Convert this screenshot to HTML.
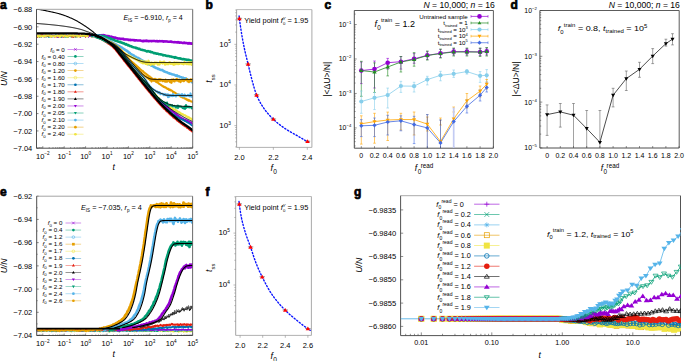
<!DOCTYPE html>
<html><head><meta charset="utf-8"><style>
html,body{margin:0;padding:0;background:#fff;}
svg{display:block;font-family:"Liberation Sans", sans-serif;}
</style></head><body>
<svg width="685" height="361" viewBox="0 0 685 361">
<rect width="685" height="361" fill="#fff"/>
<text x="0" y="9.2" font-size="12" font-weight="bold" fill="#000" stroke="#000" stroke-width="0.7" stroke-linejoin="round">a</text>
<clipPath id="clipA"><rect x="36.5" y="9.3" width="156.2" height="138.89999999999998"/></clipPath>
<text x="32.3" y="12.2" font-size="7.5" text-anchor="end">−6.88</text>
<line x1="36.5" y1="9.5" x2="38.5" y2="9.5" stroke="#333" stroke-width="0.6"/>
<text x="32.3" y="29.55" font-size="7.5" text-anchor="end">−6.90</text>
<line x1="36.5" y1="26.85" x2="38.5" y2="26.85" stroke="#333" stroke-width="0.6"/>
<text x="32.3" y="46.9" font-size="7.5" text-anchor="end">−6.92</text>
<line x1="36.5" y1="44.2" x2="38.5" y2="44.2" stroke="#333" stroke-width="0.6"/>
<text x="32.3" y="64.25" font-size="7.5" text-anchor="end">−6.94</text>
<line x1="36.5" y1="61.55" x2="38.5" y2="61.55" stroke="#333" stroke-width="0.6"/>
<text x="32.3" y="81.6" font-size="7.5" text-anchor="end">−6.96</text>
<line x1="36.5" y1="78.9" x2="38.5" y2="78.9" stroke="#333" stroke-width="0.6"/>
<text x="32.3" y="98.95" font-size="7.5" text-anchor="end">−6.98</text>
<line x1="36.5" y1="96.25" x2="38.5" y2="96.25" stroke="#333" stroke-width="0.6"/>
<text x="32.3" y="116.3" font-size="7.5" text-anchor="end">−7.00</text>
<line x1="36.5" y1="113.6" x2="38.5" y2="113.6" stroke="#333" stroke-width="0.6"/>
<text x="32.3" y="133.65" font-size="7.5" text-anchor="end">−7.02</text>
<line x1="36.5" y1="130.95" x2="38.5" y2="130.95" stroke="#333" stroke-width="0.6"/>
<text x="32.3" y="151" font-size="7.5" text-anchor="end">−7.04</text>
<line x1="36.5" y1="148.3" x2="38.5" y2="148.3" stroke="#333" stroke-width="0.6"/>
<text x="35.98" y="158.6" font-size="7.5">10<tspan font-size="4.65" dy="-3.15">−2</tspan></text>
<text x="57.38" y="158.6" font-size="7.5">10<tspan font-size="4.65" dy="-3.15">−1</tspan></text>
<text x="80.14" y="158.6" font-size="7.5">10<tspan font-size="4.65" dy="-3.15">0</tspan></text>
<text x="101.54" y="158.6" font-size="7.5">10<tspan font-size="4.65" dy="-3.15">1</tspan></text>
<text x="122.94" y="158.6" font-size="7.5">10<tspan font-size="4.65" dy="-3.15">2</tspan></text>
<text x="144.34" y="158.6" font-size="7.5">10<tspan font-size="4.65" dy="-3.15">3</tspan></text>
<text x="165.74" y="158.6" font-size="7.5">10<tspan font-size="4.65" dy="-3.15">4</tspan></text>
<text x="187.14" y="158.6" font-size="7.5">10<tspan font-size="4.65" dy="-3.15">5</tspan></text>
<line x1="38.05" y1="148.2" x2="38.05" y2="147.2" stroke="#444" stroke-width="0.6"/>
<line x1="39.49" y1="148.2" x2="39.49" y2="147.2" stroke="#444" stroke-width="0.6"/>
<line x1="40.73" y1="148.2" x2="40.73" y2="147.2" stroke="#444" stroke-width="0.6"/>
<line x1="41.82" y1="148.2" x2="41.82" y2="147.2" stroke="#444" stroke-width="0.6"/>
<line x1="42.8" y1="148.2" x2="42.8" y2="146.2" stroke="#444" stroke-width="0.6"/>
<line x1="49.24" y1="148.2" x2="49.24" y2="147.2" stroke="#444" stroke-width="0.6"/>
<line x1="53.01" y1="148.2" x2="53.01" y2="147.2" stroke="#444" stroke-width="0.6"/>
<line x1="55.68" y1="148.2" x2="55.68" y2="147.2" stroke="#444" stroke-width="0.6"/>
<line x1="57.76" y1="148.2" x2="57.76" y2="147.2" stroke="#444" stroke-width="0.6"/>
<line x1="59.45" y1="148.2" x2="59.45" y2="147.2" stroke="#444" stroke-width="0.6"/>
<line x1="60.89" y1="148.2" x2="60.89" y2="147.2" stroke="#444" stroke-width="0.6"/>
<line x1="62.13" y1="148.2" x2="62.13" y2="147.2" stroke="#444" stroke-width="0.6"/>
<line x1="63.22" y1="148.2" x2="63.22" y2="147.2" stroke="#444" stroke-width="0.6"/>
<line x1="64.2" y1="148.2" x2="64.2" y2="146.2" stroke="#444" stroke-width="0.6"/>
<line x1="70.64" y1="148.2" x2="70.64" y2="147.2" stroke="#444" stroke-width="0.6"/>
<line x1="74.41" y1="148.2" x2="74.41" y2="147.2" stroke="#444" stroke-width="0.6"/>
<line x1="77.08" y1="148.2" x2="77.08" y2="147.2" stroke="#444" stroke-width="0.6"/>
<line x1="79.16" y1="148.2" x2="79.16" y2="147.2" stroke="#444" stroke-width="0.6"/>
<line x1="80.85" y1="148.2" x2="80.85" y2="147.2" stroke="#444" stroke-width="0.6"/>
<line x1="82.29" y1="148.2" x2="82.29" y2="147.2" stroke="#444" stroke-width="0.6"/>
<line x1="83.53" y1="148.2" x2="83.53" y2="147.2" stroke="#444" stroke-width="0.6"/>
<line x1="84.62" y1="148.2" x2="84.62" y2="147.2" stroke="#444" stroke-width="0.6"/>
<line x1="85.6" y1="148.2" x2="85.6" y2="146.2" stroke="#444" stroke-width="0.6"/>
<line x1="92.04" y1="148.2" x2="92.04" y2="147.2" stroke="#444" stroke-width="0.6"/>
<line x1="95.81" y1="148.2" x2="95.81" y2="147.2" stroke="#444" stroke-width="0.6"/>
<line x1="98.48" y1="148.2" x2="98.48" y2="147.2" stroke="#444" stroke-width="0.6"/>
<line x1="100.56" y1="148.2" x2="100.56" y2="147.2" stroke="#444" stroke-width="0.6"/>
<line x1="102.25" y1="148.2" x2="102.25" y2="147.2" stroke="#444" stroke-width="0.6"/>
<line x1="103.69" y1="148.2" x2="103.69" y2="147.2" stroke="#444" stroke-width="0.6"/>
<line x1="104.93" y1="148.2" x2="104.93" y2="147.2" stroke="#444" stroke-width="0.6"/>
<line x1="106.02" y1="148.2" x2="106.02" y2="147.2" stroke="#444" stroke-width="0.6"/>
<line x1="107" y1="148.2" x2="107" y2="146.2" stroke="#444" stroke-width="0.6"/>
<line x1="113.44" y1="148.2" x2="113.44" y2="147.2" stroke="#444" stroke-width="0.6"/>
<line x1="117.21" y1="148.2" x2="117.21" y2="147.2" stroke="#444" stroke-width="0.6"/>
<line x1="119.88" y1="148.2" x2="119.88" y2="147.2" stroke="#444" stroke-width="0.6"/>
<line x1="121.96" y1="148.2" x2="121.96" y2="147.2" stroke="#444" stroke-width="0.6"/>
<line x1="123.65" y1="148.2" x2="123.65" y2="147.2" stroke="#444" stroke-width="0.6"/>
<line x1="125.09" y1="148.2" x2="125.09" y2="147.2" stroke="#444" stroke-width="0.6"/>
<line x1="126.33" y1="148.2" x2="126.33" y2="147.2" stroke="#444" stroke-width="0.6"/>
<line x1="127.42" y1="148.2" x2="127.42" y2="147.2" stroke="#444" stroke-width="0.6"/>
<line x1="128.4" y1="148.2" x2="128.4" y2="146.2" stroke="#444" stroke-width="0.6"/>
<line x1="134.84" y1="148.2" x2="134.84" y2="147.2" stroke="#444" stroke-width="0.6"/>
<line x1="138.61" y1="148.2" x2="138.61" y2="147.2" stroke="#444" stroke-width="0.6"/>
<line x1="141.28" y1="148.2" x2="141.28" y2="147.2" stroke="#444" stroke-width="0.6"/>
<line x1="143.36" y1="148.2" x2="143.36" y2="147.2" stroke="#444" stroke-width="0.6"/>
<line x1="145.05" y1="148.2" x2="145.05" y2="147.2" stroke="#444" stroke-width="0.6"/>
<line x1="146.49" y1="148.2" x2="146.49" y2="147.2" stroke="#444" stroke-width="0.6"/>
<line x1="147.73" y1="148.2" x2="147.73" y2="147.2" stroke="#444" stroke-width="0.6"/>
<line x1="148.82" y1="148.2" x2="148.82" y2="147.2" stroke="#444" stroke-width="0.6"/>
<line x1="149.8" y1="148.2" x2="149.8" y2="146.2" stroke="#444" stroke-width="0.6"/>
<line x1="156.24" y1="148.2" x2="156.24" y2="147.2" stroke="#444" stroke-width="0.6"/>
<line x1="160.01" y1="148.2" x2="160.01" y2="147.2" stroke="#444" stroke-width="0.6"/>
<line x1="162.68" y1="148.2" x2="162.68" y2="147.2" stroke="#444" stroke-width="0.6"/>
<line x1="164.76" y1="148.2" x2="164.76" y2="147.2" stroke="#444" stroke-width="0.6"/>
<line x1="166.45" y1="148.2" x2="166.45" y2="147.2" stroke="#444" stroke-width="0.6"/>
<line x1="167.89" y1="148.2" x2="167.89" y2="147.2" stroke="#444" stroke-width="0.6"/>
<line x1="169.13" y1="148.2" x2="169.13" y2="147.2" stroke="#444" stroke-width="0.6"/>
<line x1="170.22" y1="148.2" x2="170.22" y2="147.2" stroke="#444" stroke-width="0.6"/>
<line x1="171.2" y1="148.2" x2="171.2" y2="146.2" stroke="#444" stroke-width="0.6"/>
<line x1="177.64" y1="148.2" x2="177.64" y2="147.2" stroke="#444" stroke-width="0.6"/>
<line x1="181.41" y1="148.2" x2="181.41" y2="147.2" stroke="#444" stroke-width="0.6"/>
<line x1="184.08" y1="148.2" x2="184.08" y2="147.2" stroke="#444" stroke-width="0.6"/>
<line x1="186.16" y1="148.2" x2="186.16" y2="147.2" stroke="#444" stroke-width="0.6"/>
<line x1="187.85" y1="148.2" x2="187.85" y2="147.2" stroke="#444" stroke-width="0.6"/>
<line x1="189.29" y1="148.2" x2="189.29" y2="147.2" stroke="#444" stroke-width="0.6"/>
<line x1="190.53" y1="148.2" x2="190.53" y2="147.2" stroke="#444" stroke-width="0.6"/>
<line x1="191.62" y1="148.2" x2="191.62" y2="147.2" stroke="#444" stroke-width="0.6"/>
<line x1="192.6" y1="148.2" x2="192.6" y2="146.2" stroke="#444" stroke-width="0.6"/>
<text x="112.6" y="169.9" font-size="8.8" font-style="italic">t</text>
<text transform="translate(7.3,85.9) rotate(-90)" font-size="8.2" font-style="italic" textLength="14.6" lengthAdjust="spacingAndGlyphs">U/N</text>
<text x="123.4" y="20.1" font-size="7.3" textLength="59.3" lengthAdjust="spacingAndGlyphs"><tspan font-style="italic">E</tspan><tspan font-size="4.6" dy="2.2">IS</tspan><tspan dy="-2.2"> = −6.910, </tspan><tspan font-style="italic">r</tspan><tspan font-size="4.6" dy="2.2">p</tspan><tspan dy="-2.2"> = 4</tspan></text>
<text x="64.8" y="51.5" font-size="6.2" text-anchor="end"><tspan font-style="italic">f</tspan><tspan font-size="4.3" dy="1.4">0</tspan><tspan dy="-1.4"> = 0</tspan></text>
<line x1="67.5" y1="49.4" x2="83.5" y2="49.4" stroke="#9400d3" stroke-width="0.7" opacity="0.65"/>
<path d="M74.05,48.05L76.75,50.75M74.05,50.75L76.75,48.05" stroke="#9400d3" stroke-width="0.6"/>
<text x="64.8" y="58.57" font-size="6.2" text-anchor="end"><tspan font-style="italic">f</tspan><tspan font-size="4.3" dy="1.4">0</tspan><tspan dy="-1.4"> = 0.40</tspan></text>
<line x1="67.5" y1="56.47" x2="83.5" y2="56.47" stroke="#009e73" stroke-width="0.7" opacity="0.65"/>
<circle cx="75.4" cy="56.47" r="1.35" fill="#009e73"/>
<text x="64.8" y="65.64" font-size="6.2" text-anchor="end"><tspan font-style="italic">f</tspan><tspan font-size="4.3" dy="1.4">0</tspan><tspan dy="-1.4"> = 0.80</tspan></text>
<line x1="67.5" y1="63.54" x2="83.5" y2="63.54" stroke="#56b4e9" stroke-width="0.7" opacity="0.65"/>
<circle cx="75.4" cy="63.54" r="1.35" fill="none" stroke="#56b4e9" stroke-width="0.6"/>
<text x="64.8" y="72.71" font-size="6.2" text-anchor="end"><tspan font-style="italic">f</tspan><tspan font-size="4.3" dy="1.4">0</tspan><tspan dy="-1.4"> = 1.20</tspan></text>
<line x1="67.5" y1="70.61" x2="83.5" y2="70.61" stroke="#e69f00" stroke-width="0.7" opacity="0.65"/>
<circle cx="75.4" cy="70.61" r="1.35" fill="#e69f00"/>
<text x="64.8" y="79.78" font-size="6.2" text-anchor="end"><tspan font-style="italic">f</tspan><tspan font-size="4.3" dy="1.4">0</tspan><tspan dy="-1.4"> = 1.60</tspan></text>
<line x1="67.5" y1="77.68" x2="83.5" y2="77.68" stroke="#f0e442" stroke-width="0.7" opacity="0.65"/>
<circle cx="75.4" cy="77.68" r="1.35" fill="none" stroke="#f0e442" stroke-width="0.6"/>
<text x="64.8" y="86.85" font-size="6.2" text-anchor="end"><tspan font-style="italic">f</tspan><tspan font-size="4.3" dy="1.4">0</tspan><tspan dy="-1.4"> = 1.70</tspan></text>
<line x1="67.5" y1="84.75" x2="83.5" y2="84.75" stroke="#0072b2" stroke-width="0.7" opacity="0.65"/>
<circle cx="75.4" cy="84.75" r="1.35" fill="#0072b2"/>
<text x="64.8" y="93.92" font-size="6.2" text-anchor="end"><tspan font-style="italic">f</tspan><tspan font-size="4.3" dy="1.4">0</tspan><tspan dy="-1.4"> = 1.80</tspan></text>
<line x1="67.5" y1="91.82" x2="83.5" y2="91.82" stroke="#e51e10" stroke-width="0.7" opacity="0.65"/>
<path d="M75.4,90.27L76.89,92.83L73.92,92.83Z" fill="#e51e10"/>
<text x="64.8" y="100.99" font-size="6.2" text-anchor="end"><tspan font-style="italic">f</tspan><tspan font-size="4.3" dy="1.4">0</tspan><tspan dy="-1.4"> = 1.90</tspan></text>
<line x1="67.5" y1="98.89" x2="83.5" y2="98.89" stroke="#000000" stroke-width="0.7" opacity="0.65"/>
<path d="M75.4,97.34L76.89,99.9L73.92,99.9Z" fill="#000000"/>
<text x="64.8" y="108.06" font-size="6.2" text-anchor="end"><tspan font-style="italic">f</tspan><tspan font-size="4.3" dy="1.4">0</tspan><tspan dy="-1.4"> = 2.00</tspan></text>
<line x1="67.5" y1="105.96" x2="83.5" y2="105.96" stroke="#9400d3" stroke-width="0.7" opacity="0.65"/>
<path d="M75.4,107.51L76.89,104.95L73.92,104.95Z" fill="#9400d3"/>
<text x="64.8" y="115.13" font-size="6.2" text-anchor="end"><tspan font-style="italic">f</tspan><tspan font-size="4.3" dy="1.4">0</tspan><tspan dy="-1.4"> = 2.05</tspan></text>
<line x1="67.5" y1="113.03" x2="83.5" y2="113.03" stroke="#009e73" stroke-width="0.7" opacity="0.65"/>
<path d="M75.4,114.58L76.89,112.02L73.92,112.02Z" fill="#009e73"/>
<text x="64.8" y="122.2" font-size="6.2" text-anchor="end"><tspan font-style="italic">f</tspan><tspan font-size="4.3" dy="1.4">0</tspan><tspan dy="-1.4"> = 2.10</tspan></text>
<line x1="67.5" y1="120.1" x2="83.5" y2="120.1" stroke="#56b4e9" stroke-width="0.7" opacity="0.65"/>
<circle cx="75.4" cy="120.1" r="1.35" fill="#56b4e9"/>
<text x="64.8" y="129.27" font-size="6.2" text-anchor="end"><tspan font-style="italic">f</tspan><tspan font-size="4.3" dy="1.4">0</tspan><tspan dy="-1.4"> = 2.20</tspan></text>
<line x1="67.5" y1="127.17" x2="83.5" y2="127.17" stroke="#e69f00" stroke-width="0.7" opacity="0.65"/>
<circle cx="75.4" cy="127.17" r="1.35" fill="#e69f00"/>
<text x="64.8" y="136.34" font-size="6.2" text-anchor="end"><tspan font-style="italic">f</tspan><tspan font-size="4.3" dy="1.4">0</tspan><tspan dy="-1.4"> = 2.40</tspan></text>
<line x1="67.5" y1="134.24" x2="83.5" y2="134.24" stroke="#f0e442" stroke-width="0.7" opacity="0.65"/>
<circle cx="75.4" cy="134.24" r="1.35" fill="#f0e442"/>
<g clip-path="url(#clipA)">
<polyline points="36.5,35.25 37,36.43 37.5,36.86 38,36.71 38.5,35.57 39,37.05 39.5,36.7 40,36.61 40.5,36.54 41,36.7 41.5,37.47 42,35.27 42.5,35.74 43,37.03 43.5,34.75 44,36.07 44.5,35.4 45,36.01 45.5,36.48 46,34.76 46.5,35.53 47,35.24 47.5,36.12 48,35.73 48.5,37.31 49,35.62 49.5,37.26 50,35.57 50.5,35.99 51,35.76 51.5,35.71 52,34.87 52.5,36.01 53,36.12 53.5,36.1 54,36.5 54.5,35.52 55,35.99 55.5,35.78 56,35.02 56.5,36.56 57,35.77 57.5,36.11 58,37.76 58.5,36.14 59,35.95 59.5,36.59 60,36.66 60.5,37.06 61,35.32 61.5,37.11 62,35.74 62.5,35.06 63,35.34 63.5,36.97 64,36.79 64.5,37.24 65,35.61 65.5,36.03 66,35.34 66.5,34.68 67,36.05 67.5,37.15 68,36.7 68.5,35.2 69,36.6 69.5,35.27 70,35.95 70.5,36.38 71,35.53 71.5,35.27 72,36.53 72.5,36.01 73,35.81 73.5,36.75 74,36.14 74.5,36.57 75,35.51 75.5,36.7 76,35.35 76.5,35.67 77,34.45 77.5,36.65 78,35.79 78.5,36.05 79,34.44 79.5,35.88 80,35.55 80.5,36.84 81,34.87 81.5,36.41 82,37.02 82.5,35.39 83,36.38 83.5,35.47 84,36.27 84.5,36.4 85,37.04 85.5,36.08 86,35.34 86.5,36.2 87,35.72 87.5,36.51 88,35.26 88.5,36.77 89,35.97 89.5,36.13 90,36.8 90.5,35.75 91,35.85 91.5,36.66 92,36.24 92.5,36.32 93,35.93 93.5,35.92 94,36.7 94.5,37.42 95,34.81 95.5,36.91" fill="none" stroke="#0072b2" stroke-width="0.8" stroke-linejoin="round" stroke-linecap="round"/>
<polyline points="36.5,35.7 37,34.74 37.5,36.65 38,36.67 38.5,35.78 39,36.18 39.5,37.1 40,36.54 40.5,36.24 41,36.22 41.5,35.09 42,36.53 42.5,34.66 43,35.75 43.5,35.77 44,34.89 44.5,36.18 45,37.53 45.5,36.04 46,35.36 46.5,36.13 47,36.75 47.5,36.15 48,35.9 48.5,34.75 49,36.12 49.5,36.07 50,36.71 50.5,36.86 51,36.32 51.5,34.67 52,34.92 52.5,35.28 53,36.41 53.5,35.67 54,37.28 54.5,36.48 55,36.53 55.5,36.75 56,36.36 56.5,34.94 57,37.73 57.5,36.9 58,36.88 58.5,35.14 59,34.32 59.5,34.61 60,35.02 60.5,36.56 61,36.68 61.5,37.2 62,37.8 62.5,36.65 63,36.56 63.5,36.02 64,36 64.5,35.32 65,36.48 65.5,36.23 66,35.59 66.5,35.19 67,36.08 67.5,36.68 68,35.77 68.5,35.96 69,35.4 69.5,35.72 70,35.77 70.5,35.9 71,35.75 71.5,36.56 72,37.27 72.5,35.58 73,37.3 73.5,35.88 74,35.82 74.5,34.37 75,34.07 75.5,36.35 76,34.92 76.5,36.31 77,35.75 77.5,35.94 78,36.82 78.5,35.86 79,33.57 79.5,34.81 80,36.93 80.5,37.77 81,36.23 81.5,35.77 82,35.21 82.5,36.59 83,34.74 83.5,35.05 84,35.98 84.5,35.87 85,35.54 85.5,36.5 86,34.78 86.5,34.86 87,35.51 87.5,35.97 88,35.77 88.5,37.62 89,35.76 89.5,36.75 90,35.86 90.5,36.53 91,35.92 91.5,35.88 92,37.3 92.5,35.72 93,37.16 93.5,35.24 94,35.38 94.5,36.53 95,33.85 95.5,34.5" fill="none" stroke="#9400d3" stroke-width="0.8" stroke-linejoin="round" stroke-linecap="round"/>
<polyline points="36.5,36.51 37,37.56 37.5,36.55 38,34.95 38.5,35.27 39,36.35 39.5,35.69 40,36.68 40.5,34.41 41,37.55 41.5,37.48 42,35.08 42.5,36.02 43,35.84 43.5,36.02 44,37.02 44.5,35.85 45,35.47 45.5,36.6 46,36.98 46.5,35.54 47,36.03 47.5,34.67 48,36.51 48.5,37.52 49,36.3 49.5,35.88 50,34.47 50.5,35.89 51,34.65 51.5,36.9 52,37.72 52.5,37.43 53,36.46 53.5,36.65 54,35.67 54.5,36.26 55,36.16 55.5,35.87 56,33.74 56.5,35.96 57,36.09 57.5,35.18 58,36.15 58.5,36.53 59,34.33 59.5,36.8 60,35.78 60.5,35.34 61,36.39 61.5,35.66 62,35.87 62.5,35.38 63,35.55 63.5,35.03 64,35.41 64.5,34.93 65,34.66 65.5,36.49 66,35.69 66.5,36.03 67,37.1 67.5,36.37 68,35.97 68.5,35.21 69,36.77 69.5,36.6 70,37.07 70.5,36.18 71,35.96 71.5,34.56 72,36.53 72.5,34.8 73,35.5 73.5,36.17 74,35.76 74.5,35.59 75,36.01 75.5,34.31 76,35.79 76.5,36.82 77,36.84 77.5,34.88 78,36.87 78.5,36.55 79,35.48 79.5,35.19 80,36.1 80.5,37.23 81,36.44 81.5,35.23 82,35.94 82.5,36.58 83,35.63 83.5,35.3 84,36.01 84.5,34.07 85,36.09 85.5,34.78 86,35.87 86.5,36.32 87,36.03 87.5,35.62 88,35.94 88.5,36.88 89,35.16 89.5,35.45 90,36.31 90.5,36.58 91,35.84 91.5,35.35 92,36.24 92.5,35.35 93,37.25 93.5,36.73 94,37.22 94.5,35.11 95,35.58 95.5,35.84" fill="none" stroke="#56b4e9" stroke-width="0.8" stroke-linejoin="round" stroke-linecap="round"/>
<polyline points="36.5,36.55 37,34.74 37.5,36.2 38,34.86 38.5,36.64 39,34.77 39.5,35.51 40,35.68 40.5,34.64 41,36.92 41.5,35.14 42,35.3 42.5,35.81 43,36.72 43.5,35.45 44,37.45 44.5,35.84 45,35.56 45.5,36.06 46,35.6 46.5,34.92 47,35.35 47.5,35.97 48,37.12 48.5,36.24 49,36.5 49.5,34.55 50,36.08 50.5,36.28 51,37.6 51.5,37.43 52,36.24 52.5,36.45 53,35.9 53.5,35.31 54,35.78 54.5,35.44 55,35.94 55.5,36.23 56,35.62 56.5,36.68 57,35.1 57.5,36.06 58,36.3 58.5,34.85 59,36.75 59.5,36.84 60,37.57 60.5,36.2 61,36.61 61.5,36.54 62,34.72 62.5,36.08 63,34.69 63.5,35.93 64,36.25 64.5,35.93 65,34.23 65.5,36.95 66,36.18 66.5,36.81 67,35.64 67.5,35.94 68,37.85 68.5,36.15 69,35.96 69.5,35.95 70,36.9 70.5,34.87 71,35.7 71.5,35.18 72,37.65 72.5,36.53 73,35.78 73.5,35.9 74,35.61 74.5,35.53 75,35.83 75.5,37.39 76,35.94 76.5,36.04 77,36.52 77.5,37.41 78,36.64 78.5,35.43 79,36.19 79.5,36.06 80,34.94 80.5,35.28 81,36.03 81.5,35.39 82,36.97 82.5,35.99 83,35.44 83.5,35.81 84,35.28 84.5,35.57 85,36.75 85.5,36.2 86,34.85 86.5,35.3 87,36.72 87.5,35.37 88,35.91 88.5,36.87 89,35.77 89.5,35.64 90,35.48 90.5,36.53 91,35.19 91.5,34.82 92,35.86 92.5,37.11 93,36.26 93.5,37.26 94,37.12 94.5,35.43 95,36.37 95.5,36.26" fill="none" stroke="#e69f00" stroke-width="0.8" stroke-linejoin="round" stroke-linecap="round"/>
<polyline points="36.5,36.24 37,36.33 37.5,35.54 38,36.11 38.5,36.2 39,36.31 39.5,37.93 40,36.08 40.5,36.03 41,35.84 41.5,36.87 42,35.68 42.5,35.82 43,36.46 43.5,36.3 44,34.97 44.5,37.07 45,35.96 45.5,36.53 46,36.16 46.5,37.3 47,35.86 47.5,35.74 48,36.58 48.5,37.34 49,36.29 49.5,36.93 50,37.36 50.5,35.03 51,37.03 51.5,36.75 52,35.44 52.5,35.7 53,35.36 53.5,36.34 54,35.3 54.5,36.32 55,36.98 55.5,34.72 56,36.46 56.5,36.17 57,35.92 57.5,36.65 58,36.21 58.5,35.1 59,35.74 59.5,36.08 60,35.43 60.5,34.88 61,37.66 61.5,36.83 62,36.69 62.5,35.8 63,34.21 63.5,35.62 64,36.33 64.5,35.69 65,35.69 65.5,36.48 66,37.88 66.5,36.55 67,36.41 67.5,35.73 68,37.36 68.5,36.39 69,36.01 69.5,35.72 70,35.44 70.5,36 71,37.36 71.5,35.88 72,36.29 72.5,35.39 73,36.3 73.5,35.09 74,37.36 74.5,35.97 75,36.81 75.5,36.56 76,37.53 76.5,36.85 77,36.81 77.5,35.03 78,35.3 78.5,35.17 79,35.13 79.5,35.15 80,36.44 80.5,35.72 81,35.81 81.5,35.18 82,35.26 82.5,35.05 83,36.97 83.5,36.33 84,36.84 84.5,36.49 85,35.62 85.5,36.2 86,34.56 86.5,36.61 87,35.99 87.5,36.04 88,35.86 88.5,36.19 89,35.53 89.5,35.74 90,35.25 90.5,35.65 91,36.18 91.5,36.73 92,35.86 92.5,35.16 93,34.87 93.5,36.1 94,35.73 94.5,36.68 95,37.38 95.5,35.47" fill="none" stroke="#009e73" stroke-width="0.8" stroke-linejoin="round" stroke-linecap="round"/>
<polyline points="36.5,36.13 37,37.19 37.5,37.78 38,36.26 38.5,36.09 39,37 39.5,36.16 40,36.63 40.5,37.11 41,36.24 41.5,36.57 42,33.96 42.5,36.49 43,35.61 43.5,35.09 44,35.77 44.5,35.1 45,35.21 45.5,34.65 46,35.77 46.5,35.27 47,35.7 47.5,36.87 48,36.25 48.5,35.15 49,36.35 49.5,36.66 50,35.84 50.5,35.76 51,35.62 51.5,34.94 52,36.51 52.5,36.14 53,35.81 53.5,35.94 54,35.97 54.5,37.29 55,36.01 55.5,34.99 56,36.38 56.5,36.91 57,36.68 57.5,35.79 58,34.75 58.5,37.44 59,35.04 59.5,35.81 60,35.55 60.5,35.17 61,35.37 61.5,34.91 62,35.15 62.5,35.55 63,35.94 63.5,37.96 64,35.44 64.5,37.08 65,36.28 65.5,35.89 66,35.04 66.5,35.97 67,35.13 67.5,36.02 68,35.98 68.5,34.74 69,36.48 69.5,35.5 70,35.69 70.5,35.96 71,35.55 71.5,36.74 72,37.29 72.5,36.3 73,36.94 73.5,37.72 74,36.82 74.5,36.11 75,37.12 75.5,36.23 76,35.88 76.5,34.83 77,35.94 77.5,35.12 78,35.91 78.5,34.12 79,34.85 79.5,36.92 80,37.22 80.5,36.27 81,36.3 81.5,34.41 82,36.58 82.5,35.74 83,34.59 83.5,35.42 84,35.3 84.5,36.53 85,36.06 85.5,37.64 86,36.87 86.5,35.74 87,36.07 87.5,34.73 88,36.36 88.5,35.53 89,36.01 89.5,36.25 90,36.14 90.5,35.88 91,36.83 91.5,36.88 92,34.37 92.5,35.79 93,36.04 93.5,35.64 94,36.11 94.5,36.54 95,35.91 95.5,35.62" fill="none" stroke="#e51e10" stroke-width="0.8" stroke-linejoin="round" stroke-linecap="round"/>
<polyline points="36.5,35.47 37,36.23 37.5,35.89 38,35.62 38.5,36.79 39,35.62 39.5,35.91 40,36.78 40.5,35.8 41,36.22 41.5,35.88 42,36.64 42.5,36.23 43,35.63 43.5,35.68 44,36.48 44.5,35.87 45,36.45 45.5,35.12 46,36.19 46.5,35.24 47,35.53 47.5,35.56 48,35.52 48.5,35.13 49,35.74 49.5,35.95 50,36.14 50.5,36.52 51,35.5 51.5,36.28 52,35.82 52.5,36.3 53,36.33 53.5,36.04 54,36.25 54.5,36.09 55,36 55.5,36.99 56,35.54 56.5,35.65 57,35.55 57.5,36.04 58,35.66 58.5,35.76 59,36.33 59.5,35.42 60,35.35 60.5,36.72 61,34.96 61.5,35.51 62,34.67 62.5,35.34 63,36.01 63.5,36.7 64,35.51 64.5,35.47 65,35.98 65.5,36.15 66,35.9 66.5,35.82 67,36.78 67.5,36.15 68,36.35 68.5,35.39 69,35.75 69.5,35.02 70,35.95 70.5,35.58 71,35.56 71.5,35.74 72,34.82 72.5,34.88 73,35.85 73.5,35.37 74,36.14 74.5,35.58 75,35.14 75.5,35.45 76,35.55 76.5,35.99 77,35.92 77.5,36.05 78,35.59 78.5,35.94 79,36.72 79.5,36.58 80,35.63 80.5,35.87 81,35.59 81.5,36.03 82,35.72 82.5,35.38 83,35.8 83.5,35.1 84,35.56 84.5,35.95 85,36.01 85.5,35.8 86,35.4 86.5,36.19 87,36.47 87.5,36.31 88,36.11 88.5,35.81 89,35.88 89.5,36.08 90,35.76 90.5,35.8 91,35.82 91.5,36.89 92,35.8 92.5,36.03 93,35.52 93.5,35.48 94,36.44 94.5,35.72 95,35.61 95.5,35.79 96,36.21 96.5,36.1 97,35.35 97.5,35.72" fill="none" stroke="#f0e442" stroke-width="1.7" stroke-linejoin="round" stroke-linecap="round"/>
<polyline points="90,35.63 90.5,35.51 91,35.53 91.5,35.16 92,35.92 92.5,35.81 93,35.54 93.5,35.74 94,35.65 94.5,35.5 95,35.78 95.5,35.54 96,35.52 96.5,35.42 97,35.62 97.5,35.49 98,35.57 98.5,35.33 99,35.43 99.5,35.21 100,35.5 100.5,35.36 101,35.37 101.5,35.37 102,35.12 102.5,35.46 103,35.72 103.5,35.1 104,35.13 104.5,35.23 105,35.73 105.5,35.67 106,35.93 106.5,35.95 107,35.95 107.5,36.06 108,36.08 108.5,36.36 109,36.1 109.5,36.33 110,36.54 110.5,36.93 111,36.59 111.5,36.67 112,36.9 112.5,37.33 113,37.25 113.5,37.67 114,37.23 114.5,37.88 115,37.97 115.5,37.62 116,38 116.5,38.29 117,38.17 117.5,38.43 118,38.76 118.5,38.46 119,38.45 119.5,38.44 120,38.77 120.5,38.69 121,38.77 121.5,38.85 122,39.06 122.5,38.82 123,38.8 123.5,38.7 124,39.42 124.5,39.27 125,39.59 125.5,39.38 126,39.31 126.5,39.58 127,39.54 127.5,39.39 128,39.51 128.5,40.04 129,39.84 129.5,39.9 130,39.82 130.5,39.8 131,40.13 131.5,40 132,39.92 132.5,40.08 133,39.98 133.5,40.22 134,40.43 134.5,40.11 135,40.56 135.5,40.22 136,40.4 136.5,40.25 137,40.4 137.5,40.48 138,40.43 138.5,40.41 139,40.45 139.5,40.46 140,40.35 140.5,40.62 141,40.77 141.5,40.89 142,40.87 142.5,41.22 143,40.86 143.5,40.75 144,41.19 144.5,40.69 145,41.07 145.5,40.75 146,41 146.5,40.6 147,41.13 147.5,40.96 148,40.83 148.5,41.31 149,41.16 149.5,41.04 150,40.91 150.5,41.04 151,41.03 151.5,41.2 152,41.22 152.5,40.96 153,40.99 153.5,41 154,40.86 154.5,41 155,41.09 155.5,41.24 156,41.36 156.5,40.99 157,41.24 157.5,41.07 158,41.53 158.5,41.16 159,41.27 159.5,41.02 160,41.05 160.5,41.25 161,41.16 161.5,41.31 162,40.99 162.5,41.41 163,41.16 163.5,41.66 164,41.32 164.5,41.6 165,41.19 165.5,41.55 166,41.34 166.5,41.45 167,41.58 167.5,41.56 168,41.7 168.5,41.82 169,41.85 169.5,41.75 170,41.56 170.5,41.7 171,41.85 171.5,41.55 172,42.11 172.5,41.97 173,42 173.5,42.26 174,42.25 174.5,42.2 175,42.02 175.5,42.29 176,42.33 176.5,42.15 177,42.53 177.5,42.47 178,42.07 178.5,42.48 179,42.27 179.5,42.74 180,42.72 180.5,42.41 181,42.49 181.5,42.7 182,42.68 182.5,43.04 183,42.94 183.5,42.79 184,42.99 184.5,42.56 185,43.02 185.5,43.16 186,43.01 186.5,42.95 187,43.22 187.5,43.52 188,43.24 188.5,43.04 189,43.55 189.5,42.99 190,43.46 190.5,43.31 191,43.62 191.5,43.34 192,43.78 192.5,43.64" fill="none" stroke="#9400d3" stroke-width="2.5" stroke-linejoin="round" stroke-linecap="round"/>
<polyline points="92,35.95 92.5,35.13 93,35.67 93.5,35.49 94,35.51 94.5,35.56 95,35.24 95.5,35.56 96,35.45 96.5,36.22 97,35.67 97.5,35.59 98,35.62 98.5,35.57 99,35.52 99.5,35.67 100,35.85 100.5,35.75 101,36 101.5,35.83 102,35.9 102.5,36.23 103,36.13 103.5,36.05 104,36.24 104.5,36.53 105,36.95 105.5,36.74 106,36.94 106.5,37.37 107,37.24 107.5,37.56 108,37.98 108.5,38.13 109,38.25 109.5,38.54 110,38.09 110.5,38.96 111,38.77 111.5,38.82 112,39.34 112.5,39.59 113,39.56 113.5,39.62 114,39.99 114.5,40.15 115,40.59 115.5,40.64 116,40.72 116.5,41.06 117,41 117.5,41.05 118,41.51 118.5,41.69 119,41.72 119.5,41.81 120,42.17 120.5,41.87 121,42.63 121.5,42.78 122,42.58 122.5,43.07 123,43.08 123.5,43.57 124,43.26 124.5,43.65 125,44.13 125.5,44.4 126,43.99 126.5,44.48 127,44.82 127.5,44.84 128,45.43 128.5,45.13 129,45.6 129.5,45.54 130,46.17 130.5,46.1 131,46.22 131.5,46.16 132,46.95 132.5,46.96 133,47.14 133.5,47.37 134,47.4 134.5,47.39 135,47.52 135.5,47.69 136,48.24 136.5,47.89 137,48.21 137.5,48.42 138,48.67 138.5,48.89 139,48.71 139.5,48.78 140,49.24 140.5,49.6 141,49.67 141.5,49.71 142,49.76 142.5,50.01 143,50.05 143.5,50.37 144,50.22 144.5,50.51 145,50.59 145.5,50.83 146,50.89 146.5,51.43 147,51.36 147.5,51.48 148,50.96 148.5,51.38 149,51.45 149.5,51.77 150,51.39 150.5,52.13 151,52.24 151.5,51.94 152,52.12 152.5,52.28 153,52.56 153.5,52.79 154,53.17 154.5,52.9 155,53.2 155.5,53.22 156,53.63 156.5,53.57 157,53.81 157.5,53.5 158,53.78 158.5,53.79 159,54.33 159.5,54.3 160,54.25 160.5,54.34 161,54.62 161.5,54.53 162,54.61 162.5,54.98 163,55.45 163.5,55.08 164,55.14 164.5,55.14 165,55.22 165.5,55.67 166,55.84 166.5,55.79 167,55.96 167.5,56.02 168,56.13 168.5,55.92 169,56.21 169.5,56.41 170,56.34 170.5,56.49 171,56.52 171.5,56.7 172,57 172.5,56.86 173,57 173.5,57.26 174,57.33 174.5,57.61 175,57.02 175.5,57.65 176,57.51 176.5,57.72 177,57.95 177.5,58.09 178,58.19 178.5,58.13 179,58.5 179.5,58.26 180,58.39 180.5,58.66 181,58.52 181.5,59.1 182,59 182.5,59.31 183,59.01 183.5,59.04 184,59.23 184.5,59.42 185,59.28 185.5,59.54 186,59.56 186.5,59.94 187,59.62 187.5,60.02 188,59.8 188.5,59.83 189,59.96 189.5,59.96 190,60.29 190.5,60.53 191,60.45 191.5,60.62 192,60.88 192.5,60.72" fill="none" stroke="#009e73" stroke-width="2.5" stroke-linejoin="round" stroke-linecap="round"/>
<polyline points="94,35.66 94.5,35.75 95,36.09 95.5,35.91 96,35.5 96.5,35.82 97,35.76 97.5,35.97 98,35.76 98.5,36.21 99,36.35 99.5,36.74 100,36.69 100.5,36.9 101,36.73 101.5,37.6 102,37.05 102.5,37.8 103,37.74 103.5,37.85 104,38.08 104.5,38.28 105,38.69 105.5,38.84 106,39.37 106.5,39.04 107,39.64 107.5,39.76 108,40.35 108.5,40.12 109,40.73 109.5,41.13 110,41.11 110.5,41.85 111,41.99 111.5,42.41 112,42.67 112.5,42.59 113,42.88 113.5,43.24 114,43.67 114.5,43.94 115,43.91 115.5,44.18 116,44.4 116.5,44.7 117,45.02 117.5,45.31 118,45.97 118.5,45.78 119,46.09 119.5,46.5 120,46.52 120.5,46.9 121,47.24 121.5,47.66 122,47.57 122.5,48.34 123,48.32 123.5,48.71 124,49.13 124.5,49.41 125,49.79 125.5,49.95 126,50.26 126.5,50.67 127,50.79 127.5,51.55 128,51.57 128.5,51.86 129,52.83 129.5,52.81 130,53 130.5,53.91 131,53.89 131.5,54.49 132,54.5 132.5,54.94 133,55 133.5,55.26 134,55.73 134.5,56.19 135,56.63 135.5,57.21 136,56.86 136.5,57.5 137,57.48 137.5,57.83 138,57.86 138.5,58.12 139,58.51 139.5,58.69 140,59.17 140.5,59.31 141,59.92 141.5,59.99 142,60.26 142.5,60.71 143,60.87 143.5,61.05 144,61.33 144.5,61.61 145,62.12 145.5,62.36 146,62.58 146.5,62.96 147,63.01 147.5,63.5 148,63.44 148.5,64.22 149,64.28 149.5,64.57 150,64.91 150.5,65.06 151,65.27 151.5,65.78 152,65.83 152.5,65.89 153,66.38 153.5,66.23 154,67.07 154.5,66.97 155,67.25 155.5,67.87 156,68.08 156.5,67.94 157,68.26 157.5,68.57 158,68.9 158.5,68.8 159,69.07 159.5,69.49 160,69.53 160.5,69.84 161,70.03 161.5,69.93 162,70.19 162.5,70.08 163,70.72 163.5,71.22 164,70.99 164.5,71.62 165,71.78 165.5,71.8 166,72.02 166.5,72.24 167,72.28 167.5,72.59 168,72.83 168.5,73.15 169,73.38 169.5,73.29 170,73.75 170.5,73.63 171,73.9 171.5,74.16 172,74.24 172.5,74.37 173,74.59 173.5,74.59 174,74.72 174.5,74.95 175,75.32 175.5,75.28 176,75.8 176.5,75.66 177,75.24 177.5,75.86 178,76.4 178.5,76.27 179,76.35 179.5,76.44 180,77 180.5,77.11 181,77.22 181.5,77.34 182,77.69 182.5,77.74 183,77.54 183.5,78.07 184,78.14 184.5,78.27 185,78.62 185.5,78.69 186,78.36 186.5,79.39 187,79.52 187.5,79.54 188,79.74 188.5,80.09 189,80.07 189.5,80.61 190,80.78 190.5,81.04 191,81.22 191.5,81.55 192,82.17 192.5,82.52" fill="none" stroke="#56b4e9" stroke-width="2.5" stroke-linejoin="round" stroke-linecap="round"/>
<polyline points="96,36.32 96.5,36.34 97,36.71 97.5,37.01 98,37.32 98.5,37.26 99,37.29 99.5,37.42 100,37.95 100.5,38.34 101,38.24 101.5,38.11 102,38.39 102.5,39.17 103,39.08 103.5,38.89 104,39.48 104.5,39.49 105,39.86 105.5,40.16 106,40.39 106.5,40.96 107,41.12 107.5,41.31 108,41.85 108.5,42.27 109,42.06 109.5,42.7 110,42.88 110.5,43.41 111,43.51 111.5,44.15 112,44.49 112.5,44.79 113,45 113.5,45.52 114,45.75 114.5,46.08 115,46.83 115.5,46.94 116,47.85 116.5,48.17 117,47.99 117.5,48.92 118,49.04 118.5,49.72 119,50.15 119.5,50.13 120,50.95 120.5,51.38 121,52.08 121.5,52.06 122,52.93 122.5,52.98 123,53.61 123.5,53.96 124,54.92 124.5,55.19 125,56.07 125.5,56.14 126,56.65 126.5,57.11 127,57.25 127.5,57.83 128,58.6 128.5,58.67 129,59.25 129.5,59.66 130,60.25 130.5,60.49 131,60.98 131.5,61.52 132,61.94 132.5,62.18 133,63.02 133.5,62.99 134,63.46 134.5,63.88 135,64.83 135.5,64.98 136,65.29 136.5,65.69 137,66.48 137.5,66.6 138,66.99 138.5,67.85 139,67.9 139.5,68.53 140,69.04 140.5,69.37 141,69.89 141.5,70.62 142,70.64 142.5,70.89 143,71.18 143.5,71.94 144,72.31 144.5,72.84 145,73.08 145.5,73.46 146,73.8 146.5,74.22 147,74.76 147.5,75.02 148,75.5 148.5,76.28 149,76.35 149.5,76.27 150,77.38 150.5,77.46 151,77.56 151.5,78.35 152,78.55 152.5,78.8 153,79.18 153.5,79.49 154,80.1 154.5,80.71 155,80.78 155.5,81.31 156,82 156.5,81.69 157,82.37 157.5,82.59 158,82.77 158.5,83.11 159,83.66 159.5,84.08 160,84.19 160.5,84.64 161,85.09 161.5,85.31 162,85.74 162.5,85.95 163,86.25 163.5,86.84 164,86.86 164.5,87.04 165,87.46 165.5,87.38 166,87.78 166.5,88.3 167,88.52 167.5,88.98 168,88.9 168.5,88.83 169,89.84 169.5,89.91 170,89.69 170.5,90.49 171,90.46 171.5,90.32 172,90.91 172.5,91.17 173,91.93 173.5,91.71 174,92.13 174.5,92.44 175,92.74 175.5,92.94 176,93.51 176.5,94.02 177,94.24 177.5,94.21 178,94.48 178.5,95.07 179,95.19 179.5,95.51 180,95.57 180.5,96.65 181,96.7 181.5,96.54 182,97.22 182.5,97.57 183,97.01 183.5,97.67 184,97.95 184.5,98.43 185,98.51 185.5,98.73 186,99 186.5,99.66 187,99.96 187.5,99.6 188,99.74 188.5,100.76 189,100.17 189.5,100.48 190,100.83 190.5,101.13 191,101.46 191.5,101.52 192,101.44 192.5,101.94" fill="none" stroke="#e69f00" stroke-width="2.1" stroke-linejoin="round" stroke-linecap="round"/>
<polyline points="96,36.51 96.5,36.81 97,36.1 97.5,36.75 98,37.16 98.5,37.41 99,37.47 99.5,37.84 100,37.81 100.5,38.08 101,38.24 101.5,38.22 102,38.5 102.5,38.99 103,39.05 103.5,39.68 104,39.95 104.5,40.31 105,40.22 105.5,40.78 106,40.6 106.5,40.9 107,41.37 107.5,41.7 108,41.63 108.5,41.92 109,42.66 109.5,42.76 110,43.52 110.5,43.72 111,44.08 111.5,44.44 112,44.98 112.5,45.18 113,45.84 113.5,45.95 114,46.46 114.5,46.83 115,47.59 115.5,48.01 116,48.38 116.5,49.53 117,49.65 117.5,50.3 118,51 118.5,51.88 119,52.1 119.5,52.86 120,53.32 120.5,53.58 121,54.6 121.5,55.22 122,55.54 122.5,56.16 123,56.44 123.5,57.01 124,57.81 124.5,58.59 125,58.94 125.5,59.66 126,60.37 126.5,60.76 127,61.41 127.5,62.15 128,62.16 128.5,63.1 129,63.12 129.5,64.13 130,64.62 130.5,65.01 131,65.44 131.5,66.19 132,66.67 132.5,67.32 133,67.68 133.5,68.54 134,68.79 134.5,69.52 135,70.1 135.5,71.03 136,71.08 136.5,71.9 137,72.83 137.5,73.08 138,73.58 138.5,74.51 139,75.01 139.5,75.85 140,76.12 140.5,76.95 141,77.67 141.5,78.37 142,78.57 142.5,79.7 143,79.87 143.5,80.38 144,81.13 144.5,81.98 145,82.52 145.5,83.3 146,83.94 146.5,84.53 147,85.04 147.5,86.07 148,85.88 148.5,86.58 149,87.42 149.5,87.86 150,88.19 150.5,89.12 151,89.69 151.5,89.91 152,91.13 152.5,91.77 153,92.3 153.5,92.49 154,93.17 154.5,93.45 155,94.26 155.5,94.62 156,95.38 156.5,95.78 157,96.62 157.5,97.16 158,97.82 158.5,97.83 159,98.37 159.5,99.38 160,99.74 160.5,100.47 161,100.97 161.5,101.44 162,102.05 162.5,102.41 163,102.8 163.5,102.91 164,103.8 164.5,103.83 165,104.37 165.5,104.54 166,105.05 166.5,105.14 167,105.46 167.5,105.75 168,105.88 168.5,106.21 169,106.6 169.5,106.91 170,107.02 170.5,107.98 171,107.59 171.5,108.01 172,108.83 172.5,108.49 173,109.05 173.5,109.3 174,109.4 174.5,109.43 175,109.69 175.5,110.28 176,110.65 176.5,110.42 177,111.17 177.5,111.3 178,111.89 178.5,112.04 179,112.12 179.5,112.48 180,112.86 180.5,113.39 181,114 181.5,113.73 182,113.95 182.5,114.32 183,114.44 183.5,114.82 184,115.02 184.5,115.19 185,115.28 185.5,115.72 186,116.12 186.5,116.21 187,116.76 187.5,116.91 188,116.96 188.5,117.6 189,117.31 189.5,118.04 190,118.45 190.5,118.31 191,118.63 191.5,119.12 192,119.5 192.5,119.59" fill="none" stroke="#f0e442" stroke-width="2.2" stroke-linejoin="round" stroke-linecap="round"/>
<polyline points="96,36.5 96.5,36.71 97,36.75 97.5,36.8 98,37.07 98.5,37.15 99,37.56 99.5,38.02 100,37.87 100.5,38.06 101,38.52 101.5,38.73 102,38.92 102.5,38.97 103,39.4 103.5,39.81 104,39.67 104.5,40.12 105,40.11 105.5,40.52 106,40.7 106.5,41.31 107,41.4 107.5,42.01 108,42.3 108.5,42.55 109,42.43 109.5,43.17 110,43.63 110.5,44.04 111,44.1 111.5,44.71 112,45.02 112.5,45.48 113,46.29 113.5,46.37 114,46.99 114.5,47.67 115,47.91 115.5,48.57 116,49.21 116.5,49.82 117,50.2 117.5,51.11 118,52.02 118.5,52.09 119,53.22 119.5,53.71 120,54.17 120.5,55.31 121,55.67 121.5,55.89 122,56.75 122.5,57.46 123,57.92 123.5,58.71 124,59.17 124.5,59.92 125,60.68 125.5,60.86 126,61.64 126.5,62.11 127,62.83 127.5,63.16 128,63.87 128.5,64.53 129,65.33 129.5,65.97 130,66.05 130.5,66.74 131,67.61 131.5,67.66 132,68.55 132.5,69.21 133,70.07 133.5,70.54 134,70.93 134.5,71.52 135,72.15 135.5,73.1 136,73.32 136.5,73.95 137,74.69 137.5,75.2 138,75.8 138.5,76.23 139,77.06 139.5,77.59 140,78.53 140.5,79.06 141,79.55 141.5,80.33 142,80.77 142.5,81.69 143,82.12 143.5,82.87 144,83.13 144.5,84.07 145,84.26 145.5,84.78 146,85.7 146.5,86.15 147,86.92 147.5,87.9 148,87.83 148.5,88.42 149,89.14 149.5,89.75 150,90.16 150.5,90.72 151,91.46 151.5,91.98 152,92.23 152.5,92.98 153,93.56 153.5,93.9 154,94.71 154.5,95.03 155,95.94 155.5,96.31 156,96.82 156.5,97.2 157,97.81 157.5,97.94 158,98.62 158.5,99.42 159,99.42 159.5,100.51 160,100.48 160.5,101.46 161,101.62 161.5,102.42 162,102.76 162.5,102.89 163,103.91 163.5,104.41 164,104.56 164.5,104.97 165,105.44 165.5,105.72 166,106.58 166.5,106.68 167,107.21 167.5,107.49 168,107.94 168.5,108.23 169,109.14 169.5,109.27 170,109.89 170.5,110.09 171,110.34 171.5,110.8 172,111.13 172.5,111.63 173,111.93 173.5,112.32 174,112.48 174.5,112.97 175,113.83 175.5,113.74 176,114.05 176.5,114.72 177,115.32 177.5,115.13 178,115.77 178.5,116.06 179,116.2 179.5,117.06 180,117.25 180.5,117.59 181,117.73 181.5,118.26 182,118.33 182.5,118.67 183,118.72 183.5,118.93 184,119.67 184.5,119.53 185,119.91 185.5,120.06 186,120.21 186.5,120.42 187,120.88 187.5,120.94 188,121.22 188.5,121.51 189,121.99 189.5,122.15 190,122.35 190.5,122.42 191,122.52 191.5,123.25 192,123.52 192.5,123.56" fill="none" stroke="#9400d3" stroke-width="2.2" stroke-linejoin="round" stroke-linecap="round"/>
<polyline points="96,36.15 96.5,36.29 97,36.36 97.5,36.66 98,36.38 98.5,36.93 99,36.93 99.5,37.47 100,37.66 100.5,37.95 101,38.04 101.5,38.11 102,38.54 102.5,38.93 103,38.77 103.5,39.31 104,39.48 104.5,40.08 105,39.95 105.5,40.39 106,40.86 106.5,41.19 107,41.18 107.5,41.94 108,42.23 108.5,42.59 109,43 109.5,43.47 110,43.47 110.5,44.55 111,44.48 111.5,44.62 112,45.47 112.5,46.21 113,46.24 113.5,47.08 114,47.51 114.5,47.49 115,47.7 115.5,48.52 116,49.62 116.5,49.87 117,50.41 117.5,51.14 118,52.11 118.5,52.8 119,53.67 119.5,54.36 120,54.61 120.5,55.39 121,55.81 121.5,56.67 122,57.03 122.5,57.64 123,58.91 123.5,59.1 124,59.83 124.5,60.81 125,61.06 125.5,61.48 126,62.12 126.5,62.55 127,63.52 127.5,63.83 128,64.84 128.5,65 129,65.58 129.5,66.15 130,66.94 130.5,67.44 131,68.25 131.5,68.45 132,69.2 132.5,70.11 133,70.27 133.5,71.01 134,71.81 134.5,72.21 135,72.57 135.5,72.89 136,74.39 136.5,74.6 137,75.38 137.5,75.64 138,76.71 138.5,77.06 139,77.58 139.5,78.01 140,78.87 140.5,79.32 141,79.99 141.5,80.34 142,81.19 142.5,81.95 143,82.3 143.5,83.2 144,83.95 144.5,84.39 145,84.96 145.5,85.59 146,86.53 146.5,86.67 147,87.53 147.5,88.13 148,88.85 148.5,89.41 149,89.8 149.5,91.02 150,91.24 150.5,91.51 151,92.18 151.5,92.95 152,93.62 152.5,93.8 153,94.78 153.5,94.93 154,95.61 154.5,96.5 155,97.22 155.5,97.42 156,97.92 156.5,98.78 157,98.86 157.5,99.66 158,100.19 158.5,100.87 159,101.25 159.5,101.66 160,102.35 160.5,102.5 161,103.39 161.5,103.59 162,104.03 162.5,104.63 163,105.19 163.5,105.8 164,106.09 164.5,106.76 165,107.28 165.5,107.54 166,107.83 166.5,108.68 167,109.01 167.5,108.99 168,109.67 168.5,110.34 169,110.48 169.5,111.06 170,111.28 170.5,112.13 171,112.52 171.5,112.91 172,113.57 172.5,113.6 173,114 173.5,114.84 174,114.54 174.5,115.3 175,115.24 175.5,115.88 176,116.58 176.5,116.53 177,116.63 177.5,117.56 178,117.27 178.5,117.62 179,118 179.5,117.95 180,118.71 180.5,119.08 181,119.18 181.5,119.35 182,119.52 182.5,119.98 183,119.44 183.5,120.3 184,120.64 184.5,120.45 185,121.2 185.5,121.36 186,121.65 186.5,121.95 187,122.33 187.5,122.59 188,122.58 188.5,123.06 189,123.34 189.5,123.68 190,123.85 190.5,124.47 191,124.83 191.5,125.18 192,125.56 192.5,125.78" fill="none" stroke="#0072b2" stroke-width="1.6" stroke-linejoin="round" stroke-linecap="round"/>
<polyline points="96,37.28 96.5,37.59 97,37.46 97.5,37.97 98,38.21 98.5,38.15 99,38.47 99.5,38.64 100,38.74 100.5,38.88 101,38.94 101.5,39.7 102,39.75 102.5,40.41 103,40.44 103.5,40.66 104,40.82 104.5,41.45 105,41.49 105.5,42.13 106,42.17 106.5,42.59 107,42.67 107.5,43.59 108,43.57 108.5,43.88 109,44.42 109.5,44.54 110,45.16 110.5,45.26 111,45.92 111.5,46.09 112,46.39 112.5,47.02 113,47.34 113.5,48.1 114,48.5 114.5,49.08 115,49.57 115.5,50.08 116,50.74 116.5,51.52 117,51.97 117.5,52.54 118,53.16 118.5,53.93 119,54.51 119.5,55.55 120,55.72 120.5,56.36 121,57.1 121.5,57.87 122,58.36 122.5,58.89 123,59.54 123.5,60.24 124,61.07 124.5,61.41 125,62.17 125.5,62.73 126,63.5 126.5,64.13 127,64.48 127.5,65.68 128,65.98 128.5,66.49 129,67.06 129.5,67.77 130,68.44 130.5,69.14 131,69.67 131.5,70.37 132,70.67 132.5,71.42 133,72 133.5,72.8 134,73.47 134.5,73.8 135,74.62 135.5,75.38 136,76.04 136.5,76.36 137,77.24 137.5,77.83 138,78.34 138.5,79.32 139,79.49 139.5,80.24 140,80.97 140.5,81.56 141,82.12 141.5,82.97 142,83.61 142.5,84.15 143,84.78 143.5,85.24 144,85.69 144.5,86.81 145,86.96 145.5,88.05 146,88.31 146.5,88.98 147,89.53 147.5,90.31 148,90.7 148.5,91.66 149,92.07 149.5,92.62 150,93.11 150.5,93.84 151,94.4 151.5,95.29 152,95.74 152.5,95.97 153,97.03 153.5,97.04 154,98.21 154.5,98.29 155,99.15 155.5,99.85 156,100.3 156.5,100.7 157,101.62 157.5,101.73 158,102.34 158.5,103.32 159,103.54 159.5,104.25 160,104.88 160.5,105.28 161,105.87 161.5,106.38 162,106.92 162.5,107.58 163,108.05 163.5,108.46 164,109.05 164.5,109.33 165,109.79 165.5,110.24 166,110.99 166.5,111.59 167,111.83 167.5,111.99 168,112.68 168.5,113.29 169,113.72 169.5,114.14 170,114.73 170.5,115.16 171,115.27 171.5,115.97 172,116.23 172.5,116.81 173,117.39 173.5,117.91 174,118.16 174.5,118.4 175,118.85 175.5,119.4 176,119.59 176.5,120.14 177,120.66 177.5,121.12 178,121.34 178.5,121.85 179,122.4 179.5,122.64 180,122.73 180.5,123.4 181,123.79 181.5,124.06 182,124.49 182.5,124.62 183,125.38 183.5,125.6 184,125.8 184.5,126.26 185,126.58 185.5,126.77 186,126.84 186.5,127.16 187,128.25 187.5,128.13 188,128.62 188.5,129.12 189,129.34 189.5,129.95 190,130 190.5,130.6 191,130.58 191.5,131.39 192,131.76 192.5,132.1" fill="none" stroke="#e51e10" stroke-width="1.4" stroke-linejoin="round" stroke-linecap="round"/>
<polyline points="96,36.2 96.5,36.32 97,36.45 97.5,36.59 98,36.74 98.5,36.9 99,37.06 99.5,37.23 100,37.4 100.5,37.59 101,37.77 101.5,37.97 102,38.16 102.5,38.37 103,38.57 103.5,38.79 104,39 104.5,39.22 105,39.46 105.5,39.7 106,39.96 106.5,40.22 107,40.5 107.5,40.78 108,41.07 108.5,41.37 109,41.68 109.5,41.99 110,42.3 110.5,42.63 111,42.97 111.5,43.33 112,43.7 112.5,44.08 113,44.46 113.5,44.85 114,45.24 114.5,45.62 115,46 115.5,46.38 116,46.75 116.5,47.13 117,47.51 117.5,47.89 118,48.28 118.5,48.66 119,49.04 119.5,49.42 120,49.8 120.5,50.19 121,50.58 121.5,50.98 122,51.38 122.5,51.77 123,52.16 123.5,52.55 124,52.91 124.5,53.27 125,53.6 125.5,53.92 126,54.22 126.5,54.52 127,54.81 127.5,55.1 128,55.37 128.5,55.65 129,55.91 129.5,56.17 130,56.43 130.5,56.69 131,56.94 131.5,57.2 132,57.45 132.5,57.7 133,57.95 133.5,58.19 134,58.43 134.5,58.68 135,58.89 135.5,59.11 136,59.38 136.5,59.48 137,60.05 137.5,60.27 138,60.48 138.5,60.46 139,61.04 139.5,61.48 140,61.5 140.5,61.31 141,60.61 141.5,62.65 142,61.91 142.5,61.69 143,63.24 143.5,62.91 144,61.53 144.5,62.76 145,62.71 145.5,63.88 146,61.5 146.5,62.85 147,63.12 147.5,64.48 148,62.38 148.5,60.82 149,62.15 149.5,63.57 150,64.04 150.5,64.84 151,63.71 151.5,62.7 152,64.14 152.5,63.38 153,63.23 153.5,63.41 154,64.48 154.5,62.63 155,62.53 155.5,63.34 156,63.34 156.5,62.71 157,62.65 157.5,63.72 158,64.54 158.5,64.01 159,63.98 159.5,64.46 160,61.71 160.5,62.12 161,62.8 161.5,62.38 162,62.56 162.5,63.46 163,62.31 163.5,63.02 164,61.66 164.5,62.57 165,64.54 165.5,62.94 166,63.68 166.5,64 167,62.98 167.5,63.89 168,63.58 168.5,63.99 169,62.86 169.5,62.18 170,62.53 170.5,62.93 171,63.86 171.5,63.23 172,63.06 172.5,63.25 173,64.33 173.5,62.91 174,64.68 174.5,62.36 175,62.9 175.5,64.13 176,63.84 176.5,62.67 177,63.31 177.5,62.8 178,64.12 178.5,63.86 179,62.79 179.5,63.74 180,63.09 180.5,63.34 181,63.45 181.5,62.92 182,63.76 182.5,63.79 183,63.76 183.5,64.34 184,63.17 184.5,62.14 185,62.98 185.5,63.57 186,63.42 186.5,63.89 187,64.09 187.5,63.3 188,63.31 188.5,62.56 189,64.28 189.5,63.18 190,62.48 190.5,62.45 191,63.05 191.5,64.72 192,64.06 192.5,61.96" fill="none" stroke="#f0e442" stroke-width="2.4" stroke-linejoin="round" stroke-linecap="round"/>
<polyline points="96,36.4 96.5,36.58 97,36.75 97.5,36.93 98,37.12 98.5,37.3 99,37.49 99.5,37.68 100,37.88 100.5,38.07 101,38.27 101.5,38.47 102,38.67 102.5,38.88 103,39.08 103.5,39.29 104,39.5 104.5,39.71 105,39.93 105.5,40.14 106,40.36 106.5,40.58 107,40.8 107.5,41.02 108,41.24 108.5,41.46 109,41.68 109.5,41.9 110,42.12 110.5,42.35 111,42.59 111.5,42.83 112,43.09 112.5,43.35 113,43.62 113.5,43.9 114,44.2 114.5,44.51 115,44.85 115.5,45.2 116,45.57 116.5,45.95 117,46.35 117.5,46.77 118,47.19 118.5,47.63 119,48.08 119.5,48.54 120,49 120.5,49.48 121,49.99 121.5,50.52 122,51.08 122.5,51.64 123,52.23 123.5,52.82 124,53.42 124.5,54.02 125,54.63 125.5,55.23 126,55.83 126.5,56.42 127,57 127.5,57.57 128,58.14 128.5,58.72 129,59.29 129.5,59.86 130,60.44 130.5,61.01 131,61.58 131.5,62.15 132,62.72 132.5,63.29 133,63.86 133.5,64.43 134,65 134.5,65.57 135,66.14 135.5,66.71 136,67.29 136.5,67.85 137,68.41 137.5,68.96 138,69.5 138.5,70.03 139,70.56 139.5,71.1 140,71.62 140.5,72.14 141,72.64 141.5,73.14 142,73.61 142.5,74.07 143,74.5 143.5,74.91 144,75.32 144.5,75.71 145,76.1 145.5,76.41 146,76.79 146.5,77.05 147,77.44 147.5,77.97 148,77.82 148.5,78.62 149,79.04 149.5,79.22 150,80.04 150.5,79.29 151,79.99 151.5,81.53 152,79.81 152.5,79.81 153,80.07 153.5,80.71 154,79.73 154.5,80.16 155,78.86 155.5,79.54 156,79.58 156.5,79.46 157,80.1 157.5,81.12 158,80.16 158.5,79.31 159,80.72 159.5,80.65 160,79.24 160.5,80.63 161,79.53 161.5,79.93 162,79.84 162.5,81.24 163,79.76 163.5,80.21 164,80.66 164.5,81.43 165,81.56 165.5,79.58 166,81.57 166.5,80.77 167,81.57 167.5,81.45 168,80.02 168.5,80.53 169,80.23 169.5,80.84 170,81.99 170.5,80.55 171,79.9 171.5,82.78 172,79.61 172.5,80.5 173,80.49 173.5,79.36 174,81.21 174.5,81.46 175,80.43 175.5,80.55 176,80.35 176.5,78.91 177,80.72 177.5,79.38 178,79.64 178.5,80.86 179,81.33 179.5,79.72 180,81.53 180.5,82.09 181,80.65 181.5,80.43 182,80.68 182.5,80.14 183,79.73 183.5,81.08 184,81.15 184.5,80.05 185,80.14 185.5,79.94 186,79.87 186.5,79.63 187,79.15 187.5,81.31 188,80.19 188.5,80.56 189,82.11 189.5,80.07 190,81.02 190.5,79.29 191,79.94 191.5,81.12 192,80.27 192.5,79.22" fill="none" stroke="#e69f00" stroke-width="2.2" stroke-linejoin="round" stroke-linecap="round"/>
<polyline points="96,36.5 96.5,36.66 97,36.82 97.5,36.99 98,37.16 98.5,37.34 99,37.53 99.5,37.71 100,37.91 100.5,38.1 101,38.31 101.5,38.51 102,38.72 102.5,38.94 103,39.15 103.5,39.37 104,39.6 104.5,39.82 105,40.05 105.5,40.29 106,40.52 106.5,40.76 107,41 107.5,41.24 108,41.49 108.5,41.75 109,42.01 109.5,42.27 110,42.55 110.5,42.83 111,43.11 111.5,43.41 112,43.71 112.5,44.02 113,44.34 113.5,44.66 114,45 114.5,45.35 115,45.71 115.5,46.08 116,46.46 116.5,46.86 117,47.27 117.5,47.7 118,48.13 118.5,48.58 119,49.04 119.5,49.51 120,50 120.5,50.51 121,51.04 121.5,51.61 122,52.19 122.5,52.8 123,53.42 123.5,54.05 124,54.69 124.5,55.33 125,55.98 125.5,56.62 126,57.26 126.5,57.89 127,58.5 127.5,59.11 128,59.72 128.5,60.34 129,60.96 129.5,61.58 130,62.19 130.5,62.81 131,63.43 131.5,64.04 132,64.64 132.5,65.24 133,65.84 133.5,66.42 134,67 134.5,67.57 135,68.12 135.5,68.67 136,69.21 136.5,69.74 137,70.27 137.5,70.8 138,71.33 138.5,71.87 139,72.41 139.5,72.95 140,73.5 140.5,74.05 141,74.6 141.5,75.14 142,75.68 142.5,76.23 143,76.79 143.5,77.37 144,77.96 144.5,78.57 145,79.2 145.5,79.89 146,80.63 146.5,81.4 147,82.17 147.5,82.91 148,83.6 148.5,84.25 149,84.89 149.5,85.51 150,86.12 150.5,86.69 151,87.24 151.5,87.74 152,88.2 152.5,88.63 153,89.03 153.5,89.51 154,89.83 154.5,90.2 155,90.39 155.5,90.8 156,91.57 156.5,91.76 157,91.41 157.5,91.69 158,92.78 158.5,92.06 159,93.09 159.5,92.16 160,93.34 160.5,94.17 161,93.88 161.5,93.63 162,93.73 162.5,93.74 163,93.98 163.5,95.09 164,95.28 164.5,94.93 165,93.88 165.5,94.6 166,95.34 166.5,95.23 167,94.21 167.5,95.76 168,97.24 168.5,94.4 169,95.39 169.5,96.59 170,95.08 170.5,95.11 171,95.56 171.5,95.87 172,95.15 172.5,96.21 173,94.05 173.5,95.98 174,95.77 174.5,95.38 175,95.79 175.5,95.54 176,96.5 176.5,95.15 177,95.47 177.5,94.46 178,94.66 178.5,95.32 179,94.33 179.5,94.86 180,94.51 180.5,95.13 181,95.59 181.5,96.21 182,94.04 182.5,95.35 183,96.15 183.5,96.54 184,96.55 184.5,94.42 185,95.12 185.5,95.92 186,96.2 186.5,95.71 187,95.7 187.5,95.68 188,94.92 188.5,95.62 189,96.11 189.5,95.25 190,96.38 190.5,93.37 191,95.26 191.5,96.78 192,96.16 192.5,96.58" fill="none" stroke="#56b4e9" stroke-width="2.0" stroke-linejoin="round" stroke-linecap="round"/>
<polyline points="96,37.3 96.5,37.46 97,37.63 97.5,37.8 98,37.98 98.5,38.16 99,38.35 99.5,38.55 100,38.75 100.5,38.95 101,39.16 101.5,39.38 102,39.6 102.5,39.82 103,40.05 103.5,40.28 104,40.52 104.5,40.76 105,41 105.5,41.25 106,41.49 106.5,41.75 107,42 107.5,42.26 108,42.52 108.5,42.79 109,43.07 109.5,43.36 110,43.65 110.5,43.95 111,44.26 111.5,44.58 112,44.9 112.5,45.24 113,45.58 113.5,45.94 114,46.3 114.5,46.68 115,47.07 115.5,47.48 116,47.91 116.5,48.35 117,48.81 117.5,49.27 118,49.76 118.5,50.25 119,50.76 119.5,51.27 120,51.8 120.5,52.35 121,52.92 121.5,53.52 122,54.13 122.5,54.77 123,55.42 123.5,56.08 124,56.75 124.5,57.42 125,58.1 125.5,58.78 126,59.46 126.5,60.13 127,60.8 127.5,61.47 128,62.14 128.5,62.83 129,63.52 129.5,64.22 130,64.91 130.5,65.61 131,66.3 131.5,66.99 132,67.68 132.5,68.35 133,69.02 133.5,69.67 134,70.3 134.5,70.92 135,71.54 135.5,72.15 136,72.75 136.5,73.35 137,73.93 137.5,74.51 138,75.09 138.5,75.65 139,76.21 139.5,76.76 140,77.3 140.5,77.83 141,78.34 141.5,78.85 142,79.35 142.5,79.84 143,80.32 143.5,80.81 144,81.3 144.5,81.8 145,82.3 145.5,82.8 146,83.31 146.5,83.81 147,84.32 147.5,84.85 148,85.4 148.5,85.98 149,86.57 149.5,87.19 150,87.82 150.5,88.46 151,89.1 151.5,89.75 152,90.4 152.5,91.06 153,91.75 153.5,92.46 154,93.17 154.5,93.87 155,94.54 155.5,95.19 156,95.78 156.5,96.32 157,96.85 157.5,97.36 158,97.86 158.5,98.34 159,98.81 159.5,99.26 160,99.7 160.5,100.12 161,100.48 161.5,100.94 162,101.2 162.5,101.59 163,101.83 163.5,102.25 164,102.6 164.5,103.01 165,102.63 165.5,104.12 166,103.11 166.5,103.81 167,102.45 167.5,104.56 168,105.26 168.5,105.65 169,105.32 169.5,105.47 170,104.71 170.5,105.08 171,105.39 171.5,105.81 172,104.97 172.5,105.66 173,106.49 173.5,106.3 174,106.16 174.5,105.69 175,106.64 175.5,106.61 176,107.71 176.5,106.59 177,107.41 177.5,105.62 178,108.14 178.5,105.66 179,106.73 179.5,106.54 180,106.39 180.5,106.63 181,106.48 181.5,107.02 182,107.18 182.5,107.9 183,108 183.5,108.44 184,107.43 184.5,106.43 185,108.94 185.5,107.54 186,105.08 186.5,107.73 187,107.01 187.5,106.57 188,106.66 188.5,107.2 189,106.51 189.5,107.35 190,107.04 190.5,107.03 191,107.54 191.5,107.45 192,108.47 192.5,107.58" fill="none" stroke="#009e73" stroke-width="2.0" stroke-linejoin="round" stroke-linecap="round"/>
<polyline points="36.5,9 37,9.08 37.5,9.17 38,9.25 38.5,9.34 39,9.43 39.5,9.52 40,9.61 40.5,9.7 41,9.79 41.5,9.88 42,9.98 42.5,10.07 43,10.17 43.5,10.27 44,10.36 44.5,10.46 45,10.56 45.5,10.66 46,10.76 46.5,10.86 47,10.97 47.5,11.07 48,11.18 48.5,11.28 49,11.39 49.5,11.49 50,11.6 50.5,11.71 51,11.81 51.5,11.92 52,12.03 52.5,12.14 53,12.25 53.5,12.36 54,12.47 54.5,12.59 55,12.7 55.5,12.82 56,12.94 56.5,13.06 57,13.18 57.5,13.31 58,13.44 58.5,13.58 59,13.71 59.5,13.86 60,14 60.5,14.15 61,14.3 61.5,14.46 62,14.62 62.5,14.79 63,14.95 63.5,15.13 64,15.3 64.5,15.48 65,15.66 65.5,15.85 66,16.04 66.5,16.24 67,16.43 67.5,16.63 68,16.84 68.5,17.04 69,17.25 69.5,17.46 70,17.68 70.5,17.9 71,18.12 71.5,18.34 72,18.57 72.5,18.8 73,19.03 73.5,19.26 74,19.5 74.5,19.74 75,19.99 75.5,20.25 76,20.51 76.5,20.78 77,21.05 77.5,21.33 78,21.62 78.5,21.91 79,22.21 79.5,22.51 80,22.81 80.5,23.12 81,23.43 81.5,23.75 82,24.06 82.5,24.38 83,24.7 83.5,25.03 84,25.35 84.5,25.67 85,26 85.5,26.33 86,26.66 86.5,27 87,27.34 87.5,27.69 88,28.05 88.5,28.4 89,28.76 89.5,29.13 90,29.5 90.5,29.87 91,30.24 91.5,30.62 92,31 92.5,31.39 93,31.79 93.5,32.21 94,32.63 94.5,33.06 95,33.48 95.5,33.9 96,34.31 96.5,34.7 97,35.08 97.5,35.44 98,35.78 98.5,36.11 99,36.43 99.5,36.75 100,37.06 100.5,37.36 101,37.67 101.5,37.98 102,38.3 102.5,38.62 103,38.94 103.5,39.25 104,39.57 104.5,39.89 105,40.21 105.5,40.53 106,40.85 106.5,41.18 107,41.51 107.5,41.85 108,42.2 108.5,42.55 109,42.91 109.5,43.28 110,43.65 110.5,44.03 111,44.41 111.5,44.8 112,45.19 112.5,45.58 113,45.98 113.5,46.39 114,46.8" fill="none" stroke="#000000" stroke-width="1.1" stroke-linejoin="round" stroke-linecap="round"/>
<polyline points="36.5,23.5 37,23.53 37.5,23.57 38,23.6 38.5,23.63 39,23.67 39.5,23.71 40,23.74 40.5,23.78 41,23.82 41.5,23.86 42,23.9 42.5,23.94 43,23.98 43.5,24.02 44,24.06 44.5,24.1 45,24.14 45.5,24.19 46,24.23 46.5,24.27 47,24.32 47.5,24.37 48,24.41 48.5,24.46 49,24.5 49.5,24.55 50,24.6 50.5,24.65 51,24.7 51.5,24.75 52,24.8 52.5,24.85 53,24.9 53.5,24.95 54,25 54.5,25.06 55,25.11 55.5,25.16 56,25.22 56.5,25.28 57,25.33 57.5,25.39 58,25.45 58.5,25.51 59,25.57 59.5,25.63 60,25.69 60.5,25.75 61,25.81 61.5,25.88 62,25.94 62.5,26.01 63,26.07 63.5,26.14 64,26.21 64.5,26.28 65,26.35 65.5,26.42 66,26.5 66.5,26.57 67,26.65 67.5,26.72 68,26.8 68.5,26.88 69,26.96 69.5,27.04 70,27.12 70.5,27.21 71,27.3 71.5,27.38 72,27.47 72.5,27.57 73,27.66 73.5,27.75 74,27.85 74.5,27.95 75,28.05 75.5,28.16 76,28.26 76.5,28.37 77,28.48 77.5,28.6 78,28.71 78.5,28.83 79,28.95 79.5,29.07 80,29.2 80.5,29.33 81,29.47 81.5,29.62 82,29.78 82.5,29.95 83,30.12 83.5,30.29 84,30.47 84.5,30.65 85,30.83 85.5,31.02 86,31.2 86.5,31.38 87,31.56 87.5,31.74 88,31.92 88.5,32.1 89,32.28 89.5,32.46 90,32.64 90.5,32.83 91,33.02 91.5,33.21 92,33.41 92.5,33.61 93,33.82 93.5,34.03 94,34.25 94.5,34.47 95,34.7 95.5,34.93 96,35.17 96.5,35.42 97,35.66 97.5,35.91 98,36.17 98.5,36.42 99,36.68 99.5,36.94 100,37.2 100.5,37.46 101,37.73 101.5,37.99 102,38.26 102.5,38.54 103,38.82 103.5,39.1 104,39.39 104.5,39.68 105,39.98 105.5,40.29 106,40.6 106.5,40.92 107,41.25 107.5,41.58 108,41.93 108.5,42.27 109,42.63 109.5,42.99 110,43.35 110.5,43.72 111,44.1 111.5,44.49 112,44.88 112.5,45.27 113,45.68 113.5,46.09 114,46.5" fill="none" stroke="#000000" stroke-width="1.0" stroke-linejoin="round" stroke-linecap="round"/>
<polyline points="96,36.2 96.5,36.32 97,36.45 97.5,36.59 98,36.74 98.5,36.9 99,37.06 99.5,37.23 100,37.4 100.5,37.59 101,37.77 101.5,37.97 102,38.16 102.5,38.37 103,38.57 103.5,38.79 104,39 104.5,39.22 105,39.46 105.5,39.7 106,39.96 106.5,40.22 107,40.5 107.5,40.78 108,41.07 108.5,41.37 109,41.68 109.5,41.99 110,42.3 110.5,42.63 111,42.97 111.5,43.33 112,43.7 112.5,44.08 113,44.46 113.5,44.85 114,45.24 114.5,45.62 115,46 115.5,46.38 116,46.75 116.5,47.13 117,47.51 117.5,47.89 118,48.28 118.5,48.66 119,49.04 119.5,49.42 120,49.8 120.5,50.19 121,50.58 121.5,50.98 122,51.38 122.5,51.77 123,52.16 123.5,52.55 124,52.91 124.5,53.27 125,53.6 125.5,53.92 126,54.23 126.5,54.53 127,54.82 127.5,55.11 128,55.39 128.5,55.66 129,55.93 129.5,56.19 130,56.45 130.5,56.7 131,56.95 131.5,57.2 132,57.45 132.5,57.69 133,57.94 133.5,58.18 134,58.41 134.5,58.65 135,58.88 135.5,59.11 136,59.33 136.5,59.54 137,59.76 137.5,59.96 138,60.16 138.5,60.35 139,60.54 139.5,60.72 140,60.91 140.5,61.09 141,61.26 141.5,61.43 142,61.57 142.5,61.7 143,61.8 143.5,61.89 144,61.97 144.5,62.05 145,62.12 145.5,62.19 146,62.25 146.5,62.3 147,62.35 147.5,62.38 148,62.4 148.5,62.41 149,62.43 149.5,62.44 150,62.45 150.5,62.46 151,62.47 151.5,62.48 152,62.49 152.5,62.49 153,62.5 153.5,62.5 154,62.5 154.5,62.5 155,62.5 155.5,62.5 156,62.5 156.5,62.5 157,62.5 157.5,62.5 158,62.5 158.5,62.5 159,62.5 159.5,62.5 160,62.5 160.5,62.5 161,62.5 161.5,62.5 162,62.5 162.5,62.5 163,62.5 163.5,62.5 164,62.5 164.5,62.5 165,62.5 165.5,62.5 166,62.5 166.5,62.5 167,62.5 167.5,62.5 168,62.5 168.5,62.5 169,62.5 169.5,62.5 170,62.5 170.5,62.5 171,62.5 171.5,62.5 172,62.5 172.5,62.5 173,62.5 173.5,62.5 174,62.5 174.5,62.5 175,62.5 175.5,62.5 176,62.5 176.5,62.5 177,62.5 177.5,62.5 178,62.5 178.5,62.5 179,62.5 179.5,62.5 180,62.5 180.5,62.5 181,62.5 181.5,62.5 182,62.5 182.5,62.5 183,62.5 183.5,62.5 184,62.5 184.5,62.5 185,62.5 185.5,62.5 186,62.5 186.5,62.5 187,62.5 187.5,62.5 188,62.5 188.5,62.5 189,62.5 189.5,62.5 190,62.5 190.5,62.5 191,62.5 191.5,62.5 192,62.5 192.5,62.5" fill="none" stroke="#000000" stroke-width="1.0" stroke-linejoin="round" stroke-linecap="round"/>
<polyline points="96,36.4 96.5,36.58 97,36.75 97.5,36.93 98,37.12 98.5,37.3 99,37.49 99.5,37.68 100,37.88 100.5,38.07 101,38.27 101.5,38.47 102,38.67 102.5,38.88 103,39.08 103.5,39.29 104,39.5 104.5,39.71 105,39.93 105.5,40.14 106,40.36 106.5,40.58 107,40.8 107.5,41.02 108,41.24 108.5,41.46 109,41.68 109.5,41.9 110,42.12 110.5,42.35 111,42.59 111.5,42.83 112,43.09 112.5,43.35 113,43.62 113.5,43.9 114,44.2 114.5,44.51 115,44.85 115.5,45.2 116,45.57 116.5,45.95 117,46.35 117.5,46.77 118,47.19 118.5,47.63 119,48.08 119.5,48.54 120,49 120.5,49.48 121,49.99 121.5,50.52 122,51.08 122.5,51.64 123,52.23 123.5,52.82 124,53.42 124.5,54.02 125,54.63 125.5,55.23 126,55.83 126.5,56.42 127,57 127.5,57.57 128,58.14 128.5,58.72 129,59.29 129.5,59.86 130,60.44 130.5,61.01 131,61.58 131.5,62.15 132,62.72 132.5,63.29 133,63.86 133.5,64.43 134,65 134.5,65.57 135,66.14 135.5,66.71 136,67.29 136.5,67.85 137,68.41 137.5,68.96 138,69.5 138.5,70.03 139,70.57 139.5,71.1 140,71.62 140.5,72.14 141,72.65 141.5,73.14 142,73.61 142.5,74.07 143,74.5 143.5,74.92 144,75.33 144.5,75.73 145,76.11 145.5,76.47 146,76.81 146.5,77.12 147,77.4 147.5,77.66 148,77.91 148.5,78.15 149,78.38 149.5,78.58 150,78.75 150.5,78.9 151,79 151.5,79.08 152,79.16 152.5,79.23 153,79.29 153.5,79.35 154,79.4 154.5,79.44 155,79.47 155.5,79.49 156,79.5 156.5,79.5 157,79.5 157.5,79.5 158,79.5 158.5,79.5 159,79.5 159.5,79.5 160,79.5 160.5,79.5 161,79.5 161.5,79.5 162,79.5 162.5,79.5 163,79.5 163.5,79.5 164,79.5 164.5,79.5 165,79.5 165.5,79.5 166,79.5 166.5,79.5 167,79.5 167.5,79.5 168,79.5 168.5,79.5 169,79.5 169.5,79.5 170,79.5 170.5,79.5 171,79.5 171.5,79.5 172,79.5 172.5,79.5 173,79.5 173.5,79.5 174,79.5 174.5,79.5 175,79.5 175.5,79.5 176,79.5 176.5,79.5 177,79.5 177.5,79.5 178,79.5 178.5,79.5 179,79.5 179.5,79.5 180,79.5 180.5,79.5 181,79.5 181.5,79.5 182,79.5 182.5,79.5 183,79.5 183.5,79.5 184,79.5 184.5,79.5 185,79.5 185.5,79.5 186,79.5 186.5,79.5 187,79.5 187.5,79.5 188,79.5 188.5,79.5 189,79.5 189.5,79.5 190,79.5 190.5,79.5 191,79.5 191.5,79.5 192,79.5 192.5,79.5" fill="none" stroke="#000000" stroke-width="1.0" stroke-linejoin="round" stroke-linecap="round"/>
<polyline points="96,36.5 96.5,36.66 97,36.82 97.5,36.99 98,37.16 98.5,37.34 99,37.53 99.5,37.71 100,37.91 100.5,38.1 101,38.31 101.5,38.51 102,38.72 102.5,38.94 103,39.15 103.5,39.37 104,39.6 104.5,39.82 105,40.05 105.5,40.29 106,40.52 106.5,40.76 107,41 107.5,41.24 108,41.49 108.5,41.75 109,42.01 109.5,42.27 110,42.55 110.5,42.83 111,43.11 111.5,43.41 112,43.71 112.5,44.02 113,44.34 113.5,44.66 114,45 114.5,45.35 115,45.71 115.5,46.08 116,46.46 116.5,46.86 117,47.27 117.5,47.7 118,48.13 118.5,48.58 119,49.04 119.5,49.51 120,50 120.5,50.51 121,51.04 121.5,51.61 122,52.19 122.5,52.8 123,53.42 123.5,54.05 124,54.69 124.5,55.33 125,55.98 125.5,56.62 126,57.26 126.5,57.89 127,58.5 127.5,59.11 128,59.72 128.5,60.34 129,60.96 129.5,61.58 130,62.19 130.5,62.81 131,63.43 131.5,64.04 132,64.64 132.5,65.24 133,65.84 133.5,66.42 134,67 134.5,67.57 135,68.12 135.5,68.67 136,69.21 136.5,69.74 137,70.27 137.5,70.8 138,71.33 138.5,71.87 139,72.41 139.5,72.95 140,73.5 140.5,74.05 141,74.6 141.5,75.14 142,75.68 142.5,76.23 143,76.79 143.5,77.37 144,77.96 144.5,78.57 145,79.2 145.5,79.89 146,80.63 146.5,81.4 147,82.17 147.5,82.91 148,83.6 148.5,84.25 149,84.89 149.5,85.51 150,86.12 150.5,86.69 151,87.24 151.5,87.74 152,88.2 152.5,88.62 153,89.03 153.5,89.42 154,89.79 154.5,90.14 155,90.48 155.5,90.8 156,91.1 156.5,91.38 157,91.65 157.5,91.9 158,92.13 158.5,92.34 159,92.54 159.5,92.74 160,92.92 160.5,93.1 161,93.27 161.5,93.45 162,93.62 162.5,93.8 163,93.99 163.5,94.2 164,94.42 164.5,94.63 165,94.82 165.5,94.99 166,95.11 166.5,95.19 167,95.23 167.5,95.26 168,95.29 168.5,95.32 169,95.35 169.5,95.37 170,95.39 170.5,95.41 171,95.43 171.5,95.45 172,95.46 172.5,95.47 173,95.48 173.5,95.49 174,95.5 174.5,95.5 175,95.5 175.5,95.5 176,95.5 176.5,95.5 177,95.5 177.5,95.5 178,95.5 178.5,95.5 179,95.5 179.5,95.5 180,95.5 180.5,95.5 181,95.5 181.5,95.5 182,95.5 182.5,95.5 183,95.5 183.5,95.5 184,95.5 184.5,95.5 185,95.5 185.5,95.5 186,95.5 186.5,95.5 187,95.5 187.5,95.5 188,95.5 188.5,95.5 189,95.5 189.5,95.5 190,95.5 190.5,95.5 191,95.5 191.5,95.5 192,95.5 192.5,95.5" fill="none" stroke="#000000" stroke-width="1.0" stroke-linejoin="round" stroke-linecap="round"/>
<polyline points="96,36.5 96.5,36.66 97,36.83 97.5,37 98,37.18 98.5,37.36 99,37.55 99.5,37.75 100,37.95 100.5,38.15 101,38.36 101.5,38.58 102,38.8 102.5,39.02 103,39.25 103.5,39.48 104,39.72 104.5,39.96 105,40.2 105.5,40.45 106,40.69 106.5,40.95 107,41.2 107.5,41.46 108,41.72 108.5,41.99 109,42.27 109.5,42.56 110,42.85 110.5,43.15 111,43.46 111.5,43.78 112,44.1 112.5,44.44 113,44.78 113.5,45.14 114,45.5 114.5,45.88 115,46.27 115.5,46.68 116,47.11 116.5,47.55 117,48.01 117.5,48.47 118,48.96 118.5,49.45 119,49.96 119.5,50.47 120,51 120.5,51.55 121,52.12 121.5,52.72 122,53.33 122.5,53.97 123,54.62 123.5,55.28 124,55.95 124.5,56.62 125,57.3 125.5,57.98 126,58.66 126.5,59.33 127,60 127.5,60.67 128,61.34 128.5,62.03 129,62.72 129.5,63.42 130,64.11 130.5,64.81 131,65.5 131.5,66.19 132,66.88 132.5,67.55 133,68.22 133.5,68.87 134,69.5 134.5,70.12 135,70.74 135.5,71.35 136,71.95 136.5,72.55 137,73.13 137.5,73.71 138,74.29 138.5,74.85 139,75.41 139.5,75.96 140,76.5 140.5,77.03 141,77.54 141.5,78.05 142,78.55 142.5,79.04 143,79.52 143.5,80.01 144,80.5 144.5,81 145,81.5 145.5,82 146,82.51 146.5,83.01 147,83.52 147.5,84.05 148,84.6 148.5,85.18 149,85.77 149.5,86.39 150,87.02 150.5,87.66 151,88.3 151.5,88.95 152,89.6 152.5,90.26 153,90.95 153.5,91.66 154,92.37 154.5,93.07 155,93.74 155.5,94.39 156,94.98 156.5,95.52 157,96.05 157.5,96.56 158,97.06 158.5,97.54 159,98.01 159.5,98.46 160,98.9 160.5,99.31 161,99.71 161.5,100.09 162,100.46 162.5,100.8 163,101.13 163.5,101.45 164,101.76 164.5,102.07 165,102.36 165.5,102.64 166,102.91 166.5,103.17 167,103.41 167.5,103.63 168,103.84 168.5,104.03 169,104.2 169.5,104.37 170,104.53 170.5,104.69 171,104.84 171.5,104.99 172,105.12 172.5,105.25 173,105.36 173.5,105.46 174,105.56 174.5,105.64 175,105.7 175.5,105.76 176,105.81 176.5,105.86 177,105.91 177.5,105.96 178,106.01 178.5,106.05 179,106.09 179.5,106.13 180,106.17 180.5,106.2 181,106.23 181.5,106.26 182,106.29 182.5,106.31 183,106.34 183.5,106.36 184,106.37 184.5,106.39 185,106.4 185.5,106.41 186,106.42 186.5,106.43 187,106.44 187.5,106.45 188,106.46 188.5,106.47 189,106.47 189.5,106.48 190,106.48 190.5,106.49 191,106.49 191.5,106.5 192,106.5 192.5,106.5" fill="none" stroke="#000000" stroke-width="1.0" stroke-linejoin="round" stroke-linecap="round"/>
<polyline points="96,36.2 96.5,36.31 97,36.43 97.5,36.57 98,36.71 98.5,36.87 99,37.05 99.5,37.23 100,37.43 100.5,37.63 101,37.85 101.5,38.08 102,38.31 102.5,38.56 103,38.82 103.5,39.08 104,39.36 104.5,39.64 105,39.93 105.5,40.23 106,40.54 106.5,40.85 107,41.18 107.5,41.5 108,41.84 108.5,42.18 109,42.52 109.5,42.87 110,43.22 110.5,43.58 111,43.95 111.5,44.32 112,44.69 112.5,45.06 113,45.44 113.5,45.82 114,46.2 114.5,46.6 115,47.03 115.5,47.48 116,47.96 116.5,48.47 117,49 117.5,49.54 118,50.11 118.5,50.69 119,51.29 119.5,51.9 120,52.52 120.5,53.15 121,53.78 121.5,54.42 122,55.07 122.5,55.72 123,56.36 123.5,57.01 124,57.65 124.5,58.28 125,58.91 125.5,59.52 126,60.13 126.5,60.72 127,61.3 127.5,61.87 128,62.43 128.5,62.99 129,63.55 129.5,64.1 130,64.65 130.5,65.2 131,65.75 131.5,66.3 132,66.85 132.5,67.39 133,67.94 133.5,68.49 134,69.03 134.5,69.58 135,70.13 135.5,70.69 136,71.24 136.5,71.8 137,72.36 137.5,72.92 138,73.49 138.5,74.06 139,74.63 139.5,75.21 140,75.8 140.5,76.39 141,76.99 141.5,77.6 142,78.21 142.5,78.83 143,79.46 143.5,80.09 144,80.72 144.5,81.35 145,81.98 145.5,82.62 146,83.25 146.5,83.88 147,84.51 147.5,85.14 148,85.76 148.5,86.38 149,86.99 149.5,87.6 150,88.2 150.5,88.8 151,89.4 151.5,90.01 152,90.62 152.5,91.23 153,91.85 153.5,92.46 154,93.08 154.5,93.69 155,94.3 155.5,94.9 156,95.5 156.5,96.1 157,96.69 157.5,97.27 158,97.85 158.5,98.41 159,98.97 159.5,99.51 160,100.05 160.5,100.57 161,101.07 161.5,101.56 162,102.04 162.5,102.5 163,102.95 163.5,103.39 164,103.82 164.5,104.24 165,104.65 165.5,105.06 166,105.46 166.5,105.86 167,106.25 167.5,106.63 168,107 168.5,107.38 169,107.74 169.5,108.1 170,108.46 170.5,108.81 171,109.15 171.5,109.5 172,109.83 172.5,110.17 173,110.5 173.5,110.83 174,111.16 174.5,111.48 175,111.8 175.5,112.12 176,112.44 176.5,112.75 177,113.07 177.5,113.38 178,113.69 178.5,113.99 179,114.3 179.5,114.6 180,114.9 180.5,115.2 181,115.5 181.5,115.79 182,116.08 182.5,116.37 183,116.66 183.5,116.94 184,117.22 184.5,117.5 185,117.77 185.5,118.05 186,118.32 186.5,118.58 187,118.84 187.5,119.1 188,119.36 188.5,119.61 189,119.86 189.5,120.11 190,120.35 190.5,120.59 191,120.83 191.5,121.06 192,121.29 192.5,121.51" fill="none" stroke="#000000" stroke-width="0.9" stroke-linejoin="round" stroke-linecap="round"/>
<polyline points="36.5,33.3 37,33.3 37.5,33.3 38,33.3 38.5,33.3 39,33.3 39.5,33.3 40,33.3 40.5,33.3 41,33.3 41.5,33.3 42,33.3 42.5,33.3 43,33.3 43.5,33.3 44,33.3 44.5,33.3 45,33.31 45.5,33.31 46,33.31 46.5,33.31 47,33.31 47.5,33.31 48,33.31 48.5,33.31 49,33.31 49.5,33.31 50,33.31 50.5,33.32 51,33.32 51.5,33.32 52,33.32 52.5,33.32 53,33.32 53.5,33.32 54,33.33 54.5,33.33 55,33.33 55.5,33.33 56,33.33 56.5,33.33 57,33.34 57.5,33.34 58,33.34 58.5,33.34 59,33.35 59.5,33.35 60,33.35 60.5,33.35 61,33.35 61.5,33.36 62,33.36 62.5,33.36 63,33.36 63.5,33.37 64,33.37 64.5,33.37 65,33.38 65.5,33.38 66,33.38 66.5,33.39 67,33.39 67.5,33.39 68,33.4 68.5,33.4 69,33.4 69.5,33.41 70,33.41 70.5,33.41 71,33.42 71.5,33.42 72,33.43 72.5,33.43 73,33.43 73.5,33.44 74,33.44 74.5,33.45 75,33.45 75.5,33.46 76,33.46 76.5,33.46 77,33.47 77.5,33.47 78,33.48 78.5,33.48 79,33.49 79.5,33.49 80,33.5 80.5,33.51 81,33.52 81.5,33.54 82,33.56 82.5,33.58 83,33.61 83.5,33.64 84,33.67 84.5,33.7 85,33.74 85.5,33.78 86,33.82 86.5,33.86 87,33.91 87.5,33.95 88,34 88.5,34.05 89,34.11 89.5,34.17 90,34.24 90.5,34.32 91,34.41 91.5,34.49 92,34.59 92.5,34.69 93,34.79 93.5,34.89 94,35 94.5,35.11 95,35.24 95.5,35.37 96,35.51 96.5,35.65 97,35.81 97.5,35.97 98,36.14 98.5,36.32 99,36.51 99.5,36.7 100,36.9 100.5,37.11 101,37.34 101.5,37.59 102,37.85 102.5,38.13 103,38.42 103.5,38.72 104,39.02 104.5,39.34 105,39.66 105.5,39.99 106,40.33 106.5,40.66 107,41 107.5,41.34 108,41.69 108.5,42.04 109,42.4 109.5,42.77 110,43.15 110.5,43.54 111,43.94 111.5,44.35 112,44.77 112.5,45.21 113,45.66 113.5,46.12 114,46.6 114.5,47.11 115,47.65 115.5,48.23 116,48.83 116.5,49.46 117,50.1 117.5,50.75 118,51.41 118.5,52.07 119,52.72 119.5,53.37 120,54 120.5,54.62 121,55.25 121.5,55.88 122,56.5 122.5,57.13 123,57.76 123.5,58.4 124,59.03 124.5,59.66 125,60.29 125.5,60.92 126,61.55 126.5,62.17 127,62.8 127.5,63.42 128,64.05 128.5,64.67 129,65.29 129.5,65.91 130,66.53 130.5,67.15 131,67.77 131.5,68.39 132,69.01 132.5,69.63 133,70.26 133.5,70.88 134,71.5 134.5,72.12 135,72.75 135.5,73.37 136,74 136.5,74.63 137,75.25 137.5,75.88 138,76.5 138.5,77.13 139,77.75 139.5,78.38 140,79 140.5,79.62 141,80.24 141.5,80.87 142,81.49 142.5,82.11 143,82.73 143.5,83.35 144,83.97 144.5,84.58 145,85.2 145.5,85.81 146,86.43 146.5,87.04 147,87.66 147.5,88.27 148,88.88 148.5,89.49 149,90.09 149.5,90.7 150,91.3 150.5,91.9 151,92.5 151.5,93.1 152,93.7 152.5,94.3 153,94.9 153.5,95.49 154,96.08 154.5,96.67 155,97.25 155.5,97.83 156,98.4 156.5,98.97 157,99.53 157.5,100.1 158,100.66 158.5,101.21 159,101.77 159.5,102.31 160,102.86 160.5,103.4 161,103.93 161.5,104.46 162,104.98 162.5,105.5 163,106.01 163.5,106.52 164,107.02 164.5,107.51 165,108 165.5,108.49 166,108.97 166.5,109.45 167,109.92 167.5,110.39 168,110.85 168.5,111.32 169,111.77 169.5,112.23 170,112.68 170.5,113.13 171,113.57 171.5,114.01 172,114.44 172.5,114.88 173,115.31 173.5,115.73 174,116.16 174.5,116.58 175,117 175.5,117.42 176,117.84 176.5,118.25 177,118.67 177.5,119.08 178,119.49 178.5,119.89 179,120.29 179.5,120.69 180,121.08 180.5,121.47 181,121.85 181.5,122.22 182,122.59 182.5,122.94 183,123.29 183.5,123.64 184,123.98 184.5,124.32 185,124.66 185.5,125 186,125.34 186.5,125.69 187,126.04 187.5,126.4 188,126.76 188.5,127.13 189,127.5 189.5,127.87 190,128.24 190.5,128.62 191,129 191.5,129.38 192,129.76 192.5,130.15" fill="none" stroke="#000000" stroke-width="2.2" stroke-linejoin="round" stroke-linecap="round"/>
<polyline points="90,34.74 90.5,34.82 91,34.91 91.5,34.99 92,35.09 92.5,35.19 93,35.29 93.5,35.39 94,35.5 94.5,35.61 95,35.74 95.5,35.87 96,36.01 96.5,36.15 97,36.31 97.5,36.47 98,36.64 98.5,36.82 99,37.01 99.5,37.2 100,37.4 100.5,37.61 101,37.84 101.5,38.09 102,38.35 102.5,38.63 103,38.92 103.5,39.22 104,39.52 104.5,39.84 105,40.16 105.5,40.49 106,40.83 106.5,41.16 107,41.5 107.5,41.84 108,42.19 108.5,42.54 109,42.9 109.5,43.27 110,43.65 110.5,44.04 111,44.44 111.5,44.85 112,45.27 112.5,45.71 113,46.16 113.5,46.62 114,47.1 114.5,47.61 115,48.15 115.5,48.73 116,49.33 116.5,49.96 117,50.6 117.5,51.25 118,51.91 118.5,52.57 119,53.22 119.5,53.87 120,54.5 120.5,55.12 121,55.75 121.5,56.38 122,57 122.5,57.63 123,58.26 123.5,58.9 124,59.53 124.5,60.16 125,60.79 125.5,61.42 126,62.05 126.5,62.67 127,63.3 127.5,63.92 128,64.55 128.5,65.17 129,65.79 129.5,66.41 130,67.03 130.5,67.65 131,68.27 131.5,68.89 132,69.51 132.5,70.13 133,70.76 133.5,71.38 134,72 134.5,72.62 135,73.25 135.5,73.87 136,74.5 136.5,75.13 137,75.75 137.5,76.38 138,77 138.5,77.63 139,78.25 139.5,78.88 140,79.5 140.5,80.12 141,80.74 141.5,81.37 142,81.99 142.5,82.61 143,83.23 143.5,83.85 144,84.47 144.5,85.08 145,85.7 145.5,86.31 146,86.93 146.5,87.54 147,88.16 147.5,88.77 148,89.38 148.5,89.99 149,90.59 149.5,91.2 150,91.8 150.5,92.4 151,93 151.5,93.6 152,94.2 152.5,94.8 153,95.4 153.5,95.99 154,96.58 154.5,97.17 155,97.75 155.5,98.33 156,98.9 156.5,99.47 157,100.03 157.5,100.6 158,101.16 158.5,101.71 159,102.27 159.5,102.81 160,103.36 160.5,103.9 161,104.43 161.5,104.96 162,105.48 162.5,106 163,106.51 163.5,107.02 164,107.52 164.5,108.01 165,108.5 165.5,108.99 166,109.47 166.5,109.95 167,110.42 167.5,110.89 168,111.35 168.5,111.82 169,112.27 169.5,112.73 170,113.18 170.5,113.63 171,114.07 171.5,114.51 172,114.94 172.5,115.38 173,115.81 173.5,116.23 174,116.66 174.5,117.08 175,117.5 175.5,117.92 176,118.34 176.5,118.75 177,119.17 177.5,119.58 178,119.99 178.5,120.39 179,120.79 179.5,121.19 180,121.58 180.5,121.97 181,122.35 181.5,122.72 182,123.09 182.5,123.44 183,123.79 183.5,124.14 184,124.48 184.5,124.82 185,125.16 185.5,125.5 186,125.84 186.5,126.19 187,126.54 187.5,126.9 188,127.26 188.5,127.63 189,128 189.5,128.37 190,128.74 190.5,129.12 191,129.5 191.5,129.88 192,130.26 192.5,130.65" fill="none" stroke="#000000" stroke-width="1.4" stroke-linejoin="round" stroke-linecap="round"/>
</g>
<line x1="36.5" y1="9.3" x2="192.7" y2="9.3" stroke="#9a9a9a" stroke-width="0.9"/>
<line x1="192.7" y1="9.3" x2="192.7" y2="148.2" stroke="#5a5a5a" stroke-width="0.9"/>
<line x1="36.5" y1="148.2" x2="192.7" y2="148.2" stroke="#3a3a3a" stroke-width="0.9"/>
<line x1="36.5" y1="9.3" x2="36.5" y2="148.2" stroke="#3a3a3a" stroke-width="0.9"/>
<text x="0" y="196" font-size="12" font-weight="bold" fill="#000" stroke="#000" stroke-width="0.7" stroke-linejoin="round">e</text>
<clipPath id="clipE"><rect x="36.7" y="196.2" width="155.89999999999998" height="139.3"/></clipPath>
<text x="32.3" y="198.9" font-size="7.5" text-anchor="end">−6.92</text>
<line x1="36.7" y1="196.2" x2="38.7" y2="196.2" stroke="#333" stroke-width="0.6"/>
<line x1="36.7" y1="207.81" x2="37.7" y2="207.81" stroke="#333" stroke-width="0.5"/>
<text x="32.3" y="222.12" font-size="7.5" text-anchor="end">−6.94</text>
<line x1="36.7" y1="219.42" x2="38.7" y2="219.42" stroke="#333" stroke-width="0.6"/>
<line x1="36.7" y1="231.03" x2="37.7" y2="231.03" stroke="#333" stroke-width="0.5"/>
<text x="32.3" y="245.34" font-size="7.5" text-anchor="end">−6.96</text>
<line x1="36.7" y1="242.64" x2="38.7" y2="242.64" stroke="#333" stroke-width="0.6"/>
<line x1="36.7" y1="254.25" x2="37.7" y2="254.25" stroke="#333" stroke-width="0.5"/>
<text x="32.3" y="268.56" font-size="7.5" text-anchor="end">−6.98</text>
<line x1="36.7" y1="265.86" x2="38.7" y2="265.86" stroke="#333" stroke-width="0.6"/>
<line x1="36.7" y1="277.47" x2="37.7" y2="277.47" stroke="#333" stroke-width="0.5"/>
<text x="32.3" y="291.78" font-size="7.5" text-anchor="end">−7.00</text>
<line x1="36.7" y1="289.08" x2="38.7" y2="289.08" stroke="#333" stroke-width="0.6"/>
<line x1="36.7" y1="300.69" x2="37.7" y2="300.69" stroke="#333" stroke-width="0.5"/>
<text x="32.3" y="315" font-size="7.5" text-anchor="end">−7.02</text>
<line x1="36.7" y1="312.3" x2="38.7" y2="312.3" stroke="#333" stroke-width="0.6"/>
<line x1="36.7" y1="323.91" x2="37.7" y2="323.91" stroke="#333" stroke-width="0.5"/>
<text x="32.3" y="338.22" font-size="7.5" text-anchor="end">−7.04</text>
<line x1="36.7" y1="335.52" x2="38.7" y2="335.52" stroke="#333" stroke-width="0.6"/>
<text x="35.98" y="345.9" font-size="7.5">10<tspan font-size="4.65" dy="-3.15">−2</tspan></text>
<text x="57.38" y="345.9" font-size="7.5">10<tspan font-size="4.65" dy="-3.15">−1</tspan></text>
<text x="80.14" y="345.9" font-size="7.5">10<tspan font-size="4.65" dy="-3.15">0</tspan></text>
<text x="101.54" y="345.9" font-size="7.5">10<tspan font-size="4.65" dy="-3.15">1</tspan></text>
<text x="122.94" y="345.9" font-size="7.5">10<tspan font-size="4.65" dy="-3.15">2</tspan></text>
<text x="144.34" y="345.9" font-size="7.5">10<tspan font-size="4.65" dy="-3.15">3</tspan></text>
<text x="165.74" y="345.9" font-size="7.5">10<tspan font-size="4.65" dy="-3.15">4</tspan></text>
<text x="187.14" y="345.9" font-size="7.5">10<tspan font-size="4.65" dy="-3.15">5</tspan></text>
<line x1="38.05" y1="335.5" x2="38.05" y2="334.5" stroke="#444" stroke-width="0.6"/>
<line x1="39.49" y1="335.5" x2="39.49" y2="334.5" stroke="#444" stroke-width="0.6"/>
<line x1="40.73" y1="335.5" x2="40.73" y2="334.5" stroke="#444" stroke-width="0.6"/>
<line x1="41.82" y1="335.5" x2="41.82" y2="334.5" stroke="#444" stroke-width="0.6"/>
<line x1="42.8" y1="335.5" x2="42.8" y2="333.5" stroke="#444" stroke-width="0.6"/>
<line x1="49.24" y1="335.5" x2="49.24" y2="334.5" stroke="#444" stroke-width="0.6"/>
<line x1="53.01" y1="335.5" x2="53.01" y2="334.5" stroke="#444" stroke-width="0.6"/>
<line x1="55.68" y1="335.5" x2="55.68" y2="334.5" stroke="#444" stroke-width="0.6"/>
<line x1="57.76" y1="335.5" x2="57.76" y2="334.5" stroke="#444" stroke-width="0.6"/>
<line x1="59.45" y1="335.5" x2="59.45" y2="334.5" stroke="#444" stroke-width="0.6"/>
<line x1="60.89" y1="335.5" x2="60.89" y2="334.5" stroke="#444" stroke-width="0.6"/>
<line x1="62.13" y1="335.5" x2="62.13" y2="334.5" stroke="#444" stroke-width="0.6"/>
<line x1="63.22" y1="335.5" x2="63.22" y2="334.5" stroke="#444" stroke-width="0.6"/>
<line x1="64.2" y1="335.5" x2="64.2" y2="333.5" stroke="#444" stroke-width="0.6"/>
<line x1="70.64" y1="335.5" x2="70.64" y2="334.5" stroke="#444" stroke-width="0.6"/>
<line x1="74.41" y1="335.5" x2="74.41" y2="334.5" stroke="#444" stroke-width="0.6"/>
<line x1="77.08" y1="335.5" x2="77.08" y2="334.5" stroke="#444" stroke-width="0.6"/>
<line x1="79.16" y1="335.5" x2="79.16" y2="334.5" stroke="#444" stroke-width="0.6"/>
<line x1="80.85" y1="335.5" x2="80.85" y2="334.5" stroke="#444" stroke-width="0.6"/>
<line x1="82.29" y1="335.5" x2="82.29" y2="334.5" stroke="#444" stroke-width="0.6"/>
<line x1="83.53" y1="335.5" x2="83.53" y2="334.5" stroke="#444" stroke-width="0.6"/>
<line x1="84.62" y1="335.5" x2="84.62" y2="334.5" stroke="#444" stroke-width="0.6"/>
<line x1="85.6" y1="335.5" x2="85.6" y2="333.5" stroke="#444" stroke-width="0.6"/>
<line x1="92.04" y1="335.5" x2="92.04" y2="334.5" stroke="#444" stroke-width="0.6"/>
<line x1="95.81" y1="335.5" x2="95.81" y2="334.5" stroke="#444" stroke-width="0.6"/>
<line x1="98.48" y1="335.5" x2="98.48" y2="334.5" stroke="#444" stroke-width="0.6"/>
<line x1="100.56" y1="335.5" x2="100.56" y2="334.5" stroke="#444" stroke-width="0.6"/>
<line x1="102.25" y1="335.5" x2="102.25" y2="334.5" stroke="#444" stroke-width="0.6"/>
<line x1="103.69" y1="335.5" x2="103.69" y2="334.5" stroke="#444" stroke-width="0.6"/>
<line x1="104.93" y1="335.5" x2="104.93" y2="334.5" stroke="#444" stroke-width="0.6"/>
<line x1="106.02" y1="335.5" x2="106.02" y2="334.5" stroke="#444" stroke-width="0.6"/>
<line x1="107" y1="335.5" x2="107" y2="333.5" stroke="#444" stroke-width="0.6"/>
<line x1="113.44" y1="335.5" x2="113.44" y2="334.5" stroke="#444" stroke-width="0.6"/>
<line x1="117.21" y1="335.5" x2="117.21" y2="334.5" stroke="#444" stroke-width="0.6"/>
<line x1="119.88" y1="335.5" x2="119.88" y2="334.5" stroke="#444" stroke-width="0.6"/>
<line x1="121.96" y1="335.5" x2="121.96" y2="334.5" stroke="#444" stroke-width="0.6"/>
<line x1="123.65" y1="335.5" x2="123.65" y2="334.5" stroke="#444" stroke-width="0.6"/>
<line x1="125.09" y1="335.5" x2="125.09" y2="334.5" stroke="#444" stroke-width="0.6"/>
<line x1="126.33" y1="335.5" x2="126.33" y2="334.5" stroke="#444" stroke-width="0.6"/>
<line x1="127.42" y1="335.5" x2="127.42" y2="334.5" stroke="#444" stroke-width="0.6"/>
<line x1="128.4" y1="335.5" x2="128.4" y2="333.5" stroke="#444" stroke-width="0.6"/>
<line x1="134.84" y1="335.5" x2="134.84" y2="334.5" stroke="#444" stroke-width="0.6"/>
<line x1="138.61" y1="335.5" x2="138.61" y2="334.5" stroke="#444" stroke-width="0.6"/>
<line x1="141.28" y1="335.5" x2="141.28" y2="334.5" stroke="#444" stroke-width="0.6"/>
<line x1="143.36" y1="335.5" x2="143.36" y2="334.5" stroke="#444" stroke-width="0.6"/>
<line x1="145.05" y1="335.5" x2="145.05" y2="334.5" stroke="#444" stroke-width="0.6"/>
<line x1="146.49" y1="335.5" x2="146.49" y2="334.5" stroke="#444" stroke-width="0.6"/>
<line x1="147.73" y1="335.5" x2="147.73" y2="334.5" stroke="#444" stroke-width="0.6"/>
<line x1="148.82" y1="335.5" x2="148.82" y2="334.5" stroke="#444" stroke-width="0.6"/>
<line x1="149.8" y1="335.5" x2="149.8" y2="333.5" stroke="#444" stroke-width="0.6"/>
<line x1="156.24" y1="335.5" x2="156.24" y2="334.5" stroke="#444" stroke-width="0.6"/>
<line x1="160.01" y1="335.5" x2="160.01" y2="334.5" stroke="#444" stroke-width="0.6"/>
<line x1="162.68" y1="335.5" x2="162.68" y2="334.5" stroke="#444" stroke-width="0.6"/>
<line x1="164.76" y1="335.5" x2="164.76" y2="334.5" stroke="#444" stroke-width="0.6"/>
<line x1="166.45" y1="335.5" x2="166.45" y2="334.5" stroke="#444" stroke-width="0.6"/>
<line x1="167.89" y1="335.5" x2="167.89" y2="334.5" stroke="#444" stroke-width="0.6"/>
<line x1="169.13" y1="335.5" x2="169.13" y2="334.5" stroke="#444" stroke-width="0.6"/>
<line x1="170.22" y1="335.5" x2="170.22" y2="334.5" stroke="#444" stroke-width="0.6"/>
<line x1="171.2" y1="335.5" x2="171.2" y2="333.5" stroke="#444" stroke-width="0.6"/>
<line x1="177.64" y1="335.5" x2="177.64" y2="334.5" stroke="#444" stroke-width="0.6"/>
<line x1="181.41" y1="335.5" x2="181.41" y2="334.5" stroke="#444" stroke-width="0.6"/>
<line x1="184.08" y1="335.5" x2="184.08" y2="334.5" stroke="#444" stroke-width="0.6"/>
<line x1="186.16" y1="335.5" x2="186.16" y2="334.5" stroke="#444" stroke-width="0.6"/>
<line x1="187.85" y1="335.5" x2="187.85" y2="334.5" stroke="#444" stroke-width="0.6"/>
<line x1="189.29" y1="335.5" x2="189.29" y2="334.5" stroke="#444" stroke-width="0.6"/>
<line x1="190.53" y1="335.5" x2="190.53" y2="334.5" stroke="#444" stroke-width="0.6"/>
<line x1="191.62" y1="335.5" x2="191.62" y2="334.5" stroke="#444" stroke-width="0.6"/>
<line x1="192.6" y1="335.5" x2="192.6" y2="333.5" stroke="#444" stroke-width="0.6"/>
<text x="112.6" y="357.3" font-size="8.8" font-style="italic">t</text>
<text transform="translate(7.3,273.2) rotate(-90)" font-size="8.2" font-style="italic" textLength="14.6" lengthAdjust="spacingAndGlyphs">U/N</text>
<text x="81" y="209.6" font-size="7.6" textLength="60.8" lengthAdjust="spacingAndGlyphs"><tspan font-style="italic">E</tspan><tspan font-size="4.8" dy="2.4">IS</tspan><tspan dy="-2.4"> = −7.035, </tspan><tspan font-style="italic">r</tspan><tspan font-size="4.8" dy="2.4">p</tspan><tspan dy="-2.4"> = 4</tspan></text>
<text x="62.4" y="225.1" font-size="6.2" text-anchor="end"><tspan font-style="italic">f</tspan><tspan font-size="4.3" dy="1.4">0</tspan><tspan dy="-1.4"> = 0</tspan></text>
<line x1="65.5" y1="223" x2="81.1" y2="223" stroke="#9400d3" stroke-width="0.7" opacity="0.6"/>
<path d="M72.05,221.65L74.75,224.35M72.05,224.35L74.75,221.65" stroke="#9400d3" stroke-width="0.6"/>
<text x="62.4" y="232.17" font-size="6.2" text-anchor="end"><tspan font-style="italic">f</tspan><tspan font-size="4.3" dy="1.4">0</tspan><tspan dy="-1.4"> = 0.4</tspan></text>
<line x1="65.5" y1="230.07" x2="81.1" y2="230.07" stroke="#009e73" stroke-width="0.7" opacity="0.6"/>
<circle cx="73.4" cy="230.07" r="1.35" fill="#009e73"/>
<text x="62.4" y="239.24" font-size="6.2" text-anchor="end"><tspan font-style="italic">f</tspan><tspan font-size="4.3" dy="1.4">0</tspan><tspan dy="-1.4"> = 1.2</tspan></text>
<line x1="65.5" y1="237.14" x2="81.1" y2="237.14" stroke="#56b4e9" stroke-width="0.7" opacity="0.6"/>
<circle cx="73.4" cy="237.14" r="1.35" fill="none" stroke="#56b4e9" stroke-width="0.6"/>
<text x="62.4" y="246.31" font-size="6.2" text-anchor="end"><tspan font-style="italic">f</tspan><tspan font-size="4.3" dy="1.4">0</tspan><tspan dy="-1.4"> = 1.6</tspan></text>
<line x1="65.5" y1="244.21" x2="81.1" y2="244.21" stroke="#e69f00" stroke-width="0.7" opacity="0.6"/>
<rect x="72.05" y="242.86" width="2.7" height="2.7" fill="#e69f00"/>
<text x="62.4" y="253.38" font-size="6.2" text-anchor="end"><tspan font-style="italic">f</tspan><tspan font-size="4.3" dy="1.4">0</tspan><tspan dy="-1.4"> = 1.7</tspan></text>
<line x1="65.5" y1="251.28" x2="81.1" y2="251.28" stroke="#f0e442" stroke-width="0.7" opacity="0.6"/>
<circle cx="73.4" cy="251.28" r="1.35" fill="none" stroke="#f0e442" stroke-width="0.6"/>
<text x="62.4" y="260.45" font-size="6.2" text-anchor="end"><tspan font-style="italic">f</tspan><tspan font-size="4.3" dy="1.4">0</tspan><tspan dy="-1.4"> = 1.8</tspan></text>
<line x1="65.5" y1="258.35" x2="81.1" y2="258.35" stroke="#0072b2" stroke-width="0.7" opacity="0.6"/>
<circle cx="73.4" cy="258.35" r="1.35" fill="#0072b2"/>
<text x="62.4" y="267.52" font-size="6.2" text-anchor="end"><tspan font-style="italic">f</tspan><tspan font-size="4.3" dy="1.4">0</tspan><tspan dy="-1.4"> = 1.9</tspan></text>
<line x1="65.5" y1="265.42" x2="81.1" y2="265.42" stroke="#e51e10" stroke-width="0.7" opacity="0.6"/>
<path d="M73.4,263.87L74.89,266.43L71.92,266.43Z" fill="#e51e10"/>
<text x="62.4" y="274.59" font-size="6.2" text-anchor="end"><tspan font-style="italic">f</tspan><tspan font-size="4.3" dy="1.4">0</tspan><tspan dy="-1.4"> = 2.0</tspan></text>
<line x1="65.5" y1="272.49" x2="81.1" y2="272.49" stroke="#000000" stroke-width="0.7" opacity="0.6"/>
<path d="M73.4,270.94L74.89,273.5L71.92,273.5Z" fill="#000000"/>
<text x="62.4" y="281.66" font-size="6.2" text-anchor="end"><tspan font-style="italic">f</tspan><tspan font-size="4.3" dy="1.4">0</tspan><tspan dy="-1.4"> = 2.1</tspan></text>
<line x1="65.5" y1="279.56" x2="81.1" y2="279.56" stroke="#9400d3" stroke-width="0.7" opacity="0.6"/>
<path d="M73.4,281.11L74.89,278.55L71.92,278.55Z" fill="#9400d3"/>
<text x="62.4" y="288.73" font-size="6.2" text-anchor="end"><tspan font-style="italic">f</tspan><tspan font-size="4.3" dy="1.4">0</tspan><tspan dy="-1.4"> = 2.2</tspan></text>
<line x1="65.5" y1="286.63" x2="81.1" y2="286.63" stroke="#009e73" stroke-width="0.7" opacity="0.6"/>
<path d="M73.4,288.18L74.89,285.62L71.92,285.62Z" fill="#009e73"/>
<text x="62.4" y="295.8" font-size="6.2" text-anchor="end"><tspan font-style="italic">f</tspan><tspan font-size="4.3" dy="1.4">0</tspan><tspan dy="-1.4"> = 2.4</tspan></text>
<line x1="65.5" y1="293.7" x2="81.1" y2="293.7" stroke="#56b4e9" stroke-width="0.7" opacity="0.6"/>
<circle cx="73.4" cy="293.7" r="1.35" fill="#56b4e9"/>
<text x="62.4" y="302.87" font-size="6.2" text-anchor="end"><tspan font-style="italic">f</tspan><tspan font-size="4.3" dy="1.4">0</tspan><tspan dy="-1.4"> = 2.6</tspan></text>
<line x1="65.5" y1="300.77" x2="81.1" y2="300.77" stroke="#e69f00" stroke-width="0.7" opacity="0.6"/>
<circle cx="73.4" cy="300.77" r="1.35" fill="#e69f00"/>
<g clip-path="url(#clipE)">
<polyline points="36.7,330.42 37.2,330.72 37.7,330.87 38.2,330.16 38.7,330.95 39.2,330.71 39.7,330.95 40.2,330.72 40.7,331.12 41.2,330.18 41.7,331.4 42.2,331.14 42.7,330.33 43.2,330.9 43.7,330.8 44.2,329.81 44.7,330.87 45.2,330.34 45.7,330.49 46.2,330.33 46.7,330.41 47.2,330.63 47.7,330.64 48.2,329.9 48.7,330.48 49.2,329.99 49.7,330.03 50.2,330.44 50.7,330.98 51.2,330.88 51.7,330.33 52.2,330.28 52.7,330.23 53.2,330.66 53.7,331.02 54.2,330.61 54.7,330.91 55.2,330.74 55.7,331.28 56.2,329.7 56.7,329.64 57.2,330.51 57.7,330.89 58.2,330.42 58.7,330.79 59.2,330.07 59.7,330.03 60.2,330.28 60.7,330.98 61.2,330.91 61.7,330.28 62.2,330.68 62.7,330.31 63.2,330.61 63.7,330.1 64.2,330.58 64.7,330.27 65.2,330.58 65.7,330.31 66.2,330.23 66.7,330.65 67.2,330.45 67.7,330.61 68.2,330.41 68.7,330.88 69.2,330.23 69.7,330.95 70.2,331.2 70.7,330.48 71.2,331.39 71.7,331.51 72.2,330.8 72.7,329.99 73.2,329.87 73.7,330.52 74.2,331.4 74.7,330.86 75.2,330.94 75.7,330.49 76.2,330.27 76.7,330.77 77.2,330.1 77.7,330.51 78.2,330.83 78.7,330.62 79.2,330.84 79.7,330.4 80.2,330.87 80.7,330.78 81.2,329.86 81.7,330.13 82.2,330.27 82.7,330.9 83.2,330.74 83.7,330.73 84.2,330.68 84.7,330.89 85.2,331.03 85.7,330.35 86.2,329.88 86.7,330.9 87.2,330.51 87.7,330.62 88.2,330.52 88.7,330.1 89.2,329.92 89.7,331.03 90.2,331.09 90.7,331.02 91.2,330.69 91.7,330.72 92.2,330.41 92.7,330.63 93.2,330.42 93.7,330.36 94.2,330.69 94.7,331.36 95.2,329.75 95.7,330.87 96.2,330.9 96.7,330.05 97.2,330.74 97.7,330.65 98.2,330.39 98.7,330.38 99.2,329.97 99.7,331.37 100.2,331.66 100.7,331.31 101.2,330.47 101.7,330.73 102.2,330.77 102.7,330.23 103.2,330.48 103.7,330.84 104.2,330.41 104.7,329.81 105.2,330.03 105.7,330.71 106.2,330.45 106.7,330.47 107.2,331.21 107.7,330.64 108.2,330.28 108.7,330.57 109.2,331.57 109.7,330.09 110.2,331.4 110.7,331.25 111.2,330.53 111.7,330.45 112.2,331.24 112.7,330.71 113.2,330.36 113.7,331.42 114.2,330.68 114.7,330.75 115.2,330.62 115.7,330.46 116.2,330.66 116.7,330.43 117.2,330.83 117.7,331.07 118.2,331.09 118.7,331.14 119.2,331.27 119.7,330.94 120.2,330.33 120.7,331.03 121.2,329.86 121.7,330.28 122.2,330.73 122.7,329.84 123.2,331.26 123.7,330.14 124.2,329.93 124.7,330.26 125.2,330.26 125.7,330.59 126.2,330.53 126.7,331.06 127.2,330.53 127.7,330.68 128.2,330.15 128.7,330.82 129.2,330.25 129.7,329.72 130.2,331.19 130.7,330.12 131.2,330.11 131.7,330.21 132.2,330.89 132.7,329.91 133.2,330.42 133.7,330.86 134.2,331.45 134.7,330.47 135.2,330.63 135.7,330.21 136.2,331.49 136.7,330.54 137.2,330.57 137.7,330.67 138.2,330.19 138.7,330.6 139.2,330.03 139.7,331.27 140.2,330.53 140.7,330.53 141.2,331.13 141.7,330.05 142.2,331.23 142.7,331.29 143.2,330.25 143.7,330.91 144.2,330.56 144.7,331 145.2,330.62 145.7,330.19 146.2,330.88 146.7,330.5 147.2,330.68 147.7,331.04 148.2,331.15 148.7,330.88 149.2,329.96 149.7,330.91 150.2,330.46 150.7,331.08 151.2,330.51 151.7,331.24 152.2,330.83 152.7,330.6 153.2,330.74 153.7,329.81 154.2,330.87 154.7,330.66 155.2,330.12 155.7,330.8 156.2,330.76 156.7,330.78 157.2,330.58 157.7,330.99 158.2,331 158.7,330.68 159.2,330.62 159.7,330.44 160.2,330.39 160.7,330.93 161.2,330.42 161.7,330.03 162.2,330.79 162.7,331.18 163.2,330.56 163.7,331.08 164.2,330.92 164.7,330.25 165.2,330.86 165.7,330.67 166.2,331.03 166.7,329.48 167.2,331.11 167.7,331.08 168.2,330.34 168.7,331.24 169.2,330.7 169.7,330.86 170.2,331.18 170.7,331.4 171.2,330.88 171.7,331.12 172.2,331.02 172.7,330.5 173.2,331.58 173.7,331.2 174.2,330.92 174.7,331.35 175.2,331.12 175.7,330.64 176.2,331.35 176.7,330.93 177.2,331.2 177.7,331.36 178.2,331.36 178.7,331.79 179.2,331.04 179.7,330.89 180.2,330.65 180.7,330.7 181.2,331.3 181.7,331.2 182.2,330.63 182.7,330.75 183.2,330.84 183.7,331.75 184.2,330.64 184.7,331.23 185.2,330.35 185.7,330.98 186.2,331.72 186.7,330.55 187.2,331.64 187.7,330.28 188.2,331.16 188.7,330.65 189.2,331.15 189.7,331.06 190.2,331.54 190.7,331.3 191.2,331.27 191.7,330.96 192.2,331.41" fill="none" stroke="#f0e442" stroke-width="1.8" stroke-linejoin="round" stroke-linecap="round"/>
<polyline points="36.7,330.92 37.2,330.86 37.7,330.59 38.2,330.83 38.7,330.37 39.2,329.96 39.7,331.19 40.2,330.77 40.7,329.88 41.2,330.23 41.7,330.38 42.2,330.72 42.7,331.06 43.2,330.71 43.7,330.45 44.2,330.76 44.7,330.52 45.2,330.66 45.7,330.37 46.2,330.18 46.7,331.05 47.2,330.49 47.7,330.64 48.2,330.39 48.7,330.41 49.2,330.48 49.7,330.83 50.2,331.03 50.7,330.79 51.2,330.41 51.7,331.58 52.2,330.89 52.7,330.93 53.2,330.41 53.7,330.51 54.2,330.81 54.7,329.99 55.2,330.33 55.7,330.74 56.2,331.45 56.7,330.75 57.2,330.24 57.7,330.17 58.2,330.94 58.7,330.32 59.2,330.48 59.7,331.29 60.2,330.62 60.7,330.48 61.2,330.33 61.7,331.06 62.2,331.06 62.7,330.36 63.2,330.1 63.7,330.56 64.2,331.08 64.7,330.76 65.2,330.17 65.7,330.72 66.2,330.87 66.7,330.59 67.2,330.66 67.7,330.6 68.2,330.42 68.7,330.37 69.2,330.12 69.7,330.18 70.2,329.99 70.7,330.75 71.2,330.77 71.7,330.62 72.2,330.75 72.7,330.61 73.2,330.33 73.7,330.66 74.2,330.48 74.7,330.52 75.2,329.86 75.7,330.4 76.2,330.73 76.7,330.46 77.2,330.29 77.7,330.02 78.2,330.35 78.7,331.08 79.2,330.37 79.7,330.95 80.2,330.42 80.7,330.96 81.2,330.4 81.7,330.72 82.2,330.81 82.7,330.8 83.2,330.26 83.7,330.47 84.2,330.29 84.7,330.55 85.2,330.48 85.7,330.51 86.2,330.81 86.7,330.23 87.2,330.32 87.7,330.39 88.2,330.51 88.7,330.32 89.2,330.78 89.7,330.22 90.2,331.22 90.7,330.62 91.2,331.01 91.7,330.22 92.2,330.49 92.7,330.65 93.2,331.22 93.7,330.64 94.2,331.13 94.7,330.36 95.2,331.14 95.7,330.37 96.2,329.99 96.7,329.92 97.2,330.68 97.7,330.53 98.2,330.7 98.7,330.58 99.2,330.78 99.7,331.18 100.2,330.54 100.7,330.71 101.2,330.47 101.7,330.01 102.2,330.51 102.7,331.14 103.2,330.33 103.7,331.42 104.2,330.81 104.7,330.78 105.2,330.95 105.7,330.63 106.2,330.64 106.7,331.09 107.2,330.37 107.7,330.57 108.2,330.21 108.7,330.66 109.2,331.69 109.7,331.04 110.2,330.3 110.7,330.01 111.2,330.82 111.7,330.87 112.2,330.41 112.7,331.1 113.2,330.78 113.7,330.88 114.2,330.9 114.7,331.02 115.2,330.48 115.7,330.39 116.2,331.11 116.7,330.58 117.2,330.21 117.7,330.76 118.2,330.47 118.7,330.75 119.2,331.74 119.7,331.26 120.2,330.48 120.7,330.21 121.2,330.64 121.7,330.3 122.2,330.72 122.7,330.74 123.2,330.87 123.7,330.64 124.2,330.16 124.7,330.59 125.2,330.66 125.7,330.72 126.2,331.06 126.7,330.28 127.2,330.58 127.7,330.43 128.2,330.34 128.7,330.86 129.2,330.42 129.7,331.31 130.2,329.75 130.7,331.15 131.2,330.54 131.7,330.2 132.2,330.69 132.7,330.67 133.2,330.97 133.7,331.06 134.2,330.36 134.7,330.62 135.2,330.74 135.7,330.69 136.2,330.5 136.7,331.1 137.2,330.73 137.7,330.16 138.2,330.72 138.7,330.53 139.2,330.52 139.7,330.91 140.2,330.85 140.7,330.72 141.2,330.77 141.7,330.93 142.2,330.41 142.7,330.65 143.2,331.06 143.7,330.41 144.2,330.46 144.7,330.4 145.2,330.98 145.7,330.45 146.2,330.99 146.7,330.47 147.2,330.68 147.7,330.72 148.2,330.43 148.7,330.26 149.2,330.95 149.7,330.47 150.2,330.79 150.7,330.84 151.2,330.1 151.7,331.04 152.2,330.65 152.7,330.5 153.2,330.47 153.7,330.44 154.2,330.69 154.7,331.33 155.2,330.57 155.7,330.21 156.2,330.51 156.7,331.33 157.2,330.63 157.7,331.28 158.2,330.33 158.7,330.33 159.2,330.2 159.7,330.26 160.2,330.57 160.7,330.63 161.2,329.97 161.7,330.22 162.2,330.3 162.7,330.43 163.2,331.04 163.7,331.09 164.2,330.71 164.7,330.82 165.2,330.26 165.7,330.66 166.2,329.92 166.7,330.51 167.2,330.63 167.7,330.81 168.2,330.47 168.7,330.47 169.2,330.15 169.7,329.71 170.2,330.26 170.7,329.81 171.2,330.34 171.7,330.36 172.2,329.98 172.7,329.83 173.2,330.4 173.7,330.25 174.2,330.61 174.7,330.76 175.2,331.02 175.7,330.79 176.2,330.13 176.7,330.42 177.2,331.18 177.7,330.14 178.2,330.31 178.7,330.9 179.2,330.65 179.7,330.22 180.2,330.55 180.7,330.22 181.2,330.74 181.7,330.38 182.2,330.44 182.7,330.49 183.2,329.72 183.7,330.36 184.2,330.56 184.7,330.44 185.2,330.23 185.7,330.39 186.2,330.92 186.7,330.65 187.2,330.19 187.7,330.78 188.2,330.51 188.7,330.23 189.2,329.77 189.7,330.6 190.2,330 190.7,330.51 191.2,330.78 191.7,330.63 192.2,329.96" fill="none" stroke="#009e73" stroke-width="1.4" stroke-linejoin="round" stroke-linecap="round"/>
<polyline points="36.7,330.54 37.2,330.2 37.7,330.61 38.2,330.41 38.7,329.85 39.2,330.75 39.7,330.37 40.2,330.62 40.7,331.04 41.2,330.49 41.7,330.02 42.2,330.16 42.7,330.76 43.2,329.89 43.7,330.49 44.2,330.53 44.7,330 45.2,330.46 45.7,330.59 46.2,330.13 46.7,330.23 47.2,330.59 47.7,329.94 48.2,330.09 48.7,330.73 49.2,330.43 49.7,329.9 50.2,330.4 50.7,331.08 51.2,329.87 51.7,330.68 52.2,330.66 52.7,330.33 53.2,330.61 53.7,330.16 54.2,330.94 54.7,331 55.2,330.09 55.7,330.32 56.2,330.44 56.7,330.17 57.2,330.52 57.7,330.03 58.2,330.59 58.7,330.29 59.2,330.37 59.7,330.56 60.2,330.71 60.7,330.05 61.2,330.67 61.7,330.7 62.2,330.35 62.7,330.93 63.2,330.12 63.7,330.2 64.2,330.52 64.7,330.15 65.2,330.87 65.7,330.46 66.2,330.99 66.7,330.02 67.2,330.05 67.7,330.85 68.2,330.02 68.7,330.76 69.2,330.1 69.7,330.47 70.2,330.79 70.7,330.36 71.2,329.98 71.7,330.21 72.2,330.78 72.7,330.45 73.2,330.63 73.7,330.41 74.2,330.48 74.7,330.31 75.2,330.02 75.7,330.57 76.2,330.44 76.7,329.68 77.2,330.38 77.7,330.71 78.2,331.05 78.7,329.9 79.2,330.41 79.7,330.57 80.2,330.63 80.7,330.12 81.2,330.55 81.7,330.22 82.2,330.35 82.7,330.18 83.2,330.47 83.7,330.23 84.2,330.47 84.7,330.33 85.2,330.68 85.7,330.95 86.2,330.33 86.7,330.1 87.2,330.28 87.7,330.17 88.2,329.78 88.7,330.36 89.2,330.18 89.7,330.67 90.2,330.31 90.7,330.68 91.2,330.62 91.7,330.18 92.2,330.23 92.7,330.16 93.2,330.19 93.7,330.63 94.2,330.16 94.7,330.2 95.2,330.06 95.7,330.83 96.2,330.21 96.7,330.29 97.2,330.04 97.7,330.42 98.2,330.06 98.7,330.1 99.2,329.62 99.7,329.75 100.2,330.39 100.7,330.59 101.2,329.74 101.7,330.38 102.2,330.39 102.7,331.39 103.2,329.97 103.7,330.08 104.2,329.95 104.7,330.6 105.2,330.68 105.7,330.22 106.2,330.84 106.7,331.05 107.2,330.15 107.7,330.5 108.2,330.24 108.7,330.09 109.2,330.15 109.7,330.22 110.2,329.86 110.7,330.28 111.2,330.58 111.7,329.97 112.2,330.12 112.7,329.98 113.2,330.43 113.7,330.26 114.2,330.62 114.7,330.19 115.2,329.78 115.7,330.49 116.2,330.19 116.7,330.69 117.2,330.54 117.7,329.37 118.2,329.6 118.7,330.3 119.2,330.02 119.7,329.5 120.2,330.1 120.7,330.73 121.2,330.5 121.7,329.97 122.2,330.38 122.7,330.63 123.2,330.21 123.7,330.9 124.2,330.03 124.7,331.01 125.2,330.81 125.7,330.45 126.2,330.35 126.7,330.28 127.2,329.94 127.7,330.61 128.2,330.71 128.7,330.54 129.2,330.36 129.7,330.3 130.2,329.93 130.7,330.03 131.2,329.75 131.7,330.42 132.2,329.94 132.7,330.55 133.2,330.02 133.7,330.75 134.2,330.8 134.7,330.78 135.2,330.64 135.7,330.14 136.2,330.13 136.7,329.98 137.2,330.35 137.7,330.82 138.2,329.85 138.7,331.08 139.2,330.03 139.7,329.82 140.2,330.35 140.7,330.6 141.2,330.1 141.7,329.87 142.2,330.84 142.7,329.84 143.2,330.57 143.7,330.27 144.2,330.09 144.7,330.23 145.2,329.83 145.7,329.82 146.2,330.32 146.7,329.85 147.2,329.94 147.7,330.71 148.2,330.83 148.7,330.59 149.2,330.51 149.7,330.11 150.2,330.23 150.7,329.94 151.2,329.21 151.7,330.26 152.2,330.27 152.7,330.53 153.2,329.77 153.7,330.58 154.2,329.99 154.7,329.74 155.2,330.08 155.7,330.5 156.2,330.16 156.7,330.32 157.2,329.85 157.7,330.32 158.2,330.5 158.7,329.84 159.2,330.29 159.7,329.67 160.2,330.22 160.7,329.61 161.2,330.27 161.7,330.13 162.2,329.73 162.7,330.25 163.2,329.77 163.7,330.14 164.2,329.79 164.7,330.29 165.2,329.9 165.7,330.6 166.2,330.25 166.7,330.27 167.2,329.62 167.7,329.35 168.2,329.79 168.7,330.7 169.2,329.73 169.7,330.49 170.2,330.49 170.7,329.84 171.2,329.97 171.7,330.5 172.2,329.94 172.7,329.89 173.2,329.82 173.7,330.04 174.2,329.97 174.7,330.44 175.2,330.08 175.7,330.41 176.2,329.95 176.7,330.86 177.2,329.94 177.7,329.92 178.2,329.69 178.7,329.37 179.2,329.65 179.7,330.03 180.2,329.6 180.7,330.23 181.2,329.37 181.7,329.34 182.2,330.03 182.7,330.05 183.2,329.52 183.7,330.28 184.2,330.38 184.7,330.02 185.2,329.44 185.7,330.32 186.2,329.78 186.7,329.81 187.2,330.03 187.7,329.62 188.2,330.38 188.7,329.63 189.2,330.21 189.7,330.11 190.2,330.45 190.7,330 191.2,330.12 191.7,329.68 192.2,329.73" fill="none" stroke="#56b4e9" stroke-width="1.6" stroke-linejoin="round" stroke-linecap="round"/>
<polyline points="36.7,329.99 37.2,329.56 37.7,330.9 38.2,330.17 38.7,330.23 39.2,329.93 39.7,330.02 40.2,330.12 40.7,330.07 41.2,329.79 41.7,330.22 42.2,330.17 42.7,329.96 43.2,329.75 43.7,329.69 44.2,329.65 44.7,330.1 45.2,329.88 45.7,330.3 46.2,329.69 46.7,330.25 47.2,330.01 47.7,329.8 48.2,330.37 48.7,330.05 49.2,330.28 49.7,330.38 50.2,330.17 50.7,329.83 51.2,330.07 51.7,330.35 52.2,329.78 52.7,330.19 53.2,329.93 53.7,329.83 54.2,329.8 54.7,329.62 55.2,329.91 55.7,330.13 56.2,329.31 56.7,329.86 57.2,330.07 57.7,329.86 58.2,330.26 58.7,329.72 59.2,330.24 59.7,330.28 60.2,330.13 60.7,329.74 61.2,330.61 61.7,329.91 62.2,330.17 62.7,329.65 63.2,329.75 63.7,330.13 64.2,329.51 64.7,330.15 65.2,330.6 65.7,329.5 66.2,329.89 66.7,330.28 67.2,329.87 67.7,330.28 68.2,330.05 68.7,329.41 69.2,329.09 69.7,329.9 70.2,330.3 70.7,329.69 71.2,330.41 71.7,329.43 72.2,330.21 72.7,329.92 73.2,329.94 73.7,329.86 74.2,329.75 74.7,329.95 75.2,329.6 75.7,330.3 76.2,329.58 76.7,330.19 77.2,329.62 77.7,329.52 78.2,330.21 78.7,330.11 79.2,330.01 79.7,330.61 80.2,329.73 80.7,330.32 81.2,330.11 81.7,330.59 82.2,329.62 82.7,329.87 83.2,329.81 83.7,329.69 84.2,329.47 84.7,329.91 85.2,329.89 85.7,329.67 86.2,329.91 86.7,329.39 87.2,330.48 87.7,330.17 88.2,330.06 88.7,330.24 89.2,329.87 89.7,329.76 90.2,329.8 90.7,329.73 91.2,329.83 91.7,330.36 92.2,329.82 92.7,330.48 93.2,330.14 93.7,330.65 94.2,329.81 94.7,329.74 95.2,329.78 95.7,329.24 96.2,330.25 96.7,330.15 97.2,330.04 97.7,330.03 98.2,330.32 98.7,329.68 99.2,330.12 99.7,330.12 100.2,330.27 100.7,330.51 101.2,330.16 101.7,329.73 102.2,330.19 102.7,329.91 103.2,330.03 103.7,329.65 104.2,329.9 104.7,329.98 105.2,329.9 105.7,330.18 106.2,330.64 106.7,329.99 107.2,329.69 107.7,329.9 108.2,330.4 108.7,330.03 109.2,330.35 109.7,330.08 110.2,330.35 110.7,329.86 111.2,330.46 111.7,330.09 112.2,330.22 112.7,330.5 113.2,329.25 113.7,330.5 114.2,330.85 114.7,329.94 115.2,329.82 115.7,329.95 116.2,330.25 116.7,329.97 117.2,329.58 117.7,329.65 118.2,329.41 118.7,329.75 119.2,329.66 119.7,329.41 120.2,330.1 120.7,329.94 121.2,330.17 121.7,329.24 122.2,330.29 122.7,330.51 123.2,329.81 123.7,329.47 124.2,329.26 124.7,330.29 125.2,329.92 125.7,330.09 126.2,329.89 126.7,329.36 127.2,329.76 127.7,329.92 128.2,329.64 128.7,330.04 129.2,329.68 129.7,330.26 130.2,329.23 130.7,330.08 131.2,329.94 131.7,330.25 132.2,330.41 132.7,330.15 133.2,330.04 133.7,329.73 134.2,330.32 134.7,329.97 135.2,330.09 135.7,329.92 136.2,330.01 136.7,329.72 137.2,330.85 137.7,330.02 138.2,329.82 138.7,329.8 139.2,330.08 139.7,329.8 140.2,330.22 140.7,329.97 141.2,330.05 141.7,330.34 142.2,330.06 142.7,330.09 143.2,330.14 143.7,330.43 144.2,329.91 144.7,330.37 145.2,330.2 145.7,330.11 146.2,329.51 146.7,329.99 147.2,329.44 147.7,329.71 148.2,329.82 148.7,329.74 149.2,329.44 149.7,330.23 150.2,329.83 150.7,330.37 151.2,329.9 151.7,329.26 152.2,330.39 152.7,330.22 153.2,330.47 153.7,329.77 154.2,329.15 154.7,329.92 155.2,329.49 155.7,329.55 156.2,329.47 156.7,329.43 157.2,330.2 157.7,329.45 158.2,329.04 158.7,330.46 159.2,329.55 159.7,329.42 160.2,330.12 160.7,329.9 161.2,329.23 161.7,330.15 162.2,330.1 162.7,329.94 163.2,329.16 163.7,329.79 164.2,329.13 164.7,329.85 165.2,329.99 165.7,330.08 166.2,329.47 166.7,330.27 167.2,329.71 167.7,329.66 168.2,329.5 168.7,329.92 169.2,329.96 169.7,329.74 170.2,329.49 170.7,330.22 171.2,329.84 171.7,330.04 172.2,329.95 172.7,329.79 173.2,329.5 173.7,329.53 174.2,329.61 174.7,328.84 175.2,329.49 175.7,330.03 176.2,329.74 176.7,329.21 177.2,329.85 177.7,329.56 178.2,330.07 178.7,329.61 179.2,329.39 179.7,329.73 180.2,329.58 180.7,329.89 181.2,329.46 181.7,330.11 182.2,329.57 182.7,329.22 183.2,329.45 183.7,329.51 184.2,329.96 184.7,329.8 185.2,329.63 185.7,329.95 186.2,329.78 186.7,329.97 187.2,329.51 187.7,330.15 188.2,328.96 188.7,329.16 189.2,329.63 189.7,329.9 190.2,330.12 190.7,329.7 191.2,329.64 191.7,329.74 192.2,329.69" fill="none" stroke="#9400d3" stroke-width="1.4" stroke-linejoin="round" stroke-linecap="round"/>
<polyline points="36.7,329.4 37.2,330.07 37.7,330.2 38.2,330.06 38.7,330.31 39.2,329.8 39.7,329.3 40.2,329.78 40.7,329.97 41.2,329.95 41.7,329.59 42.2,329.08 42.7,330.53 43.2,329.8 43.7,329.96 44.2,329.58 44.7,329.51 45.2,330.02 45.7,330.13 46.2,329.47 46.7,329.6 47.2,329.55 47.7,329.42 48.2,329.51 48.7,329.76 49.2,329.19 49.7,330.55 50.2,329.3 50.7,329.66 51.2,330.42 51.7,329.65 52.2,329.81 52.7,330.02 53.2,330.39 53.7,329.48 54.2,330.33 54.7,329.41 55.2,330.46 55.7,330.2 56.2,329.99 56.7,329.69 57.2,330.35 57.7,330.12 58.2,330.24 58.7,329.34 59.2,329.8 59.7,329.91 60.2,330.01 60.7,329.22 61.2,329.23 61.7,329.98 62.2,329.66 62.7,329.88 63.2,329.4 63.7,329.84 64.2,329.48 64.7,329.38 65.2,329.38 65.7,329.91 66.2,329.21 66.7,329.16 67.2,329.48 67.7,329.89 68.2,330.01 68.7,330.02 69.2,330.11 69.7,329.59 70.2,329.62 70.7,330.33 71.2,329.73 71.7,329.89 72.2,329.45 72.7,329.94 73.2,329.34 73.7,329.61 74.2,329.68 74.7,329.69 75.2,329.98 75.7,330.04 76.2,330.08 76.7,329.78 77.2,329.54 77.7,329.72 78.2,329.6 78.7,329.45 79.2,330.33 79.7,329.33 80.2,330 80.7,329.58 81.2,329.12 81.7,330.46 82.2,329.6 82.7,329.35 83.2,330.55 83.7,329.63 84.2,329.78 84.7,330.29 85.2,329.38 85.7,329.39 86.2,329.99 86.7,329.89 87.2,329.43 87.7,329.2 88.2,329.24 88.7,329.92 89.2,330.2 89.7,330.18 90.2,329.9 90.7,329.89 91.2,328.96 91.7,329.74 92.2,329.56 92.7,330.23 93.2,329.67 93.7,329.79 94.2,329.81 94.7,329.9 95.2,329.94 95.7,330.52 96.2,330.28 96.7,329.9 97.2,329.49 97.7,330.37 98.2,330.06 98.7,329.78 99.2,329.56 99.7,329.39 100.2,330.12 100.7,330.13 101.2,329.76 101.7,329.75 102.2,330.39 102.7,329.93 103.2,329.69 103.7,329.5 104.2,330.08 104.7,330.04 105.2,329.36 105.7,328.95 106.2,329.97 106.7,329.97 107.2,330.11 107.7,329.98 108.2,329.1 108.7,330.13 109.2,329.59 109.7,330.26 110.2,329.84 110.7,329.6 111.2,329.32 111.7,329.54 112.2,329.85 112.7,329.66 113.2,330.16 113.7,329.7 114.2,329.83 114.7,329.46 115.2,329.46 115.7,329.5 116.2,329.36 116.7,330.07 117.2,330.24 117.7,329.49 118.2,329.56 118.7,330.15 119.2,329.91 119.7,329.97 120.2,329.31 120.7,330.38 121.2,329.83 121.7,329.82 122.2,329.59 122.7,329.65 123.2,329.66 123.7,329.59 124.2,329.79 124.7,329.99 125.2,329.48 125.7,329.62 126.2,329.96 126.7,329.86 127.2,330.8 127.7,329.34 128.2,329.92 128.7,329.57 129.2,329.62 129.7,329.64 130.2,329.63 130.7,329.93 131.2,329.77 131.7,330.01 132.2,330.68 132.7,330.01 133.2,329.63 133.7,330.12 134.2,328.65 134.7,330.14 135.2,330.31 135.7,329.68 136.2,329.79 136.7,329.58 137.2,329.29 137.7,329.87 138.2,329.8 138.7,329.48 139.2,330.08 139.7,329.27 140.2,329.99 140.7,329.89 141.2,329.81 141.7,329.77 142.2,329.72 142.7,329.11 143.2,328.76 143.7,329.51 144.2,330.02 144.7,329.53 145.2,329.58 145.7,329.53 146.2,329.49 146.7,329.43 147.2,329.49 147.7,328.52 148.2,329.21 148.7,328.61 149.2,329.44 149.7,328.47 150.2,328.7 150.7,329.15 151.2,328.75 151.7,328.98 152.2,328.39 152.7,329.61 153.2,328.61 153.7,328.16 154.2,328.88 154.7,328.27 155.2,328.47 155.7,328.36 156.2,328.45 156.7,328.3 157.2,328.83 157.7,328.58 158.2,327.87 158.7,328.4 159.2,327.99 159.7,327.98 160.2,327.84 160.7,327.53 161.2,328.14 161.7,327.63 162.2,327.91 162.7,328.25 163.2,327.38 163.7,327.64 164.2,327.71 164.7,327.49 165.2,327.48 165.7,327.26 166.2,326.83 166.7,327.49 167.2,328.16 167.7,327.08 168.2,327.5 168.7,327.38 169.2,327.06 169.7,327.14 170.2,327.52 170.7,327.18 171.2,327.13 171.7,327.41 172.2,326.98 172.7,326.71 173.2,326.97 173.7,326.87 174.2,327.01 174.7,327.87 175.2,326.72 175.7,326.72 176.2,327.29 176.7,327.38 177.2,326.78 177.7,326.89 178.2,326.64 178.7,327.27 179.2,326.92 179.7,327.04 180.2,326.61 180.7,327 181.2,326.86 181.7,326.98 182.2,326.98 182.7,326.2 183.2,326.42 183.7,327.55 184.2,326.89 184.7,327.15 185.2,326.89 185.7,326.83 186.2,327.1 186.7,326.76 187.2,326.89 187.7,327.06 188.2,326.51 188.7,327.19 189.2,326.55 189.7,326.15 190.2,326.39 190.7,326.77 191.2,327.48 191.7,326.68 192.2,326.77" fill="none" stroke="#0072b2" stroke-width="1.8" stroke-linejoin="round" stroke-linecap="round"/>
<polyline points="36.7,329.36 37.2,329.68 37.7,329.69 38.2,329.71 38.7,330.25 39.2,329.85 39.7,329.94 40.2,329.8 40.7,329.44 41.2,329.87 41.7,330.09 42.2,329.85 42.7,329.58 43.2,329.31 43.7,330.45 44.2,329.48 44.7,329.48 45.2,329.27 45.7,329.92 46.2,329.84 46.7,329.49 47.2,329.73 47.7,329.87 48.2,329.64 48.7,329.39 49.2,329.68 49.7,329.88 50.2,329.4 50.7,329.56 51.2,330.03 51.7,330.21 52.2,330.1 52.7,329.9 53.2,330.25 53.7,329.62 54.2,329.75 54.7,329.7 55.2,330.13 55.7,329.48 56.2,329.6 56.7,330.42 57.2,329.6 57.7,329.06 58.2,330.08 58.7,330.17 59.2,329.42 59.7,329.42 60.2,329.54 60.7,329.81 61.2,330.25 61.7,330.16 62.2,329.25 62.7,330.36 63.2,329.47 63.7,329.88 64.2,329.75 64.7,329.63 65.2,329.32 65.7,330.61 66.2,329.76 66.7,330.32 67.2,329.5 67.7,330.01 68.2,329.58 68.7,329.94 69.2,330.16 69.7,329.45 70.2,329.73 70.7,329.93 71.2,330.2 71.7,330.17 72.2,329.56 72.7,329.37 73.2,329.68 73.7,330.09 74.2,330.17 74.7,329.24 75.2,329.01 75.7,329.53 76.2,329.87 76.7,330.22 77.2,329.43 77.7,329.66 78.2,330.15 78.7,329.45 79.2,330.08 79.7,330.36 80.2,330.17 80.7,330.45 81.2,329.64 81.7,329.18 82.2,330.38 82.7,330.06 83.2,330.3 83.7,329.83 84.2,329.31 84.7,329.58 85.2,329.62 85.7,329.48 86.2,329.82 86.7,329.88 87.2,329.53 87.7,329.05 88.2,328.81 88.7,329.7 89.2,329.68 89.7,329.42 90.2,330.34 90.7,329.45 91.2,329.95 91.7,329.93 92.2,329.45 92.7,330.22 93.2,329.87 93.7,329.83 94.2,329.19 94.7,329.41 95.2,329.27 95.7,329.62 96.2,329.69 96.7,329.98 97.2,329.05 97.7,329.76 98.2,329.74 98.7,329.99 99.2,328.7 99.7,329.89 100.2,329.15 100.7,329.61 101.2,329.42 101.7,329.3 102.2,330.04 102.7,329.94 103.2,330.1 103.7,329.75 104.2,329.11 104.7,329.95 105.2,329.81 105.7,330.23 106.2,329.73 106.7,329.38 107.2,329.79 107.7,329.25 108.2,329.53 108.7,329.59 109.2,329.8 109.7,329.6 110.2,329.39 110.7,329.83 111.2,330.03 111.7,329.94 112.2,329.94 112.7,329.64 113.2,330 113.7,329.42 114.2,328.95 114.7,329.46 115.2,330.05 115.7,328.92 116.2,328.62 116.7,330.15 117.2,329 117.7,329.77 118.2,329.23 118.7,329.87 119.2,329.05 119.7,329.13 120.2,329.61 120.7,329.43 121.2,329.76 121.7,330.14 122.2,329.33 122.7,329.46 123.2,329.41 123.7,329.29 124.2,329.79 124.7,329.34 125.2,329.65 125.7,330.05 126.2,329 126.7,329.37 127.2,329.45 127.7,329.38 128.2,329.95 128.7,329.74 129.2,329.61 129.7,329.32 130.2,330.29 130.7,328.42 131.2,328.76 131.7,329.36 132.2,329.9 132.7,329.19 133.2,329.46 133.7,328.81 134.2,329.28 134.7,329.04 135.2,329.33 135.7,328.93 136.2,328.75 136.7,328.83 137.2,328.19 137.7,328.84 138.2,329.05 138.7,328.46 139.2,329.12 139.7,328.77 140.2,328.11 140.7,328.76 141.2,328.09 141.7,328.72 142.2,327.68 142.7,327.89 143.2,327.15 143.7,327.77 144.2,327.46 144.7,327.4 145.2,328.1 145.7,328 146.2,328.04 146.7,327.37 147.2,327.7 147.7,326.56 148.2,326.73 148.7,327.12 149.2,326.98 149.7,326.81 150.2,327.46 150.7,327.64 151.2,326.78 151.7,327.33 152.2,326.64 152.7,326.44 153.2,326.96 153.7,326.61 154.2,325.83 154.7,326.37 155.2,326.63 155.7,325.53 156.2,325.79 156.7,326.09 157.2,325.47 157.7,325.5 158.2,326.23 158.7,326.38 159.2,325.53 159.7,325.39 160.2,325.4 160.7,324.79 161.2,325.48 161.7,325.6 162.2,325.7 162.7,326.14 163.2,324.94 163.7,325.7 164.2,325.27 164.7,325.01 165.2,325.44 165.7,325.01 166.2,324.74 166.7,325.28 167.2,324.72 167.7,325.03 168.2,325.17 168.7,324.97 169.2,324.38 169.7,325.07 170.2,325.16 170.7,324.35 171.2,324.31 171.7,323.75 172.2,324.52 172.7,324.07 173.2,324.65 173.7,324.73 174.2,325.06 174.7,324.44 175.2,324.35 175.7,324.78 176.2,324.44 176.7,324.67 177.2,324.82 177.7,324.14 178.2,325.19 178.7,324.54 179.2,325.06 179.7,325.03 180.2,324.33 180.7,323.94 181.2,324.96 181.7,325.06 182.2,324.44 182.7,324.57 183.2,324.44 183.7,324.77 184.2,324 184.7,324.51 185.2,324.95 185.7,324.89 186.2,324.2 186.7,325.26 187.2,324.27 187.7,324.72 188.2,324.31 188.7,324.72 189.2,324.65 189.7,324.83 190.2,325.2 190.7,324.29 191.2,324.52 191.7,324.87 192.2,324.25" fill="none" stroke="#e51e10" stroke-width="1.8" stroke-linejoin="round" stroke-linecap="round"/>
<polyline points="36.7,329.73 37.2,329.77 37.7,329.92 38.2,330.68 38.7,329.78 39.2,329.79 39.7,330.1 40.2,330.99 40.7,329.84 41.2,329.95 41.7,330.4 42.2,330.37 42.7,330.49 43.2,330.01 43.7,329.83 44.2,329.63 44.7,330.46 45.2,330.19 45.7,330.51 46.2,330.32 46.7,330.99 47.2,330.59 47.7,330.38 48.2,330.32 48.7,330.04 49.2,330.1 49.7,330.14 50.2,331.06 50.7,330.2 51.2,330 51.7,330.42 52.2,330.66 52.7,329.73 53.2,329.13 53.7,330.16 54.2,330.81 54.7,329.95 55.2,330.61 55.7,330.46 56.2,330.64 56.7,329.97 57.2,330.11 57.7,331.09 58.2,330.63 58.7,329.04 59.2,330.92 59.7,331.29 60.2,330.15 60.7,330.69 61.2,329.86 61.7,330.31 62.2,330.33 62.7,329.97 63.2,330.74 63.7,330.55 64.2,330.6 64.7,330.73 65.2,329.19 65.7,330.45 66.2,329.48 66.7,330.07 67.2,330.25 67.7,329.73 68.2,330.33 68.7,329.6 69.2,330.04 69.7,330.7 70.2,329.77 70.7,330.35 71.2,329.49 71.7,330.41 72.2,329.39 72.7,329.76 73.2,329.41 73.7,330.37 74.2,329.75 74.7,329.97 75.2,330.37 75.7,330.7 76.2,330.53 76.7,330.13 77.2,330.97 77.7,330.68 78.2,330.16 78.7,331.19 79.2,329.76 79.7,330.17 80.2,330.89 80.7,330.6 81.2,330.48 81.7,330.07 82.2,329.75 82.7,330.05 83.2,330.5 83.7,329.99 84.2,329.54 84.7,330.06 85.2,331.32 85.7,330.73 86.2,331.32 86.7,330.29 87.2,330.19 87.7,330.01 88.2,331.18 88.7,329.86 89.2,330.24 89.7,330.62 90.2,329.58 90.7,329.98 91.2,329.82 91.7,330.12 92.2,330.44 92.7,329.71 93.2,330.28 93.7,329.68 94.2,329.91 94.7,329.77 95.2,329.42 95.7,328.99 96.2,329.52 96.7,329.45 97.2,330.56 97.7,330.09 98.2,329.99 98.7,329.02 99.2,329.9 99.7,329.65 100.2,329.17 100.7,329.71 101.2,329.05 101.7,328.98 102.2,328.61 102.7,328.09 103.2,328.99 103.7,327.59" fill="none" stroke="#e69f00" stroke-width="1.6" stroke-linejoin="round" stroke-linecap="round"/>
<polyline points="100,328.63 100.5,328.99 101,328.81 101.5,328.86 102,328.2 102.5,328.8 103,328.37 103.5,327.86 104,327.67 104.5,327.54 105,327.57 105.5,327.99 106,327.75 106.5,327.17 107,327.01 107.5,327.59 108,327.12 108.5,326.44 109,326.46 109.5,326.2 110,326.19 110.5,326.22 111,325.68 111.5,325.67 112,325.52 112.5,325.38 113,324.74 113.5,324.64 114,325.07 114.5,324.18 115,324.01 115.5,323.89 116,323.33 116.5,323.13 117,323.49 117.5,323.1 118,322.1 118.5,322.15 119,321.44 119.5,321.04 120,321.16 120.5,321.26 121,320.4 121.5,320.46 122,319.28 122.5,319.18 123,318.65 123.5,318.09 124,317.76 124.5,316.98 125,315.95 125.5,314.98 126,314.46 126.5,313.82 127,312.83 127.5,311.66 128,310.63 128.5,310.36 129,309.09 129.5,307.67 130,306.75 130.5,305.48 131,303.94 131.5,302.46 132,301.41 132.5,299.7 133,298.15 133.5,296.2 134,294.08 134.5,291.79 135,289.54 135.5,287.08 136,284.86 136.5,282.56 137,280.61 137.5,278.46 138,275.85 138.5,273.75 139,271.01 139.5,268.8 140,266.23 140.5,264.1 141,261.32 141.5,258.57 142,255.99 142.5,252.47 143,249.88 143.5,246.8 144,243.72 144.5,239.65 145,236.43 145.5,232.39 146,229.84 146.5,225.94 147,222.61 147.5,218.65 148,215.97 148.5,213.35 149,210.9 149.5,209.07 150,207.87 150.5,206.81 151,205.48 151.5,207.06 152,205.95 152.5,205.9 153,205.77 153.5,205.32 154,205.4 154.5,206.05 155,205.1 155.5,206.9 156,205.11 156.5,206.74 157,204.26 157.5,205.69 158,206.17 158.5,206.92 159,206.95 159.5,204.19 160,204.58 160.5,207.21 161,204.91 161.5,203.55 162,206.67 162.5,206.07 163,203.93 163.5,204.66 164,206.87 164.5,204.83 165,204.7 165.5,204.87 166,206.9 166.5,203.39 167,205.73 167.5,205.41 168,205.81 168.5,206.12 169,205.29 169.5,205.94 170,205.78 170.5,206.93 171,202.61 171.5,205.12 172,205.41 172.5,203.75 173,206.96 173.5,205.97 174,203.39 174.5,205.07 175,206.22 175.5,205.53 176,204.55 176.5,206.13 177,205.8 177.5,204.37 178,205.18 178.5,206.97 179,206.84 179.5,204.34 180,204.73 180.5,207.11 181,206.16 181.5,205.54 182,205.11 182.5,205.71 183,206.56 183.5,202.75 184,206.5 184.5,204.42 185,203.96 185.5,204.72 186,204.21 186.5,204.31 187,205.55 187.5,204.99 188,206.65 188.5,203.69 189,206.43 189.5,204.09 190,205.69 190.5,205.11 191,206.61 191.5,204.02 192,205.6 192.5,207.34" fill="none" stroke="#e69f00" stroke-width="2.8" stroke-linejoin="round" stroke-linecap="round"/>
<polyline points="104,329.65 104.5,329.17 105,329.61 105.5,329.58 106,328.61 106.5,328.7 107,329.02 107.5,328.78 108,328.75 108.5,328.39 109,328.79 109.5,328.64 110,328.3 110.5,328.5 111,328.18 111.5,327.66 112,327.91 112.5,327.39 113,327.81 113.5,327.4 114,327.21 114.5,326.91 115,327.33 115.5,326.75 116,326.5 116.5,326.35 117,326.44 117.5,326.21 118,326.04 118.5,325.85 119,326.17 119.5,325.21 120,324.97 120.5,324.68 121,324.9 121.5,324.85 122,324.27 122.5,323.84 123,323.64 123.5,323.87 124,323.69 124.5,323.42 125,322.84 125.5,322.89 126,322.63 126.5,322.42 127,322.37 127.5,321.92 128,321.78 128.5,321.31 129,321.08 129.5,320.86 130,319.9 130.5,319.88 131,319.46 131.5,318.98 132,318.6 132.5,318.58 133,317.26 133.5,317.15 134,315.65 134.5,315.31 135,314.68 135.5,314 136,313.21 136.5,312.36 137,311.06 137.5,309.99 138,309.29 138.5,307.81 139,306.26 139.5,305.02 140,303.75 140.5,302.76 141,301.14 141.5,299.68 142,297.62 142.5,295.97 143,294.19 143.5,291.75 144,289.57 144.5,286.7 145,284.29 145.5,281.93 146,279.49 146.5,277.87 147,275.48 147.5,273.51 148,271.49 148.5,269.22 149,267 149.5,264.43 150,261.93 150.5,259.53 151,256.42 151.5,253.67 152,250.75 152.5,247.84 153,245.28 153.5,241.97 154,239.1 154.5,236.62 155,233.35 155.5,231.27 156,228.54 156.5,226.7 157,224.71 157.5,223.66 158,223.17 158.5,221.09 159,221.64 159.5,221.28 160,220.51 160.5,219.61 161,220.78 161.5,220.11 162,220.85 162.5,220.6 163,222.42 163.5,220.26 164,219.3 164.5,220.73 165,220.77 165.5,222.13 166,221.5 166.5,220.93 167,222.26 167.5,219.07 168,219.73 168.5,219.39 169,220.03 169.5,218.85 170,221.26 170.5,220.23 171,218.74 171.5,219.28 172,220.88 172.5,221.51 173,222.9 173.5,224 174,221 174.5,219.31 175,217.94 175.5,220.82 176,219.52 176.5,220 177,219.77 177.5,220.33 178,221.78 178.5,220.69 179,220.31 179.5,219.26 180,218.49 180.5,219.92 181,220.44 181.5,222.62 182,220.66 182.5,221.68 183,219.9 183.5,219.08 184,219.34 184.5,219.63 185,223.05 185.5,219.51 186,221.51 186.5,219.42 187,221.62 187.5,220.96 188,220.31 188.5,220.45 189,219.71 189.5,221.04 190,219.95 190.5,219.03 191,218.97 191.5,220.71 192,222.39 192.5,220.69" fill="none" stroke="#56b4e9" stroke-width="2.6" stroke-linejoin="round" stroke-linecap="round"/>
<polyline points="110,329.86 110.5,329.93 111,329.48 111.5,329.31 112,328.9 112.5,329.69 113,329.3 113.5,329.25 114,328.84 114.5,329.33 115,329.12 115.5,328.68 116,328.42 116.5,328.35 117,328.09 117.5,328.21 118,327.89 118.5,328.13 119,327.72 119.5,327.61 120,328.06 120.5,327.27 121,326.91 121.5,327.37 122,326.53 122.5,327.11 123,327.21 123.5,326.82 124,326.68 124.5,325.95 125,326.6 125.5,326.43 126,325.83 126.5,326.63 127,325.55 127.5,325.28 128,325.1 128.5,325.51 129,325.46 129.5,325.34 130,324.95 130.5,324.65 131,324.99 131.5,324.3 132,324.04 132.5,324.65 133,324.1 133.5,324.01 134,323.87 134.5,323.32 135,323.13 135.5,323.28 136,322.69 136.5,322.76 137,322.4 137.5,321.84 138,322.24 138.5,321.31 139,321.5 139.5,321.18 140,321.25 140.5,320.24 141,320.1 141.5,319.91 142,319.65 142.5,319.49 143,318.91 143.5,318.37 144,318.18 144.5,317.98 145,316.38 145.5,316.21 146,315.83 146.5,315 147,314.76 147.5,313.57 148,312.7 148.5,312.57 149,310.74 149.5,310.65 150,310.7 150.5,309.15 151,308.37 151.5,307.08 152,306.42 152.5,305.43 153,305.06 153.5,303.19 154,301.64 154.5,301.51 155,300.75 155.5,298.92 156,297.38 156.5,296.35 157,295.49 157.5,293.83 158,292.56 158.5,290.27 159,289.17 159.5,287.83 160,285.73 160.5,283.67 161,282.44 161.5,280.5 162,278.07 162.5,275.92 163,274.43 163.5,271.76 164,269.7 164.5,267.99 165,265.17 165.5,262.68 166,260.09 166.5,258.76 167,256.88 167.5,254.98 168,253.82 168.5,251.66 169,250.22 169.5,249.16 170,248.17 170.5,246.66 171,245.89 171.5,245.26 172,244.91 172.5,244.03 173,244.6 173.5,242.4 174,244.06 174.5,243.17 175,244.02 175.5,245.5 176,243.43 176.5,243.69 177,244.42 177.5,241.85 178,244.21 178.5,244.38 179,243.23 179.5,244.18 180,243.54 180.5,242.47 181,241.81 181.5,244.57 182,245.53 182.5,242.45 183,243.83 183.5,241.94 184,242.83 184.5,242.8 185,242.03 185.5,243.31 186,244.59 186.5,244.07 187,242.78 187.5,245.11 188,243.66 188.5,245.57 189,241.84 189.5,247.03 190,243.2 190.5,241.99 191,242.13 191.5,244.53 192,244.5 192.5,244.39" fill="none" stroke="#009e73" stroke-width="2.6" stroke-linejoin="round" stroke-linecap="round"/>
<polyline points="118,330.33 118.5,329.92 119,329.97 119.5,330.17 120,330.03 120.5,329.89 121,329.53 121.5,329.26 122,329.59 122.5,329.23 123,329.52 123.5,329.23 124,328.82 124.5,329.01 125,329.02 125.5,328.73 126,328.32 126.5,328.5 127,328.4 127.5,328.42 128,328.27 128.5,327.66 129,327.67 129.5,327.89 130,327.09 130.5,327.73 131,327.15 131.5,327.18 132,327.64 132.5,327.09 133,326.92 133.5,327 134,326.79 134.5,326.54 135,326.7 135.5,327.17 136,326.71 136.5,326.47 137,326.32 137.5,326.38 138,326.23 138.5,325.68 139,325.98 139.5,325.74 140,326.13 140.5,325.45 141,325.77 141.5,324.94 142,325.26 142.5,324.83 143,324.66 143.5,325.03 144,324.37 144.5,324.49 145,324.19 145.5,324.38 146,324.21 146.5,323.34 147,324.06 147.5,323.53 148,324.18 148.5,323.7 149,323.57 149.5,322.43 150,323.51 150.5,322.84 151,322.27 151.5,322.59 152,322.7 152.5,321.66 153,322.25 153.5,321.63 154,321.35 154.5,321.16 155,320.81 155.5,320.86 156,320.61 156.5,320.57 157,320.38 157.5,319.57 158,319.64 158.5,318.54 159,318.55 159.5,317.46 160,316.97 160.5,316.62 161,315.5 161.5,315.11 162,313.79 162.5,313.25 163,312.87 163.5,312.44 164,310.98 164.5,311.09 165,310.03 165.5,309.92 166,308.47 166.5,307.68 167,307.16 167.5,305.94 168,305.44 168.5,304.47 169,303.89 169.5,302.5 170,300.84 170.5,299.56 171,298.33 171.5,296.64 172,295.21 172.5,295.03 173,292.76 173.5,291.92 174,289.79 174.5,288.31 175,286.33 175.5,285.61 176,283.58 176.5,282.7 177,280.54 177.5,279.67 178,278.29 178.5,276.04 179,275.32 179.5,273.7 180,272.55 180.5,271.86 181,271.08 181.5,270.35 182,269.1 182.5,268.84 183,268.12 183.5,267.38 184,266.53 184.5,266.62 185,268.36 185.5,265.48 186,265.76 186.5,264.99 187,266.87 187.5,267.35 188,266.97 188.5,267.74 189,265.45 189.5,267.5 190,264.54 190.5,267.35 191,267.27 191.5,264.76 192,266.61 192.5,264.21" fill="none" stroke="#9400d3" stroke-width="2.6" stroke-linejoin="round" stroke-linecap="round"/>
<polyline points="140,327.3 140.5,327.2 141,327.09 141.5,326.98 142,326.87 142.5,326.76 143,326.65 143.5,326.53 144,326.42 144.5,326.31 145,326.2 145.5,326.09 146,325.97 146.5,325.84 147,325.71 147.5,325.57 148,325.42 148.5,325.27 149,325.12 149.5,324.96 150,324.79 150.5,324.62 151,324.43 151.5,324.25 152,324.15 152.5,323.89 153,323.56 153.5,323.52 154,323.27 154.5,323.04 155,322.79 155.5,322.52 156,322.41 156.5,321.73 157,321.69 157.5,321.75 158,322.01 158.5,321.68 159,322.21 159.5,321.7 160,319.71 160.5,320.92 161,321 161.5,320.26 162,318.52 162.5,319.32 163,318.7 163.5,319.34 164,319.69 164.5,319.02 165,317.39 165.5,318.57 166,317.66 166.5,318.17 167,316.86 167.5,316.97 168,316.49 168.5,316.09 169,317.2 169.5,316.45 170,315.82 170.5,314.13 171,314.43 171.5,314.75 172,314.95 172.5,312.86 173,314.65 173.5,312.84 174,312.52 174.5,314.09 175,312.54 175.5,313.06 176,313.37 176.5,312.84 177,311.27 177.5,311.47 178,311.25 178.5,311.86 179,311.63 179.5,312.07 180,311.42 180.5,311.61 181,310.52 181.5,310.25 182,309.11 182.5,309.66 183,308.68 183.5,309.22 184,310.94 184.5,309.79 185,309.5 185.5,309.23 186,308.78 186.5,308.97 187,309.73 187.5,307.93 188,308.12 188.5,307.77 189,308.11 189.5,310.37 190,309.66 190.5,309.63 191,306.87 191.5,306.68 192,308.46 192.5,306.86" fill="none" stroke="#222" stroke-width="1.1" stroke-linejoin="round" stroke-linecap="round"/>
<polyline points="150,323.59 150.5,323.43 151,323.25 151.5,323.09 152,322.84 152.5,322.62 153,322.51 153.5,322.27 154,322.14 154.5,322.02 155,321.79 155.5,321.43 156,321.05 156.5,320.77 157,320.98 157.5,321.37 158,320.47 158.5,319.69 159,319.95 159.5,320.27 160,319.73 160.5,318.6 161,319.16 161.5,319.28 162,319.25 162.5,316.91 163,317.81 163.5,318.25 164,319.11 164.5,318.24 165,316.14 165.5,317.52 166,316.11 166.5,316.08 167,315.63 167.5,315.87 168,316.7 168.5,314.29 169,315.5 169.5,314.61 170,314.95 170.5,314.73 171,313.72 171.5,314.09 172,314.29 172.5,312.17 173,313.86 173.5,312.84 174,313.56 174.5,310.44 175,311.84 175.5,311.25 176,310.89 176.5,309.66 177,310.8 177.5,310.58 178,309.7 178.5,309.68 179,310.85 179.5,309.92 180,310.7 180.5,311.42 181,309.54 181.5,309.34 182,307.93 182.5,307.42 183,308.67 183.5,308.14 184,309.09 184.5,309.22 185,308.1 185.5,308.42 186,307.29 186.5,308.12 187,306.37 187.5,307.86 188,308.27 188.5,305.58 189,306.42 189.5,307.51 190,307.22 190.5,307.07 191,305.82 191.5,307.75 192,306.77 192.5,306.54" fill="none" stroke="#444" stroke-width="0.8" stroke-linejoin="round" stroke-linecap="round"/>
<polyline points="102.78,329 103.28,328.9 103.78,328.79 104.28,328.68 104.78,328.56 105.28,328.44 105.78,328.31 106.28,328.18 106.78,328.05 107.28,327.91 107.78,327.76 108.28,327.62 108.78,327.47 109.28,327.31 109.78,327.16 110.28,326.99 110.78,326.83 111.28,326.65 111.78,326.48 112.28,326.29 112.78,326.11 113.28,325.91 113.78,325.72 114.28,325.51 114.78,325.3 115.28,325.09 115.78,324.86 116.28,324.64 116.78,324.4 117.28,324.16 117.78,323.92 118.28,323.67 118.78,323.41 119.28,323.15 119.78,322.88 120.28,322.59 120.78,322.3 121.28,321.99 121.78,321.67 122.28,321.33 122.78,320.97 123.28,320.59 123.78,320.19 124.28,319.76 124.78,319.3 125.28,318.79 125.78,318.22 126.28,317.6 126.78,316.93 127.28,316.21 127.78,315.45 128.28,314.65 128.78,313.81 129.28,312.93 129.78,311.98 130.28,310.94 130.78,309.8 131.28,308.58 131.78,307.28 132.28,305.91 132.78,304.47 133.28,302.94 133.78,301.27 134.28,299.46 134.78,297.5 135.28,295.41 135.78,293.16 136.28,290.54 136.78,287.67 137.28,284.8 137.78,282.17 138.28,279.8 138.78,277.56 139.28,275.38 139.78,273.21 140.28,270.96 140.78,268.6 141.28,266.14 141.78,263.63 142.28,261.04 142.78,258.34 143.28,255.52 143.78,252.53 144.28,249.38 144.78,246.12 145.28,242.79 145.78,239.44 146.28,235.97 146.78,232.41 147.28,228.86 147.78,225.44 148.28,221.96 148.78,218.57 149.28,215.6 149.78,213.15 150.28,210.98 150.78,209.3 151.28,208.11 151.78,207.12 152.28,206.45 152.78,206.17 153.28,205.98 153.78,205.82 154.28,205.71 154.78,205.63 155.28,205.6 155.78,205.57 156.28,205.55 156.78,205.54 157.28,205.52 157.78,205.51 158.28,205.51 158.78,205.5 159.28,205.5 159.78,205.5 160.28,205.5 160.78,205.5 161.28,205.5 161.78,205.5 162.28,205.5 162.78,205.5 163.28,205.5 163.78,205.5 164.28,205.5 164.78,205.5 165.28,205.5 165.78,205.5 166.28,205.5 166.78,205.5 167.28,205.5 167.78,205.5 168.28,205.5 168.78,205.5 169.28,205.5 169.78,205.5 170.28,205.5 170.78,205.5 171.28,205.5 171.78,205.5 172.28,205.5 172.78,205.5 173.28,205.5 173.78,205.5 174.28,205.5 174.78,205.5 175.28,205.5 175.78,205.5 176.28,205.5 176.78,205.5 177.28,205.5 177.78,205.5 178.28,205.5 178.78,205.5 179.28,205.5 179.78,205.5 180.28,205.5 180.78,205.5 181.28,205.5 181.78,205.5 182.28,205.5 182.78,205.5 183.28,205.5 183.78,205.5 184.28,205.5 184.78,205.5 185.28,205.5 185.78,205.5 186.28,205.5 186.78,205.5 187.28,205.5 187.78,205.5 188.28,205.5 188.78,205.5 189.28,205.5 189.78,205.5 190.28,205.5 190.78,205.5 191.28,205.5 191.78,205.5 192.28,205.5 192.78,205.5 193.28,205.5 193.78,205.5" fill="none" stroke="#000000" stroke-width="1.15" stroke-linejoin="round" stroke-linecap="round"/>
<polyline points="114.74,327.8 115.24,327.67 115.74,327.53 116.24,327.38 116.74,327.23 117.24,327.08 117.74,326.92 118.24,326.76 118.74,326.59 119.24,326.41 119.74,326.23 120.24,326.05 120.74,325.87 121.24,325.68 121.74,325.48 122.24,325.28 122.74,325.08 123.24,324.88 123.74,324.67 124.24,324.46 124.74,324.25 125.24,324.04 125.74,323.83 126.24,323.62 126.74,323.41 127.24,323.19 127.74,322.97 128.24,322.75 128.74,322.51 129.24,322.27 129.74,322.01 130.24,321.75 130.74,321.46 131.24,321.16 131.74,320.85 132.24,320.51 132.74,320.16 133.24,319.78 133.74,319.37 134.24,318.88 134.74,318.33 135.24,317.72 135.74,317.04 136.24,316.32 136.74,315.54 137.24,314.73 137.74,313.88 138.24,313 138.74,312.06 139.24,311.03 139.74,309.91 140.24,308.7 140.74,307.42 141.24,306.05 141.74,304.62 142.24,303.1 142.74,301.44 143.24,299.65 143.74,297.7 144.24,295.61 144.74,293.34 145.24,290.59 145.74,287.53 146.24,284.52 146.74,281.88 147.24,279.57 147.74,277.41 148.24,275.34 148.74,273.28 149.24,271.15 149.74,268.89 150.24,266.6 150.74,264.26 151.24,261.85 151.74,259.34 152.24,256.69 152.74,253.85 153.24,250.89 153.74,247.88 154.24,244.91 154.74,241.98 155.24,238.95 155.74,235.98 156.24,233.23 156.74,230.86 157.24,228.64 157.74,226.6 158.24,224.9 158.74,223.7 159.24,222.72 159.74,221.91 160.24,221.35 160.74,221.11 161.24,220.94 161.74,220.8 162.24,220.7 162.74,220.63 163.24,220.6 163.74,220.58 164.24,220.56 164.74,220.54 165.24,220.53 165.74,220.51 166.24,220.51 166.74,220.5 167.24,220.5 167.74,220.5 168.24,220.5 168.74,220.5 169.24,220.5 169.74,220.5 170.24,220.5 170.74,220.5 171.24,220.5 171.74,220.5 172.24,220.5 172.74,220.5 173.24,220.5 173.74,220.5 174.24,220.5 174.74,220.5 175.24,220.5 175.74,220.5 176.24,220.5 176.74,220.5 177.24,220.5 177.74,220.5 178.24,220.5 178.74,220.5 179.24,220.5 179.74,220.5 180.24,220.5 180.74,220.5 181.24,220.5 181.74,220.5 182.24,220.5 182.74,220.5 183.24,220.5 183.74,220.5 184.24,220.5 184.74,220.5 185.24,220.5 185.74,220.5 186.24,220.5 186.74,220.5 187.24,220.5 187.74,220.5 188.24,220.5 188.74,220.5 189.24,220.5 189.74,220.5 190.24,220.5 190.74,220.5 191.24,220.5 191.74,220.5 192.24,220.5 192.74,220.5 193.24,220.5 193.74,220.5" fill="none" stroke="#000000" stroke-width="1.15" stroke-linejoin="round" stroke-linecap="round"/>
<polyline points="122.74,327.6 123.24,327.52 123.74,327.44 124.24,327.35 124.74,327.25 125.24,327.15 125.74,327.04 126.24,326.93 126.74,326.81 127.24,326.68 127.74,326.55 128.24,326.42 128.74,326.28 129.24,326.14 129.74,326 130.24,325.85 130.74,325.69 131.24,325.54 131.74,325.38 132.24,325.21 132.74,325.05 133.24,324.88 133.74,324.71 134.24,324.54 134.74,324.36 135.24,324.18 135.74,324 136.24,323.82 136.74,323.63 137.24,323.43 137.74,323.23 138.24,323.02 138.74,322.81 139.24,322.58 139.74,322.35 140.24,322.11 140.74,321.86 141.24,321.6 141.74,321.32 142.24,321.04 142.74,320.74 143.24,320.43 143.74,320.1 144.24,319.76 144.74,319.4 145.24,319 145.74,318.54 146.24,318.05 146.74,317.52 147.24,316.95 147.74,316.35 148.24,315.72 148.74,315.07 149.24,314.4 149.74,313.71 150.24,313.01 150.74,312.28 151.24,311.51 151.74,310.68 152.24,309.82 152.74,308.92 153.24,307.98 153.74,307 154.24,306 154.74,304.96 155.24,303.9 155.74,302.81 156.24,301.67 156.74,300.48 157.24,299.23 157.74,297.93 158.24,296.56 158.74,295.11 159.24,293.59 159.74,291.89 160.24,290.04 160.74,288.08 161.24,286.06 161.74,284.03 162.24,282.03 162.74,280.03 163.24,278.01 163.74,275.96 164.24,273.88 164.74,271.77 165.24,269.58 165.74,267.27 166.24,264.94 166.74,262.67 167.24,260.54 167.74,258.61 168.24,256.78 168.74,255.05 169.24,253.43 169.74,251.95 170.24,250.6 170.74,249.3 171.24,248.11 171.74,247.07 172.24,246.25 172.74,245.55 173.24,244.9 173.74,244.39 174.24,244.06 174.74,243.92 175.24,243.82 175.74,243.73 176.24,243.67 176.74,243.63 177.24,243.6 177.74,243.58 178.24,243.56 178.74,243.54 179.24,243.53 179.74,243.52 180.24,243.51 180.74,243.5 181.24,243.5 181.74,243.5 182.24,243.5 182.74,243.5 183.24,243.5 183.74,243.5 184.24,243.5 184.74,243.5 185.24,243.5 185.74,243.5 186.24,243.5 186.74,243.5 187.24,243.5 187.74,243.5 188.24,243.5 188.74,243.5 189.24,243.5 189.74,243.5 190.24,243.5 190.74,243.5 191.24,243.5 191.74,243.5 192.24,243.5 192.74,243.5 193.24,243.5 193.74,243.5" fill="none" stroke="#000000" stroke-width="1.15" stroke-linejoin="round" stroke-linecap="round"/>
<polyline points="132.74,327.6 133.24,327.54 133.74,327.47 134.24,327.4 134.74,327.32 135.24,327.25 135.74,327.16 136.24,327.08 136.74,326.99 137.24,326.9 137.74,326.8 138.24,326.7 138.74,326.6 139.24,326.5 139.74,326.39 140.24,326.28 140.74,326.17 141.24,326.05 141.74,325.93 142.24,325.81 142.74,325.69 143.24,325.57 143.74,325.44 144.24,325.31 144.74,325.18 145.24,325.05 145.74,324.92 146.24,324.78 146.74,324.65 147.24,324.51 147.74,324.37 148.24,324.23 148.74,324.09 149.24,323.96 149.74,323.82 150.24,323.68 150.74,323.54 151.24,323.4 151.74,323.25 152.24,323.1 152.74,322.94 153.24,322.78 153.74,322.61 154.24,322.43 154.74,322.25 155.24,322.06 155.74,321.85 156.24,321.64 156.74,321.42 157.24,321.18 157.74,320.94 158.24,320.68 158.74,320.4 159.24,320.11 159.74,319.81 160.24,319.48 160.74,319.07 161.24,318.56 161.74,317.97 162.24,317.31 162.74,316.6 163.24,315.85 163.74,315.07 164.24,314.28 164.74,313.49 165.24,312.71 165.74,311.96 166.24,311.24 166.74,310.53 167.24,309.82 167.74,309.09 168.24,308.35 168.74,307.57 169.24,306.75 169.74,305.87 170.24,304.93 170.74,303.91 171.24,302.76 171.74,301.49 172.24,300.12 172.74,298.67 173.24,297.16 173.74,295.61 174.24,294.04 174.74,292.48 175.24,290.8 175.74,289.03 176.24,287.22 176.74,285.43 177.24,283.72 177.74,282.14 178.24,280.62 178.74,279.14 179.24,277.72 179.74,276.36 180.24,275.09 180.74,273.92 181.24,272.81 181.74,271.75 182.24,270.77 182.74,269.89 183.24,269.15 183.74,268.49 184.24,267.89 184.74,267.35 185.24,266.91 185.74,266.58 186.24,266.32 186.74,266.08 187.24,265.87 187.74,265.72 188.24,265.62 188.74,265.59 189.24,265.57 189.74,265.56 190.24,265.54 190.74,265.53 191.24,265.52 191.74,265.51 192.24,265.51 192.74,265.5 193.24,265.5 193.74,265.5" fill="none" stroke="#000000" stroke-width="1.15" stroke-linejoin="round" stroke-linecap="round"/>
<line x1="36.7" y1="328.6" x2="120" y2="328.6" stroke="#000000" stroke-width="1.6"/>
</g>
<line x1="36.7" y1="196.2" x2="192.6" y2="196.2" stroke="#9a9a9a" stroke-width="0.9"/>
<line x1="192.6" y1="196.2" x2="192.6" y2="335.5" stroke="#5a5a5a" stroke-width="0.9"/>
<line x1="36.7" y1="335.5" x2="192.6" y2="335.5" stroke="#3a3a3a" stroke-width="0.9"/>
<line x1="36.7" y1="196.2" x2="36.7" y2="335.5" stroke="#3a3a3a" stroke-width="0.9"/>
<text x="205.5" y="9.2" font-size="12" font-weight="bold" fill="#000" stroke="#000" stroke-width="0.7" stroke-linejoin="round">b</text>
<line x1="236.6" y1="9.6" x2="311.9" y2="9.6" stroke="#b4b4b4" stroke-width="0.9"/>
<line x1="311.9" y1="9.6" x2="311.9" y2="147.4" stroke="#a0a0a0" stroke-width="0.9"/>
<line x1="236.6" y1="147.4" x2="311.9" y2="147.4" stroke="#a8a8a8" stroke-width="0.9"/>
<line x1="236.6" y1="9.6" x2="236.6" y2="147.4" stroke="#9a9a9a" stroke-width="0.9"/>
<line x1="235.2" y1="146.91" x2="236.6" y2="146.91" stroke="#8a8a8a" stroke-width="0.6"/>
<line x1="235.2" y1="141.83" x2="236.6" y2="141.83" stroke="#8a8a8a" stroke-width="0.6"/>
<line x1="235.2" y1="137.89" x2="236.6" y2="137.89" stroke="#8a8a8a" stroke-width="0.6"/>
<line x1="235.2" y1="134.67" x2="236.6" y2="134.67" stroke="#8a8a8a" stroke-width="0.6"/>
<line x1="235.2" y1="131.95" x2="236.6" y2="131.95" stroke="#8a8a8a" stroke-width="0.6"/>
<line x1="235.2" y1="129.59" x2="236.6" y2="129.59" stroke="#8a8a8a" stroke-width="0.6"/>
<line x1="235.2" y1="127.51" x2="236.6" y2="127.51" stroke="#8a8a8a" stroke-width="0.6"/>
<line x1="234.4" y1="125.65" x2="236.6" y2="125.65" stroke="#8a8a8a" stroke-width="0.6"/>
<line x1="235.2" y1="113.41" x2="236.6" y2="113.41" stroke="#8a8a8a" stroke-width="0.6"/>
<line x1="235.2" y1="106.26" x2="236.6" y2="106.26" stroke="#8a8a8a" stroke-width="0.6"/>
<line x1="235.2" y1="101.18" x2="236.6" y2="101.18" stroke="#8a8a8a" stroke-width="0.6"/>
<line x1="235.2" y1="97.24" x2="236.6" y2="97.24" stroke="#8a8a8a" stroke-width="0.6"/>
<line x1="235.2" y1="94.02" x2="236.6" y2="94.02" stroke="#8a8a8a" stroke-width="0.6"/>
<line x1="235.2" y1="91.3" x2="236.6" y2="91.3" stroke="#8a8a8a" stroke-width="0.6"/>
<line x1="235.2" y1="88.94" x2="236.6" y2="88.94" stroke="#8a8a8a" stroke-width="0.6"/>
<line x1="235.2" y1="86.86" x2="236.6" y2="86.86" stroke="#8a8a8a" stroke-width="0.6"/>
<line x1="234.4" y1="85" x2="236.6" y2="85" stroke="#8a8a8a" stroke-width="0.6"/>
<line x1="235.2" y1="72.76" x2="236.6" y2="72.76" stroke="#8a8a8a" stroke-width="0.6"/>
<line x1="235.2" y1="65.61" x2="236.6" y2="65.61" stroke="#8a8a8a" stroke-width="0.6"/>
<line x1="235.2" y1="60.53" x2="236.6" y2="60.53" stroke="#8a8a8a" stroke-width="0.6"/>
<line x1="235.2" y1="56.59" x2="236.6" y2="56.59" stroke="#8a8a8a" stroke-width="0.6"/>
<line x1="235.2" y1="53.37" x2="236.6" y2="53.37" stroke="#8a8a8a" stroke-width="0.6"/>
<line x1="235.2" y1="50.65" x2="236.6" y2="50.65" stroke="#8a8a8a" stroke-width="0.6"/>
<line x1="235.2" y1="48.29" x2="236.6" y2="48.29" stroke="#8a8a8a" stroke-width="0.6"/>
<line x1="235.2" y1="46.21" x2="236.6" y2="46.21" stroke="#8a8a8a" stroke-width="0.6"/>
<line x1="234.4" y1="44.35" x2="236.6" y2="44.35" stroke="#8a8a8a" stroke-width="0.6"/>
<line x1="235.2" y1="32.11" x2="236.6" y2="32.11" stroke="#8a8a8a" stroke-width="0.6"/>
<line x1="235.2" y1="24.96" x2="236.6" y2="24.96" stroke="#8a8a8a" stroke-width="0.6"/>
<line x1="235.2" y1="19.88" x2="236.6" y2="19.88" stroke="#8a8a8a" stroke-width="0.6"/>
<line x1="235.2" y1="15.94" x2="236.6" y2="15.94" stroke="#8a8a8a" stroke-width="0.6"/>
<line x1="235.2" y1="12.72" x2="236.6" y2="12.72" stroke="#8a8a8a" stroke-width="0.6"/>
<line x1="235.2" y1="10" x2="236.6" y2="10" stroke="#8a8a8a" stroke-width="0.6"/>
<text x="230.8" y="127.95" font-size="8" text-anchor="end">10<tspan font-size="4.7" dy="-3.4">3</tspan></text>
<text x="230.8" y="87.3" font-size="8" text-anchor="end">10<tspan font-size="4.7" dy="-3.4">4</tspan></text>
<text x="230.8" y="46.65" font-size="8" text-anchor="end">10<tspan font-size="4.7" dy="-3.4">5</tspan></text>
<line x1="239.4" y1="147.4" x2="239.4" y2="149.8" stroke="#8a8a8a" stroke-width="0.6"/>
<text x="239.4" y="160.3" font-size="7.5" text-anchor="middle">2.0</text>
<line x1="273.35" y1="147.4" x2="273.35" y2="149.8" stroke="#8a8a8a" stroke-width="0.6"/>
<text x="273.35" y="160.3" font-size="7.5" text-anchor="middle">2.2</text>
<line x1="307.3" y1="147.4" x2="307.3" y2="149.8" stroke="#8a8a8a" stroke-width="0.6"/>
<text x="307.3" y="160.3" font-size="7.5" text-anchor="middle">2.4</text>
<text x="270.4" y="170.7" font-size="9"><tspan font-style="italic">f</tspan><tspan font-size="6.6" dx="0.3" dy="2.8">0</tspan></text>
<text transform="translate(211.5,82.8) rotate(-90)" font-size="8.6"><tspan font-style="italic">t</tspan><tspan font-size="5.8" dx="0.2" dy="3.2">ss</tspan></text>
<polyline points="239.1,16 239.5,19.38 239.9,22.4 240.3,25.25 240.7,27.96 241.1,30.53 241.5,33 241.9,35.37 242.3,37.67 242.7,39.88 243.1,42.02 243.5,44.09 243.9,46.1 244.3,48.05 244.7,49.94 245.1,51.75 245.5,53.5 245.9,55.21 246.3,56.87 246.7,58.5 247.1,60.12 247.5,61.74 247.9,63.38 248.3,65.03 248.7,66.7 249.1,68.38 249.5,70.05 249.9,71.72 250.3,73.37 250.7,75 251.1,76.59 251.5,78.14 251.9,79.63 252.3,81.09 252.7,82.56 253.1,84.02 253.5,85.46 253.9,86.88 254.3,88.27 254.7,89.61 255.1,90.9 255.5,92.13 255.9,93.28 256.3,94.36 256.7,95.34 257.1,96.27 257.5,97.17 257.9,98.04 258.3,98.88 258.7,99.69 259.1,100.48 259.5,101.24 259.9,101.98 260.3,102.7 260.7,103.39 261.1,104.07 261.5,104.73 261.9,105.37 262.3,105.99 262.7,106.6 263.1,107.2 263.5,107.78 263.9,108.36 264.3,108.92 264.7,109.48 265.1,110.02 265.5,110.55 265.9,111.07 266.3,111.58 266.7,112.08 267.1,112.58 267.5,113.06 267.9,113.53 268.3,114 268.7,114.46 269.1,114.91 269.5,115.35 269.9,115.78 270.3,116.21 270.7,116.63 271.1,117.04 271.5,117.45 271.9,117.85 272.3,118.24 272.7,118.63 273.1,119.02 273.5,119.39 273.9,119.77 274.3,120.14 274.7,120.5 275.1,120.86 275.5,121.21 275.9,121.56 276.3,121.91 276.7,122.25 277.1,122.59 277.5,122.92 277.9,123.25 278.3,123.57 278.7,123.89 279.1,124.21 279.5,124.52 279.9,124.83 280.3,125.13 280.7,125.44 281.1,125.74 281.5,126.03 281.9,126.32 282.3,126.61 282.7,126.9 283.1,127.19 283.5,127.47 283.9,127.75 284.3,128.02 284.7,128.3 285.1,128.57 285.5,128.84 285.9,129.1 286.3,129.36 286.7,129.62 287.1,129.87 287.5,130.12 287.9,130.37 288.3,130.61 288.7,130.85 289.1,131.09 289.5,131.33 289.9,131.57 290.3,131.8 290.7,132.03 291.1,132.26 291.5,132.49 291.9,132.72 292.3,132.94 292.7,133.17 293.1,133.39 293.5,133.62 293.9,133.84 294.3,134.07 294.7,134.29 295.1,134.52 295.5,134.74 295.9,134.97 296.3,135.2 296.7,135.43 297.1,135.66 297.5,135.89 297.9,136.12 298.3,136.36 298.7,136.59 299.1,136.83 299.5,137.06 299.9,137.3 300.3,137.53 300.7,137.77 301.1,138 301.5,138.24 301.9,138.47 302.3,138.7 302.7,138.93 303.1,139.16 303.5,139.39 303.9,139.61 304.3,139.84 304.7,140.06 305.1,140.27 305.5,140.49 305.9,140.7 306.3,140.9 306.7,141.11 307.1,141.31 307.5,141.5 307.9,141.69 308.3,141.87 308.7,142.05 309.1,142.22 309.5,142.39 309.9,142.56" fill="none" stroke="#0a14ff" stroke-width="1.4" stroke-linejoin="round" stroke-linecap="round" stroke-dasharray="1.2 2.1" stroke-linecap="butt"/>
<line x1="236.7" y1="18.3" x2="242.1" y2="18.3" stroke="#666" stroke-width="0.7"/>
<path d="M239.4,16.24L241.66,20.14L237.15,20.14Z" fill="#ff0000"/>
<line x1="245.4" y1="63.9" x2="250.8" y2="63.9" stroke="#666" stroke-width="0.7"/>
<path d="M248.1,61.84L250.35,65.74L245.84,65.74Z" fill="#ff0000"/>
<line x1="253.9" y1="94.8" x2="259.3" y2="94.8" stroke="#666" stroke-width="0.7"/>
<path d="M256.6,92.74L258.86,96.64L254.35,96.64Z" fill="#ff0000"/>
<line x1="270.7" y1="119" x2="276.1" y2="119" stroke="#666" stroke-width="0.7"/>
<path d="M273.4,116.94L275.65,120.84L271.14,120.84Z" fill="#ff0000"/>
<line x1="304.8" y1="141.2" x2="310.2" y2="141.2" stroke="#666" stroke-width="0.7"/>
<path d="M307.5,139.14L309.75,143.04L305.25,143.04Z" fill="#ff0000"/>
<text x="244.3" y="22.7" font-size="7.6" textLength="64" lengthAdjust="spacingAndGlyphs">Yield point <tspan font-style="italic">f</tspan><tspan font-size="4.4" dy="-2.4" font-style="italic">Y</tspan><tspan font-size="4.4" dx="-2.6" dy="4.2">0</tspan><tspan dy="-1.8"> = 1.95</tspan></text>
<text x="205.5" y="195.6" font-size="12" font-weight="bold" fill="#000" stroke="#000" stroke-width="0.7" stroke-linejoin="round">f</text>
<line x1="235.7" y1="196.5" x2="311.4" y2="196.5" stroke="#b4b4b4" stroke-width="0.9"/>
<line x1="311.4" y1="196.5" x2="311.4" y2="335.4" stroke="#a0a0a0" stroke-width="0.9"/>
<line x1="235.7" y1="335.4" x2="311.4" y2="335.4" stroke="#a8a8a8" stroke-width="0.9"/>
<line x1="235.7" y1="196.5" x2="235.7" y2="335.4" stroke="#9a9a9a" stroke-width="0.9"/>
<line x1="234.3" y1="321.28" x2="235.7" y2="321.28" stroke="#8a8a8a" stroke-width="0.6"/>
<line x1="234.3" y1="312.14" x2="235.7" y2="312.14" stroke="#8a8a8a" stroke-width="0.6"/>
<line x1="234.3" y1="305.65" x2="235.7" y2="305.65" stroke="#8a8a8a" stroke-width="0.6"/>
<line x1="234.3" y1="300.62" x2="235.7" y2="300.62" stroke="#8a8a8a" stroke-width="0.6"/>
<line x1="234.3" y1="296.51" x2="235.7" y2="296.51" stroke="#8a8a8a" stroke-width="0.6"/>
<line x1="234.3" y1="293.04" x2="235.7" y2="293.04" stroke="#8a8a8a" stroke-width="0.6"/>
<line x1="234.3" y1="290.03" x2="235.7" y2="290.03" stroke="#8a8a8a" stroke-width="0.6"/>
<line x1="234.3" y1="287.37" x2="235.7" y2="287.37" stroke="#8a8a8a" stroke-width="0.6"/>
<line x1="233.5" y1="285" x2="235.7" y2="285" stroke="#8a8a8a" stroke-width="0.6"/>
<line x1="234.3" y1="269.38" x2="235.7" y2="269.38" stroke="#8a8a8a" stroke-width="0.6"/>
<line x1="234.3" y1="260.24" x2="235.7" y2="260.24" stroke="#8a8a8a" stroke-width="0.6"/>
<line x1="234.3" y1="253.75" x2="235.7" y2="253.75" stroke="#8a8a8a" stroke-width="0.6"/>
<line x1="234.3" y1="248.72" x2="235.7" y2="248.72" stroke="#8a8a8a" stroke-width="0.6"/>
<line x1="234.3" y1="244.61" x2="235.7" y2="244.61" stroke="#8a8a8a" stroke-width="0.6"/>
<line x1="234.3" y1="241.14" x2="235.7" y2="241.14" stroke="#8a8a8a" stroke-width="0.6"/>
<line x1="234.3" y1="238.13" x2="235.7" y2="238.13" stroke="#8a8a8a" stroke-width="0.6"/>
<line x1="234.3" y1="235.47" x2="235.7" y2="235.47" stroke="#8a8a8a" stroke-width="0.6"/>
<line x1="233.5" y1="233.1" x2="235.7" y2="233.1" stroke="#8a8a8a" stroke-width="0.6"/>
<line x1="234.3" y1="217.48" x2="235.7" y2="217.48" stroke="#8a8a8a" stroke-width="0.6"/>
<line x1="234.3" y1="208.34" x2="235.7" y2="208.34" stroke="#8a8a8a" stroke-width="0.6"/>
<line x1="234.3" y1="201.85" x2="235.7" y2="201.85" stroke="#8a8a8a" stroke-width="0.6"/>
<line x1="234.3" y1="196.82" x2="235.7" y2="196.82" stroke="#8a8a8a" stroke-width="0.6"/>
<text x="229.9" y="287.3" font-size="8" text-anchor="end">10<tspan font-size="4.7" dy="-3.4">4</tspan></text>
<text x="229.9" y="235.4" font-size="8" text-anchor="end">10<tspan font-size="4.7" dy="-3.4">5</tspan></text>
<line x1="240.1" y1="335.4" x2="240.1" y2="337.8" stroke="#8a8a8a" stroke-width="0.6"/>
<text x="240.1" y="348.3" font-size="7.5" text-anchor="middle">2.0</text>
<line x1="262.7" y1="335.4" x2="262.7" y2="337.8" stroke="#8a8a8a" stroke-width="0.6"/>
<text x="262.7" y="348.3" font-size="7.5" text-anchor="middle">2.2</text>
<line x1="285.3" y1="335.4" x2="285.3" y2="337.8" stroke="#8a8a8a" stroke-width="0.6"/>
<text x="285.3" y="348.3" font-size="7.5" text-anchor="middle">2.4</text>
<line x1="307.9" y1="335.4" x2="307.9" y2="337.8" stroke="#8a8a8a" stroke-width="0.6"/>
<text x="307.9" y="348.3" font-size="7.5" text-anchor="middle">2.6</text>
<text x="270.4" y="358.7" font-size="9"><tspan font-style="italic">f</tspan><tspan font-size="6.6" dx="0.3" dy="2.8">0</tspan></text>
<text transform="translate(211.5,272.1) rotate(-90)" font-size="8.6"><tspan font-style="italic">t</tspan><tspan font-size="5.8" dx="0.2" dy="3.2">ss</tspan></text>
<polyline points="239,201.5 239.4,204.97 239.8,207.9 240.2,210.63 240.6,213.13 241,215.43 241.4,217.51 241.8,219.41 242.2,221.18 242.6,222.86 243,224.43 243.4,225.93 243.8,227.37 244.2,228.74 244.6,230.08 245,231.39 245.4,232.68 245.8,233.95 246.2,235.17 246.6,236.34 247,237.48 247.4,238.58 247.8,239.66 248.2,240.73 248.6,241.79 249,242.84 249.4,243.9 249.8,244.98 250.2,246.08 250.6,247.2 251,248.36 251.4,249.54 251.8,250.73 252.2,251.95 252.6,253.17 253,254.39 253.4,255.6 253.8,256.81 254.2,258 254.6,259.17 255,260.31 255.4,261.42 255.8,262.48 256.2,263.51 256.6,264.51 257,265.5 257.4,266.47 257.8,267.43 258.2,268.37 258.6,269.29 259,270.2 259.4,271.09 259.8,271.97 260.2,272.84 260.6,273.7 261,274.54 261.4,275.37 261.8,276.19 262.2,277 262.6,277.8 263,278.6 263.4,279.4 263.8,280.19 264.2,280.97 264.6,281.75 265,282.52 265.4,283.28 265.8,284.04 266.2,284.79 266.6,285.53 267,286.27 267.4,286.99 267.8,287.7 268.2,288.41 268.6,289.1 269,289.78 269.4,290.46 269.8,291.11 270.2,291.76 270.6,292.39 271,293.01 271.4,293.62 271.8,294.21 272.2,294.79 272.6,295.36 273,295.92 273.4,296.47 273.8,297.02 274.2,297.56 274.6,298.09 275,298.62 275.4,299.14 275.8,299.65 276.2,300.16 276.6,300.66 277,301.15 277.4,301.64 277.8,302.12 278.2,302.6 278.6,303.07 279,303.54 279.4,304 279.8,304.46 280.2,304.91 280.6,305.35 281,305.8 281.4,306.23 281.8,306.67 282.2,307.1 282.6,307.52 283,307.94 283.4,308.36 283.8,308.78 284.2,309.19 284.6,309.59 285,310 285.4,310.4 285.8,310.8 286.2,311.19 286.6,311.58 287,311.96 287.4,312.33 287.8,312.71 288.2,313.07 288.6,313.44 289,313.8 289.4,314.16 289.8,314.51 290.2,314.86 290.6,315.21 291,315.55 291.4,315.89 291.8,316.23 292.2,316.57 292.6,316.9 293,317.23 293.4,317.56 293.8,317.89 294.2,318.22 294.6,318.55 295,318.88 295.4,319.2 295.8,319.53 296.2,319.85 296.6,320.18 297,320.5 297.4,320.82 297.8,321.15 298.2,321.47 298.6,321.79 299,322.11 299.4,322.43 299.8,322.75 300.2,323.06 300.6,323.38 301,323.69 301.4,324 301.8,324.31 302.2,324.62 302.6,324.93 303,325.23 303.4,325.54 303.8,325.84 304.2,326.14 304.6,326.43 305,326.73 305.4,327.02 305.8,327.31 306.2,327.6 306.6,327.89 307,328.17 307.4,328.45 307.8,328.73 308.2,329.01 308.6,329.28 309,329.54 309.4,329.8 309.8,330.06 310.2,330.31" fill="none" stroke="#0a14ff" stroke-width="1.4" stroke-linejoin="round" stroke-linecap="round" stroke-dasharray="1.2 2.1" stroke-linecap="butt"/>
<line x1="236.6" y1="203.9" x2="242" y2="203.9" stroke="#666" stroke-width="0.7"/>
<path d="M239.3,201.84L241.56,205.74L237.05,205.74Z" fill="#ff0000"/>
<line x1="247.9" y1="246.9" x2="253.3" y2="246.9" stroke="#666" stroke-width="0.7"/>
<path d="M250.6,244.84L252.85,248.74L248.34,248.74Z" fill="#ff0000"/>
<line x1="259.5" y1="276.7" x2="264.9" y2="276.7" stroke="#666" stroke-width="0.7"/>
<path d="M262.2,274.64L264.45,278.54L259.94,278.54Z" fill="#ff0000"/>
<line x1="282.6" y1="310" x2="288" y2="310" stroke="#666" stroke-width="0.7"/>
<path d="M285.3,307.94L287.56,311.84L283.05,311.84Z" fill="#ff0000"/>
<line x1="305.2" y1="328.5" x2="310.6" y2="328.5" stroke="#666" stroke-width="0.7"/>
<path d="M307.9,326.44L310.15,330.34L305.64,330.34Z" fill="#ff0000"/>
<text x="244.3" y="209.7" font-size="7.6" textLength="64" lengthAdjust="spacingAndGlyphs">Yield point <tspan font-style="italic">f</tspan><tspan font-size="4.4" dy="-2.4" font-style="italic">Y</tspan><tspan font-size="4.4" dx="-2.6" dy="4.2">0</tspan><tspan dy="-1.8"> = 1.95</tspan></text>
<text x="324.5" y="9.3" font-size="12" font-weight="bold" fill="#000" stroke="#000" stroke-width="0.7" stroke-linejoin="round">c</text>
<line x1="354.3" y1="10.5" x2="493.4" y2="10.5" stroke="#4a4a4a" stroke-width="0.9"/>
<line x1="493.4" y1="10.5" x2="493.4" y2="148.2" stroke="#4a4a4a" stroke-width="0.9"/>
<line x1="354.3" y1="148.2" x2="493.4" y2="148.2" stroke="#3a3a3a" stroke-width="0.9"/>
<line x1="354.3" y1="10.5" x2="354.3" y2="148.2" stroke="#3a3a3a" stroke-width="0.9"/>
<line x1="354.3" y1="145.93" x2="355.6" y2="145.93" stroke="#444" stroke-width="0.6"/>
<line x1="354.3" y1="141.63" x2="355.6" y2="141.63" stroke="#444" stroke-width="0.6"/>
<line x1="354.3" y1="138.29" x2="355.6" y2="138.29" stroke="#444" stroke-width="0.6"/>
<line x1="354.3" y1="135.56" x2="355.6" y2="135.56" stroke="#444" stroke-width="0.6"/>
<line x1="354.3" y1="133.25" x2="355.6" y2="133.25" stroke="#444" stroke-width="0.6"/>
<line x1="354.3" y1="131.25" x2="355.6" y2="131.25" stroke="#444" stroke-width="0.6"/>
<line x1="354.3" y1="129.49" x2="355.6" y2="129.49" stroke="#444" stroke-width="0.6"/>
<line x1="354.3" y1="127.91" x2="356.7" y2="127.91" stroke="#444" stroke-width="0.6"/>
<line x1="354.3" y1="117.53" x2="355.6" y2="117.53" stroke="#444" stroke-width="0.6"/>
<line x1="354.3" y1="111.46" x2="355.6" y2="111.46" stroke="#444" stroke-width="0.6"/>
<line x1="354.3" y1="107.16" x2="355.6" y2="107.16" stroke="#444" stroke-width="0.6"/>
<line x1="354.3" y1="103.82" x2="355.6" y2="103.82" stroke="#444" stroke-width="0.6"/>
<line x1="354.3" y1="101.09" x2="355.6" y2="101.09" stroke="#444" stroke-width="0.6"/>
<line x1="354.3" y1="98.78" x2="355.6" y2="98.78" stroke="#444" stroke-width="0.6"/>
<line x1="354.3" y1="96.78" x2="355.6" y2="96.78" stroke="#444" stroke-width="0.6"/>
<line x1="354.3" y1="95.02" x2="355.6" y2="95.02" stroke="#444" stroke-width="0.6"/>
<line x1="354.3" y1="93.44" x2="356.7" y2="93.44" stroke="#444" stroke-width="0.6"/>
<line x1="354.3" y1="83.06" x2="355.6" y2="83.06" stroke="#444" stroke-width="0.6"/>
<line x1="354.3" y1="76.99" x2="355.6" y2="76.99" stroke="#444" stroke-width="0.6"/>
<line x1="354.3" y1="72.69" x2="355.6" y2="72.69" stroke="#444" stroke-width="0.6"/>
<line x1="354.3" y1="69.35" x2="355.6" y2="69.35" stroke="#444" stroke-width="0.6"/>
<line x1="354.3" y1="66.62" x2="355.6" y2="66.62" stroke="#444" stroke-width="0.6"/>
<line x1="354.3" y1="64.31" x2="355.6" y2="64.31" stroke="#444" stroke-width="0.6"/>
<line x1="354.3" y1="62.31" x2="355.6" y2="62.31" stroke="#444" stroke-width="0.6"/>
<line x1="354.3" y1="60.55" x2="355.6" y2="60.55" stroke="#444" stroke-width="0.6"/>
<line x1="354.3" y1="58.97" x2="356.7" y2="58.97" stroke="#444" stroke-width="0.6"/>
<line x1="354.3" y1="48.59" x2="355.6" y2="48.59" stroke="#444" stroke-width="0.6"/>
<line x1="354.3" y1="42.52" x2="355.6" y2="42.52" stroke="#444" stroke-width="0.6"/>
<line x1="354.3" y1="38.22" x2="355.6" y2="38.22" stroke="#444" stroke-width="0.6"/>
<line x1="354.3" y1="34.88" x2="355.6" y2="34.88" stroke="#444" stroke-width="0.6"/>
<line x1="354.3" y1="32.15" x2="355.6" y2="32.15" stroke="#444" stroke-width="0.6"/>
<line x1="354.3" y1="29.84" x2="355.6" y2="29.84" stroke="#444" stroke-width="0.6"/>
<line x1="354.3" y1="27.84" x2="355.6" y2="27.84" stroke="#444" stroke-width="0.6"/>
<line x1="354.3" y1="26.08" x2="355.6" y2="26.08" stroke="#444" stroke-width="0.6"/>
<line x1="354.3" y1="24.5" x2="356.7" y2="24.5" stroke="#444" stroke-width="0.6"/>
<line x1="354.3" y1="14.12" x2="355.6" y2="14.12" stroke="#444" stroke-width="0.6"/>
<text x="351.3" y="26.9" font-size="6.9" text-anchor="end">10<tspan font-size="4.28" dy="-2.9">−1</tspan></text>
<text x="351.3" y="61.37" font-size="6.9" text-anchor="end">10<tspan font-size="4.28" dy="-2.9">−2</tspan></text>
<text x="351.3" y="95.84" font-size="6.9" text-anchor="end">10<tspan font-size="4.28" dy="-2.9">−3</tspan></text>
<text x="351.3" y="130.31" font-size="6.9" text-anchor="end">10<tspan font-size="4.28" dy="-2.9">−4</tspan></text>
<line x1="361.3" y1="148.2" x2="361.3" y2="146.2" stroke="#444" stroke-width="0.6"/>
<text x="361.3" y="158.4" font-size="7.0" text-anchor="middle">0</text>
<line x1="374.5" y1="148.2" x2="374.5" y2="146.2" stroke="#444" stroke-width="0.6"/>
<text x="374.5" y="158.4" font-size="7.0" text-anchor="middle">0.2</text>
<line x1="387.7" y1="148.2" x2="387.7" y2="146.2" stroke="#444" stroke-width="0.6"/>
<text x="387.7" y="158.4" font-size="7.0" text-anchor="middle">0.4</text>
<line x1="400.9" y1="148.2" x2="400.9" y2="146.2" stroke="#444" stroke-width="0.6"/>
<text x="400.9" y="158.4" font-size="7.0" text-anchor="middle">0.6</text>
<line x1="414.1" y1="148.2" x2="414.1" y2="146.2" stroke="#444" stroke-width="0.6"/>
<text x="414.1" y="158.4" font-size="7.0" text-anchor="middle">0.8</text>
<line x1="427.3" y1="148.2" x2="427.3" y2="146.2" stroke="#444" stroke-width="0.6"/>
<text x="427.3" y="158.4" font-size="7.0" text-anchor="middle">1.0</text>
<line x1="440.5" y1="148.2" x2="440.5" y2="146.2" stroke="#444" stroke-width="0.6"/>
<text x="440.5" y="158.4" font-size="7.0" text-anchor="middle">1.2</text>
<line x1="453.7" y1="148.2" x2="453.7" y2="146.2" stroke="#444" stroke-width="0.6"/>
<text x="453.7" y="158.4" font-size="7.0" text-anchor="middle">1.4</text>
<line x1="466.9" y1="148.2" x2="466.9" y2="146.2" stroke="#444" stroke-width="0.6"/>
<text x="466.9" y="158.4" font-size="7.0" text-anchor="middle">1.6</text>
<line x1="480.1" y1="148.2" x2="480.1" y2="146.2" stroke="#444" stroke-width="0.6"/>
<text x="480.1" y="158.4" font-size="7.0" text-anchor="middle">1.8</text>
<line x1="493.3" y1="148.2" x2="493.3" y2="146.2" stroke="#444" stroke-width="0.6"/>
<text x="493.3" y="158.4" font-size="7.0" text-anchor="middle">2.0</text>
<text x="423.5" y="7.6" font-size="8.6"><tspan font-style="italic">N</tspan> = 10,000; <tspan font-style="italic">n</tspan> = 16</text>
<text x="414.8" y="171.2" font-size="8.5"><tspan font-style="italic">f</tspan><tspan font-size="6.4" dx="0.5" dy="3.2">0</tspan><tspan font-size="6.3" dx="-0.6" dy="-6.9">read</tspan></text>
<text transform="translate(330.4,96.6) rotate(-90)" font-size="8.4" textLength="34.8" lengthAdjust="spacingAndGlyphs">|&lt;ΔU&gt;/N|</text>
<text x="374.4" y="27.1" font-size="9"><tspan font-style="italic">f</tspan><tspan font-size="6.4" dx="0.3" dy="2.6">0</tspan><tspan font-size="5.8" dx="0.2" dy="-7.6">train</tspan><tspan dy="5.0"> = 1.2</tspan></text>
<clipPath id="clipC"><rect x="354.3" y="10.5" width="139.09999999999997" height="137.7"/></clipPath>
<g clip-path="url(#clipC)">
<line x1="361.3" y1="62" x2="361.3" y2="83.6" stroke="#9400d3" stroke-width="0.6"/>
<line x1="360" y1="62" x2="362.6" y2="62" stroke="#9400d3" stroke-width="0.6"/>
<line x1="360" y1="83.6" x2="362.6" y2="83.6" stroke="#9400d3" stroke-width="0.6"/>
<line x1="374.5" y1="61" x2="374.5" y2="88" stroke="#9400d3" stroke-width="0.6"/>
<line x1="373.2" y1="61" x2="375.8" y2="61" stroke="#9400d3" stroke-width="0.6"/>
<line x1="373.2" y1="88" x2="375.8" y2="88" stroke="#9400d3" stroke-width="0.6"/>
<line x1="387.7" y1="58.4" x2="387.7" y2="69.1" stroke="#9400d3" stroke-width="0.6"/>
<line x1="386.4" y1="58.4" x2="389" y2="58.4" stroke="#9400d3" stroke-width="0.6"/>
<line x1="386.4" y1="69.1" x2="389" y2="69.1" stroke="#9400d3" stroke-width="0.6"/>
<line x1="400.9" y1="56.5" x2="400.9" y2="69.1" stroke="#9400d3" stroke-width="0.6"/>
<line x1="399.6" y1="56.5" x2="402.2" y2="56.5" stroke="#9400d3" stroke-width="0.6"/>
<line x1="399.6" y1="69.1" x2="402.2" y2="69.1" stroke="#9400d3" stroke-width="0.6"/>
<line x1="414.1" y1="53.6" x2="414.1" y2="63.3" stroke="#9400d3" stroke-width="0.6"/>
<line x1="412.8" y1="53.6" x2="415.4" y2="53.6" stroke="#9400d3" stroke-width="0.6"/>
<line x1="412.8" y1="63.3" x2="415.4" y2="63.3" stroke="#9400d3" stroke-width="0.6"/>
<line x1="427.3" y1="51.6" x2="427.3" y2="59.6" stroke="#9400d3" stroke-width="0.6"/>
<line x1="426" y1="51.6" x2="428.6" y2="51.6" stroke="#9400d3" stroke-width="0.6"/>
<line x1="426" y1="59.6" x2="428.6" y2="59.6" stroke="#9400d3" stroke-width="0.6"/>
<line x1="440.5" y1="49.5" x2="440.5" y2="57.5" stroke="#9400d3" stroke-width="0.6"/>
<line x1="439.2" y1="49.5" x2="441.8" y2="49.5" stroke="#9400d3" stroke-width="0.6"/>
<line x1="439.2" y1="57.5" x2="441.8" y2="57.5" stroke="#9400d3" stroke-width="0.6"/>
<line x1="453.7" y1="48.5" x2="453.7" y2="55" stroke="#9400d3" stroke-width="0.6"/>
<line x1="452.4" y1="48.5" x2="455" y2="48.5" stroke="#9400d3" stroke-width="0.6"/>
<line x1="452.4" y1="55" x2="455" y2="55" stroke="#9400d3" stroke-width="0.6"/>
<line x1="466.9" y1="48.5" x2="466.9" y2="55" stroke="#9400d3" stroke-width="0.6"/>
<line x1="465.6" y1="48.5" x2="468.2" y2="48.5" stroke="#9400d3" stroke-width="0.6"/>
<line x1="465.6" y1="55" x2="468.2" y2="55" stroke="#9400d3" stroke-width="0.6"/>
<line x1="480.1" y1="48.5" x2="480.1" y2="55.5" stroke="#9400d3" stroke-width="0.6"/>
<line x1="478.8" y1="48.5" x2="481.4" y2="48.5" stroke="#9400d3" stroke-width="0.6"/>
<line x1="478.8" y1="55.5" x2="481.4" y2="55.5" stroke="#9400d3" stroke-width="0.6"/>
<line x1="486.7" y1="48" x2="486.7" y2="55" stroke="#9400d3" stroke-width="0.6"/>
<line x1="485.4" y1="48" x2="488" y2="48" stroke="#9400d3" stroke-width="0.6"/>
<line x1="485.4" y1="55" x2="488" y2="55" stroke="#9400d3" stroke-width="0.6"/>
<polyline points="361.3,70.6 374.5,69.1 387.7,62.7 400.9,61.7 414.1,58.8 427.3,55.3 440.5,53.3 453.7,51.6 466.9,51.6 480.1,52 486.7,51.3" fill="none" stroke="#9400d3" stroke-width="0.8" stroke-linejoin="round" stroke-linecap="round"/>
<line x1="361.3" y1="61.3" x2="361.3" y2="96.3" stroke="#228b22" stroke-width="0.6"/>
<line x1="360" y1="61.3" x2="362.6" y2="61.3" stroke="#228b22" stroke-width="0.6"/>
<line x1="360" y1="96.3" x2="362.6" y2="96.3" stroke="#228b22" stroke-width="0.6"/>
<line x1="374.5" y1="62.9" x2="374.5" y2="92.5" stroke="#228b22" stroke-width="0.6"/>
<line x1="373.2" y1="62.9" x2="375.8" y2="62.9" stroke="#228b22" stroke-width="0.6"/>
<line x1="373.2" y1="92.5" x2="375.8" y2="92.5" stroke="#228b22" stroke-width="0.6"/>
<line x1="387.7" y1="65.2" x2="387.7" y2="75.9" stroke="#228b22" stroke-width="0.6"/>
<line x1="386.4" y1="65.2" x2="389" y2="65.2" stroke="#228b22" stroke-width="0.6"/>
<line x1="386.4" y1="75.9" x2="389" y2="75.9" stroke="#228b22" stroke-width="0.6"/>
<line x1="400.9" y1="56.5" x2="400.9" y2="72" stroke="#228b22" stroke-width="0.6"/>
<line x1="399.6" y1="56.5" x2="402.2" y2="56.5" stroke="#228b22" stroke-width="0.6"/>
<line x1="399.6" y1="72" x2="402.2" y2="72" stroke="#228b22" stroke-width="0.6"/>
<line x1="414.1" y1="52.6" x2="414.1" y2="66.2" stroke="#228b22" stroke-width="0.6"/>
<line x1="412.8" y1="52.6" x2="415.4" y2="52.6" stroke="#228b22" stroke-width="0.6"/>
<line x1="412.8" y1="66.2" x2="415.4" y2="66.2" stroke="#228b22" stroke-width="0.6"/>
<line x1="427.3" y1="51" x2="427.3" y2="60" stroke="#228b22" stroke-width="0.6"/>
<line x1="426" y1="51" x2="428.6" y2="51" stroke="#228b22" stroke-width="0.6"/>
<line x1="426" y1="60" x2="428.6" y2="60" stroke="#228b22" stroke-width="0.6"/>
<line x1="440.5" y1="49" x2="440.5" y2="58" stroke="#228b22" stroke-width="0.6"/>
<line x1="439.2" y1="49" x2="441.8" y2="49" stroke="#228b22" stroke-width="0.6"/>
<line x1="439.2" y1="58" x2="441.8" y2="58" stroke="#228b22" stroke-width="0.6"/>
<line x1="453.7" y1="48" x2="453.7" y2="56" stroke="#228b22" stroke-width="0.6"/>
<line x1="452.4" y1="48" x2="455" y2="48" stroke="#228b22" stroke-width="0.6"/>
<line x1="452.4" y1="56" x2="455" y2="56" stroke="#228b22" stroke-width="0.6"/>
<line x1="466.9" y1="48" x2="466.9" y2="56" stroke="#228b22" stroke-width="0.6"/>
<line x1="465.6" y1="48" x2="468.2" y2="48" stroke="#228b22" stroke-width="0.6"/>
<line x1="465.6" y1="56" x2="468.2" y2="56" stroke="#228b22" stroke-width="0.6"/>
<line x1="480.1" y1="48" x2="480.1" y2="56.5" stroke="#228b22" stroke-width="0.6"/>
<line x1="478.8" y1="48" x2="481.4" y2="48" stroke="#228b22" stroke-width="0.6"/>
<line x1="478.8" y1="56.5" x2="481.4" y2="56.5" stroke="#228b22" stroke-width="0.6"/>
<line x1="486.7" y1="47.5" x2="486.7" y2="56" stroke="#228b22" stroke-width="0.6"/>
<line x1="485.4" y1="47.5" x2="488" y2="47.5" stroke="#228b22" stroke-width="0.6"/>
<line x1="485.4" y1="56" x2="488" y2="56" stroke="#228b22" stroke-width="0.6"/>
<polyline points="361.3,70.6 374.5,72 387.7,67 400.9,62 414.1,59.5 427.3,55.5 440.5,53.5 453.7,52 466.9,52 480.1,52 486.7,51.5" fill="none" stroke="#228b22" stroke-width="0.8" stroke-linejoin="round" stroke-linecap="round"/>
<line x1="361.3" y1="91" x2="361.3" y2="113.3" stroke="#87ceeb" stroke-width="0.6"/>
<line x1="360" y1="91" x2="362.6" y2="91" stroke="#87ceeb" stroke-width="0.6"/>
<line x1="360" y1="113.3" x2="362.6" y2="113.3" stroke="#87ceeb" stroke-width="0.6"/>
<line x1="374.5" y1="92.4" x2="374.5" y2="109.6" stroke="#87ceeb" stroke-width="0.6"/>
<line x1="373.2" y1="92.4" x2="375.8" y2="92.4" stroke="#87ceeb" stroke-width="0.6"/>
<line x1="373.2" y1="109.6" x2="375.8" y2="109.6" stroke="#87ceeb" stroke-width="0.6"/>
<line x1="387.7" y1="88.1" x2="387.7" y2="108" stroke="#87ceeb" stroke-width="0.6"/>
<line x1="386.4" y1="88.1" x2="389" y2="88.1" stroke="#87ceeb" stroke-width="0.6"/>
<line x1="386.4" y1="108" x2="389" y2="108" stroke="#87ceeb" stroke-width="0.6"/>
<line x1="400.9" y1="81.3" x2="400.9" y2="92.4" stroke="#87ceeb" stroke-width="0.6"/>
<line x1="399.6" y1="81.3" x2="402.2" y2="81.3" stroke="#87ceeb" stroke-width="0.6"/>
<line x1="399.6" y1="92.4" x2="402.2" y2="92.4" stroke="#87ceeb" stroke-width="0.6"/>
<line x1="414.1" y1="82.3" x2="414.1" y2="92" stroke="#87ceeb" stroke-width="0.6"/>
<line x1="412.8" y1="82.3" x2="415.4" y2="82.3" stroke="#87ceeb" stroke-width="0.6"/>
<line x1="412.8" y1="92" x2="415.4" y2="92" stroke="#87ceeb" stroke-width="0.6"/>
<line x1="427.3" y1="76.3" x2="427.3" y2="84.9" stroke="#87ceeb" stroke-width="0.6"/>
<line x1="426" y1="76.3" x2="428.6" y2="76.3" stroke="#87ceeb" stroke-width="0.6"/>
<line x1="426" y1="84.9" x2="428.6" y2="84.9" stroke="#87ceeb" stroke-width="0.6"/>
<line x1="440.5" y1="71.3" x2="440.5" y2="80.8" stroke="#87ceeb" stroke-width="0.6"/>
<line x1="439.2" y1="71.3" x2="441.8" y2="71.3" stroke="#87ceeb" stroke-width="0.6"/>
<line x1="439.2" y1="80.8" x2="441.8" y2="80.8" stroke="#87ceeb" stroke-width="0.6"/>
<line x1="453.7" y1="70" x2="453.7" y2="77.4" stroke="#87ceeb" stroke-width="0.6"/>
<line x1="452.4" y1="70" x2="455" y2="70" stroke="#87ceeb" stroke-width="0.6"/>
<line x1="452.4" y1="77.4" x2="455" y2="77.4" stroke="#87ceeb" stroke-width="0.6"/>
<line x1="466.9" y1="69.6" x2="466.9" y2="74.1" stroke="#87ceeb" stroke-width="0.6"/>
<line x1="465.6" y1="69.6" x2="468.2" y2="69.6" stroke="#87ceeb" stroke-width="0.6"/>
<line x1="465.6" y1="74.1" x2="468.2" y2="74.1" stroke="#87ceeb" stroke-width="0.6"/>
<line x1="480.1" y1="71.6" x2="480.1" y2="82.4" stroke="#87ceeb" stroke-width="0.6"/>
<line x1="478.8" y1="71.6" x2="481.4" y2="71.6" stroke="#87ceeb" stroke-width="0.6"/>
<line x1="478.8" y1="82.4" x2="481.4" y2="82.4" stroke="#87ceeb" stroke-width="0.6"/>
<line x1="486.7" y1="69.6" x2="486.7" y2="81.6" stroke="#87ceeb" stroke-width="0.6"/>
<line x1="485.4" y1="69.6" x2="488" y2="69.6" stroke="#87ceeb" stroke-width="0.6"/>
<line x1="485.4" y1="81.6" x2="488" y2="81.6" stroke="#87ceeb" stroke-width="0.6"/>
<polyline points="361.3,101.5 374.5,97.8 387.7,95.1 400.9,86 414.1,86.2 427.3,79.6 440.5,75.3 453.7,73.8 466.9,71.6 480.1,75.8 486.7,75.3" fill="none" stroke="#87ceeb" stroke-width="0.8" stroke-linejoin="round" stroke-linecap="round"/>
<line x1="361.3" y1="115.8" x2="361.3" y2="144.1" stroke="#ffa500" stroke-width="0.6"/>
<line x1="360" y1="115.8" x2="362.6" y2="115.8" stroke="#ffa500" stroke-width="0.6"/>
<line x1="360" y1="144.1" x2="362.6" y2="144.1" stroke="#ffa500" stroke-width="0.6"/>
<line x1="374.5" y1="113.3" x2="374.5" y2="143.2" stroke="#ffa500" stroke-width="0.6"/>
<line x1="373.2" y1="113.3" x2="375.8" y2="113.3" stroke="#ffa500" stroke-width="0.6"/>
<line x1="373.2" y1="143.2" x2="375.8" y2="143.2" stroke="#ffa500" stroke-width="0.6"/>
<line x1="387.7" y1="112.1" x2="387.7" y2="140.5" stroke="#ffa500" stroke-width="0.6"/>
<line x1="386.4" y1="112.1" x2="389" y2="112.1" stroke="#ffa500" stroke-width="0.6"/>
<line x1="386.4" y1="140.5" x2="389" y2="140.5" stroke="#ffa500" stroke-width="0.6"/>
<line x1="400.9" y1="113.3" x2="400.9" y2="130" stroke="#ffa500" stroke-width="0.6"/>
<line x1="399.6" y1="113.3" x2="402.2" y2="113.3" stroke="#ffa500" stroke-width="0.6"/>
<line x1="399.6" y1="130" x2="402.2" y2="130" stroke="#ffa500" stroke-width="0.6"/>
<line x1="414.1" y1="112" x2="414.1" y2="135" stroke="#ffa500" stroke-width="0.6"/>
<line x1="412.8" y1="112" x2="415.4" y2="112" stroke="#ffa500" stroke-width="0.6"/>
<line x1="412.8" y1="135" x2="415.4" y2="135" stroke="#ffa500" stroke-width="0.6"/>
<line x1="427.3" y1="117" x2="427.3" y2="131" stroke="#ffa500" stroke-width="0.6"/>
<line x1="426" y1="117" x2="428.6" y2="117" stroke="#ffa500" stroke-width="0.6"/>
<line x1="426" y1="131" x2="428.6" y2="131" stroke="#ffa500" stroke-width="0.6"/>
<line x1="440.5" y1="118" x2="440.5" y2="125" stroke="#ffa500" stroke-width="0.6"/>
<line x1="439.2" y1="118" x2="441.8" y2="118" stroke="#ffa500" stroke-width="0.6"/>
<line x1="439.2" y1="125" x2="441.8" y2="125" stroke="#ffa500" stroke-width="0.6"/>
<line x1="453.7" y1="107" x2="453.7" y2="112" stroke="#ffa500" stroke-width="0.6"/>
<line x1="452.4" y1="107" x2="455" y2="107" stroke="#ffa500" stroke-width="0.6"/>
<line x1="452.4" y1="112" x2="455" y2="112" stroke="#ffa500" stroke-width="0.6"/>
<line x1="466.9" y1="93.5" x2="466.9" y2="108" stroke="#ffa500" stroke-width="0.6"/>
<line x1="465.6" y1="93.5" x2="468.2" y2="93.5" stroke="#ffa500" stroke-width="0.6"/>
<line x1="465.6" y1="108" x2="468.2" y2="108" stroke="#ffa500" stroke-width="0.6"/>
<line x1="480.1" y1="86" x2="480.1" y2="97" stroke="#ffa500" stroke-width="0.6"/>
<line x1="478.8" y1="86" x2="481.4" y2="86" stroke="#ffa500" stroke-width="0.6"/>
<line x1="478.8" y1="97" x2="481.4" y2="97" stroke="#ffa500" stroke-width="0.6"/>
<line x1="486.7" y1="79.5" x2="486.7" y2="89" stroke="#ffa500" stroke-width="0.6"/>
<line x1="485.4" y1="79.5" x2="488" y2="79.5" stroke="#ffa500" stroke-width="0.6"/>
<line x1="485.4" y1="89" x2="488" y2="89" stroke="#ffa500" stroke-width="0.6"/>
<polyline points="361.3,123.8 374.5,121.6 387.7,120 400.9,119.5 414.1,119.6 427.3,124.1 440.5,141.5 453.7,118.8 466.9,100.8 480.1,91.1 486.7,84.2" fill="none" stroke="#ffa500" stroke-width="0.8" stroke-linejoin="round" stroke-linecap="round"/>
<line x1="361.3" y1="119.6" x2="361.3" y2="136.6" stroke="#4169e1" stroke-width="0.6"/>
<line x1="360" y1="119.6" x2="362.6" y2="119.6" stroke="#4169e1" stroke-width="0.6"/>
<line x1="360" y1="136.6" x2="362.6" y2="136.6" stroke="#4169e1" stroke-width="0.6"/>
<line x1="374.5" y1="118" x2="374.5" y2="136.6" stroke="#4169e1" stroke-width="0.6"/>
<line x1="373.2" y1="118" x2="375.8" y2="118" stroke="#4169e1" stroke-width="0.6"/>
<line x1="373.2" y1="136.6" x2="375.8" y2="136.6" stroke="#4169e1" stroke-width="0.6"/>
<line x1="387.7" y1="115.3" x2="387.7" y2="135" stroke="#4169e1" stroke-width="0.6"/>
<line x1="386.4" y1="115.3" x2="389" y2="115.3" stroke="#4169e1" stroke-width="0.6"/>
<line x1="386.4" y1="135" x2="389" y2="135" stroke="#4169e1" stroke-width="0.6"/>
<line x1="400.9" y1="115.8" x2="400.9" y2="130.8" stroke="#4169e1" stroke-width="0.6"/>
<line x1="399.6" y1="115.8" x2="402.2" y2="115.8" stroke="#4169e1" stroke-width="0.6"/>
<line x1="399.6" y1="130.8" x2="402.2" y2="130.8" stroke="#4169e1" stroke-width="0.6"/>
<line x1="414.1" y1="116.3" x2="414.1" y2="143.6" stroke="#4169e1" stroke-width="0.6"/>
<line x1="412.8" y1="116.3" x2="415.4" y2="116.3" stroke="#4169e1" stroke-width="0.6"/>
<line x1="412.8" y1="143.6" x2="415.4" y2="143.6" stroke="#4169e1" stroke-width="0.6"/>
<line x1="427.3" y1="114.6" x2="427.3" y2="148.2" stroke="#2a3f9a" stroke-width="0.6"/>
<line x1="426" y1="114.6" x2="428.6" y2="114.6" stroke="#2a3f9a" stroke-width="0.6"/>
<line x1="440.5" y1="120" x2="440.5" y2="148.2" stroke="#2a3f9a" stroke-width="0.6"/>
<line x1="439.2" y1="120" x2="441.8" y2="120" stroke="#2a3f9a" stroke-width="0.6"/>
<line x1="453.7" y1="108" x2="453.7" y2="148.2" stroke="#c3cbf3" stroke-width="1.7"/>
<line x1="452.4" y1="108" x2="455" y2="108" stroke="#c3cbf3" stroke-width="0.6"/>
<line x1="466.9" y1="100" x2="466.9" y2="113" stroke="#4169e1" stroke-width="0.6"/>
<line x1="465.6" y1="100" x2="468.2" y2="100" stroke="#4169e1" stroke-width="0.6"/>
<line x1="465.6" y1="113" x2="468.2" y2="113" stroke="#4169e1" stroke-width="0.6"/>
<line x1="480.1" y1="90" x2="480.1" y2="101" stroke="#4169e1" stroke-width="0.6"/>
<line x1="478.8" y1="90" x2="481.4" y2="90" stroke="#4169e1" stroke-width="0.6"/>
<line x1="478.8" y1="101" x2="481.4" y2="101" stroke="#4169e1" stroke-width="0.6"/>
<line x1="486.7" y1="83" x2="486.7" y2="92" stroke="#4169e1" stroke-width="0.6"/>
<line x1="485.4" y1="83" x2="488" y2="83" stroke="#4169e1" stroke-width="0.6"/>
<line x1="485.4" y1="92" x2="488" y2="92" stroke="#4169e1" stroke-width="0.6"/>
<polyline points="361.3,125.8 374.5,125.3 387.7,122 400.9,120.8 414.1,124.6 427.3,127.9 440.5,142.9 453.7,121.6 466.9,106.3 480.1,95.2 486.7,87.5" fill="none" stroke="#4169e1" stroke-width="0.8" stroke-linejoin="round" stroke-linecap="round"/>
<circle cx="361.3" cy="70.6" r="2.3" fill="#9400d3"/>
<circle cx="374.5" cy="69.1" r="2.3" fill="#9400d3"/>
<circle cx="387.7" cy="62.7" r="2.3" fill="#9400d3"/>
<circle cx="400.9" cy="61.7" r="2.3" fill="#9400d3"/>
<circle cx="414.1" cy="58.8" r="2.3" fill="#9400d3"/>
<circle cx="427.3" cy="55.3" r="2.3" fill="#9400d3"/>
<circle cx="440.5" cy="53.3" r="2.3" fill="#9400d3"/>
<circle cx="453.7" cy="51.6" r="2.3" fill="#9400d3"/>
<circle cx="466.9" cy="51.6" r="2.3" fill="#9400d3"/>
<circle cx="480.1" cy="52" r="2.3" fill="#9400d3"/>
<circle cx="486.7" cy="51.3" r="2.3" fill="#9400d3"/>
<path d="M361.3,68.3L363.5,72.1L359.1,72.1Z" fill="#228b22"/>
<path d="M374.5,69.7L376.7,73.5L372.3,73.5Z" fill="#228b22"/>
<path d="M387.7,64.7L389.9,68.5L385.5,68.5Z" fill="#228b22"/>
<path d="M400.9,59.7L403.1,63.5L398.7,63.5Z" fill="#228b22"/>
<path d="M414.1,57.2L416.3,61L411.9,61Z" fill="#228b22"/>
<path d="M427.3,53.2L429.5,57L425.1,57Z" fill="#228b22"/>
<path d="M440.5,51.2L442.7,55L438.3,55Z" fill="#228b22"/>
<path d="M453.7,49.7L455.9,53.5L451.5,53.5Z" fill="#228b22"/>
<path d="M466.9,49.7L469.1,53.5L464.7,53.5Z" fill="#228b22"/>
<path d="M480.1,49.7L482.3,53.5L477.9,53.5Z" fill="#228b22"/>
<path d="M486.7,49.2L488.9,53L484.5,53Z" fill="#228b22"/>
<circle cx="361.3" cy="101.5" r="2.1" fill="#87ceeb"/>
<circle cx="374.5" cy="97.8" r="2.1" fill="#87ceeb"/>
<circle cx="387.7" cy="95.1" r="2.1" fill="#87ceeb"/>
<circle cx="400.9" cy="86" r="2.1" fill="#87ceeb"/>
<circle cx="414.1" cy="86.2" r="2.1" fill="#87ceeb"/>
<circle cx="427.3" cy="79.6" r="2.1" fill="#87ceeb"/>
<circle cx="440.5" cy="75.3" r="2.1" fill="#87ceeb"/>
<circle cx="453.7" cy="73.8" r="2.1" fill="#87ceeb"/>
<circle cx="466.9" cy="71.6" r="2.1" fill="#87ceeb"/>
<circle cx="480.1" cy="75.8" r="2.1" fill="#87ceeb"/>
<circle cx="486.7" cy="75.3" r="2.1" fill="#87ceeb"/>
<path d="M361.3,125.87L363.28,122.45L359.32,122.45Z" fill="#ffa500"/>
<path d="M374.5,123.67L376.48,120.25L372.52,120.25Z" fill="#ffa500"/>
<path d="M387.7,122.07L389.68,118.65L385.72,118.65Z" fill="#ffa500"/>
<path d="M400.9,121.57L402.88,118.15L398.92,118.15Z" fill="#ffa500"/>
<path d="M414.1,121.67L416.08,118.25L412.12,118.25Z" fill="#ffa500"/>
<path d="M427.3,126.17L429.28,122.75L425.32,122.75Z" fill="#ffa500"/>
<path d="M440.5,143.57L442.48,140.15L438.52,140.15Z" fill="#ffa500"/>
<path d="M453.7,120.87L455.68,117.45L451.72,117.45Z" fill="#ffa500"/>
<path d="M466.9,102.87L468.88,99.45L464.92,99.45Z" fill="#ffa500"/>
<path d="M480.1,93.17L482.08,89.75L478.12,89.75Z" fill="#ffa500"/>
<path d="M486.7,86.27L488.68,82.85L484.72,82.85Z" fill="#ffa500"/>
<path d="M361.3,123.7L363.4,125.8L361.3,127.9L359.2,125.8Z" fill="#4169e1"/>
<path d="M374.5,123.2L376.6,125.3L374.5,127.4L372.4,125.3Z" fill="#4169e1"/>
<path d="M387.7,119.9L389.8,122L387.7,124.1L385.6,122Z" fill="#4169e1"/>
<path d="M400.9,118.7L403,120.8L400.9,122.9L398.8,120.8Z" fill="#4169e1"/>
<path d="M414.1,122.5L416.2,124.6L414.1,126.7L412,124.6Z" fill="#4169e1"/>
<path d="M427.3,125.8L429.4,127.9L427.3,130L425.2,127.9Z" fill="#4169e1"/>
<path d="M440.5,140.8L442.6,142.9L440.5,145L438.4,142.9Z" fill="#4169e1"/>
<path d="M453.7,119.5L455.8,121.6L453.7,123.7L451.6,121.6Z" fill="#4169e1"/>
<path d="M466.9,104.2L469,106.3L466.9,108.4L464.8,106.3Z" fill="#4169e1"/>
<path d="M480.1,93.1L482.2,95.2L480.1,97.3L478,95.2Z" fill="#4169e1"/>
<path d="M486.7,85.4L488.8,87.5L486.7,89.6L484.6,87.5Z" fill="#4169e1"/>
</g>
<text x="467.8" y="18.6" font-size="6.2" text-anchor="end">Untrained sample</text>
<line x1="471" y1="16.4" x2="488" y2="16.4" stroke="#9400d3" stroke-width="0.7"/>
<line x1="471" y1="15.1" x2="471" y2="17.7" stroke="#9400d3" stroke-width="0.6"/>
<line x1="488" y1="15.1" x2="488" y2="17.7" stroke="#9400d3" stroke-width="0.6"/>
<circle cx="479.5" cy="16.4" r="2.3" fill="#9400d3"/>
<text x="467.8" y="25.18" font-size="6.2" text-anchor="end">t<tspan font-size="4.0" dy="1.4">trained</tspan><tspan dy="-1.4"> = 1</tspan></text>
<line x1="471" y1="22.98" x2="488" y2="22.98" stroke="#228b22" stroke-width="0.7"/>
<line x1="471" y1="21.68" x2="471" y2="24.28" stroke="#228b22" stroke-width="0.6"/>
<line x1="488" y1="21.68" x2="488" y2="24.28" stroke="#228b22" stroke-width="0.6"/>
<path d="M479.5,21.02L481.37,24.25L477.63,24.25Z" fill="#228b22"/>
<text x="467.8" y="31.76" font-size="6.2" text-anchor="end">t<tspan font-size="4.0" dy="1.4">trained</tspan><tspan dy="-1.4"> = 10</tspan><tspan font-size="4.0" dy="-2.5">3</tspan></text>
<line x1="471" y1="29.56" x2="488" y2="29.56" stroke="#87ceeb" stroke-width="0.7"/>
<line x1="471" y1="28.26" x2="471" y2="30.86" stroke="#87ceeb" stroke-width="0.6"/>
<line x1="488" y1="28.26" x2="488" y2="30.86" stroke="#87ceeb" stroke-width="0.6"/>
<circle cx="479.5" cy="29.56" r="2.1" fill="#87ceeb"/>
<text x="467.8" y="38.34" font-size="6.2" text-anchor="end">t<tspan font-size="4.0" dy="1.4">trained</tspan><tspan dy="-1.4"> = 10</tspan><tspan font-size="4.0" dy="-2.5">4</tspan></text>
<line x1="471" y1="36.14" x2="488" y2="36.14" stroke="#ffa500" stroke-width="0.7"/>
<line x1="471" y1="34.84" x2="471" y2="37.44" stroke="#ffa500" stroke-width="0.6"/>
<line x1="488" y1="34.84" x2="488" y2="37.44" stroke="#ffa500" stroke-width="0.6"/>
<path d="M479.5,38.21L481.48,34.79L477.52,34.79Z" fill="#ffa500"/>
<text x="467.8" y="44.92" font-size="6.2" text-anchor="end">t<tspan font-size="4.0" dy="1.4">trained</tspan><tspan dy="-1.4"> = 10</tspan><tspan font-size="4.0" dy="-2.5">5</tspan></text>
<line x1="471" y1="42.72" x2="488" y2="42.72" stroke="#4169e1" stroke-width="0.7"/>
<line x1="471" y1="41.42" x2="471" y2="44.02" stroke="#4169e1" stroke-width="0.6"/>
<line x1="488" y1="41.42" x2="488" y2="44.02" stroke="#4169e1" stroke-width="0.6"/>
<path d="M479.5,40.62L481.6,42.72L479.5,44.82L477.4,42.72Z" fill="#4169e1"/>
<text x="510.5" y="9.3" font-size="12" font-weight="bold" fill="#000" stroke="#000" stroke-width="0.7" stroke-linejoin="round">d</text>
<line x1="539.9" y1="10.5" x2="679.2" y2="10.5" stroke="#4a4a4a" stroke-width="0.9"/>
<line x1="679.2" y1="10.5" x2="679.2" y2="148" stroke="#4a4a4a" stroke-width="0.9"/>
<line x1="539.9" y1="148" x2="679.2" y2="148" stroke="#3a3a3a" stroke-width="0.9"/>
<line x1="539.9" y1="10.5" x2="539.9" y2="148" stroke="#3a3a3a" stroke-width="0.9"/>
<line x1="539.9" y1="147.9" x2="542.3" y2="147.9" stroke="#444" stroke-width="0.6"/>
<line x1="539.9" y1="134.11" x2="541.2" y2="134.11" stroke="#444" stroke-width="0.6"/>
<line x1="539.9" y1="126.05" x2="541.2" y2="126.05" stroke="#444" stroke-width="0.6"/>
<line x1="539.9" y1="120.33" x2="541.2" y2="120.33" stroke="#444" stroke-width="0.6"/>
<line x1="539.9" y1="115.89" x2="541.2" y2="115.89" stroke="#444" stroke-width="0.6"/>
<line x1="539.9" y1="112.26" x2="541.2" y2="112.26" stroke="#444" stroke-width="0.6"/>
<line x1="539.9" y1="109.19" x2="541.2" y2="109.19" stroke="#444" stroke-width="0.6"/>
<line x1="539.9" y1="106.54" x2="541.2" y2="106.54" stroke="#444" stroke-width="0.6"/>
<line x1="539.9" y1="104.2" x2="541.2" y2="104.2" stroke="#444" stroke-width="0.6"/>
<line x1="539.9" y1="102.1" x2="542.3" y2="102.1" stroke="#444" stroke-width="0.6"/>
<line x1="539.9" y1="88.31" x2="541.2" y2="88.31" stroke="#444" stroke-width="0.6"/>
<line x1="539.9" y1="80.25" x2="541.2" y2="80.25" stroke="#444" stroke-width="0.6"/>
<line x1="539.9" y1="74.53" x2="541.2" y2="74.53" stroke="#444" stroke-width="0.6"/>
<line x1="539.9" y1="70.09" x2="541.2" y2="70.09" stroke="#444" stroke-width="0.6"/>
<line x1="539.9" y1="66.46" x2="541.2" y2="66.46" stroke="#444" stroke-width="0.6"/>
<line x1="539.9" y1="63.39" x2="541.2" y2="63.39" stroke="#444" stroke-width="0.6"/>
<line x1="539.9" y1="60.74" x2="541.2" y2="60.74" stroke="#444" stroke-width="0.6"/>
<line x1="539.9" y1="58.4" x2="541.2" y2="58.4" stroke="#444" stroke-width="0.6"/>
<line x1="539.9" y1="56.3" x2="542.3" y2="56.3" stroke="#444" stroke-width="0.6"/>
<line x1="539.9" y1="42.51" x2="541.2" y2="42.51" stroke="#444" stroke-width="0.6"/>
<line x1="539.9" y1="34.45" x2="541.2" y2="34.45" stroke="#444" stroke-width="0.6"/>
<line x1="539.9" y1="28.73" x2="541.2" y2="28.73" stroke="#444" stroke-width="0.6"/>
<line x1="539.9" y1="24.29" x2="541.2" y2="24.29" stroke="#444" stroke-width="0.6"/>
<line x1="539.9" y1="20.66" x2="541.2" y2="20.66" stroke="#444" stroke-width="0.6"/>
<line x1="539.9" y1="17.59" x2="541.2" y2="17.59" stroke="#444" stroke-width="0.6"/>
<line x1="539.9" y1="14.94" x2="541.2" y2="14.94" stroke="#444" stroke-width="0.6"/>
<line x1="539.9" y1="12.6" x2="541.2" y2="12.6" stroke="#444" stroke-width="0.6"/>
<line x1="539.9" y1="10.5" x2="542.3" y2="10.5" stroke="#444" stroke-width="0.6"/>
<text x="536.9" y="12.9" font-size="6.9" text-anchor="end">10<tspan font-size="4.28" dy="-2.9">−2</tspan></text>
<text x="536.9" y="58.7" font-size="6.9" text-anchor="end">10<tspan font-size="4.28" dy="-2.9">−3</tspan></text>
<text x="536.9" y="104.5" font-size="6.9" text-anchor="end">10<tspan font-size="4.28" dy="-2.9">−4</tspan></text>
<text x="536.9" y="150.3" font-size="6.9" text-anchor="end">10<tspan font-size="4.28" dy="-2.9">−5</tspan></text>
<line x1="547.1" y1="148" x2="547.1" y2="146" stroke="#444" stroke-width="0.6"/>
<text x="547.1" y="158.4" font-size="7.0" text-anchor="middle">0</text>
<line x1="560.3" y1="148" x2="560.3" y2="146" stroke="#444" stroke-width="0.6"/>
<text x="560.3" y="158.4" font-size="7.0" text-anchor="middle">0.2</text>
<line x1="573.5" y1="148" x2="573.5" y2="146" stroke="#444" stroke-width="0.6"/>
<text x="573.5" y="158.4" font-size="7.0" text-anchor="middle">0.4</text>
<line x1="586.7" y1="148" x2="586.7" y2="146" stroke="#444" stroke-width="0.6"/>
<text x="586.7" y="158.4" font-size="7.0" text-anchor="middle">0.6</text>
<line x1="599.9" y1="148" x2="599.9" y2="146" stroke="#444" stroke-width="0.6"/>
<text x="599.9" y="158.4" font-size="7.0" text-anchor="middle">0.8</text>
<line x1="613.1" y1="148" x2="613.1" y2="146" stroke="#444" stroke-width="0.6"/>
<text x="613.1" y="158.4" font-size="7.0" text-anchor="middle">1.0</text>
<line x1="626.3" y1="148" x2="626.3" y2="146" stroke="#444" stroke-width="0.6"/>
<text x="626.3" y="158.4" font-size="7.0" text-anchor="middle">1.2</text>
<line x1="639.5" y1="148" x2="639.5" y2="146" stroke="#444" stroke-width="0.6"/>
<text x="639.5" y="158.4" font-size="7.0" text-anchor="middle">1.4</text>
<line x1="652.7" y1="148" x2="652.7" y2="146" stroke="#444" stroke-width="0.6"/>
<text x="652.7" y="158.4" font-size="7.0" text-anchor="middle">1.6</text>
<line x1="665.9" y1="148" x2="665.9" y2="146" stroke="#444" stroke-width="0.6"/>
<text x="665.9" y="158.4" font-size="7.0" text-anchor="middle">1.8</text>
<line x1="679.1" y1="148" x2="679.1" y2="146" stroke="#444" stroke-width="0.6"/>
<text x="679.1" y="158.4" font-size="7.0" text-anchor="middle">2.0</text>
<text x="608.7" y="7.6" font-size="8.6"><tspan font-style="italic">N</tspan> = 10,000; <tspan font-style="italic">n</tspan> = 16</text>
<text x="600.7" y="171.2" font-size="8.5"><tspan font-style="italic">f</tspan><tspan font-size="6.4" dx="0.5" dy="3.2">0</tspan><tspan font-size="6.3" dx="-0.6" dy="-6.9">read</tspan></text>
<text transform="translate(518.6,96.6) rotate(-90)" font-size="8.4" textLength="35.2" lengthAdjust="spacingAndGlyphs">|&lt;ΔU&gt;/N|</text>
<text x="557.8" y="31.1" font-size="8.0" textLength="89.5" lengthAdjust="spacingAndGlyphs"><tspan font-style="italic">f</tspan><tspan font-size="5.3" dy="2.4">0</tspan><tspan font-size="5.3" dx="0.2" dy="-6.6">train</tspan><tspan dy="4.2"> = 0.8, </tspan><tspan font-style="italic">t</tspan><tspan font-size="5.3" dy="1.8">trained</tspan><tspan dy="-1.8"> = 10</tspan><tspan font-size="5.3" dy="-3.6">5</tspan></text>
<line x1="547.1" y1="104.9" x2="547.1" y2="135.4" stroke="#555" stroke-width="0.55"/>
<line x1="545.7" y1="104.9" x2="548.5" y2="104.9" stroke="#555" stroke-width="0.55"/>
<line x1="545.7" y1="135.4" x2="548.5" y2="135.4" stroke="#555" stroke-width="0.55"/>
<line x1="560.3" y1="103.5" x2="560.3" y2="127.1" stroke="#555" stroke-width="0.55"/>
<line x1="558.9" y1="103.5" x2="561.7" y2="103.5" stroke="#555" stroke-width="0.55"/>
<line x1="558.9" y1="127.1" x2="561.7" y2="127.1" stroke="#555" stroke-width="0.55"/>
<line x1="573.5" y1="103.5" x2="573.5" y2="148" stroke="#555" stroke-width="0.55"/>
<line x1="572.1" y1="103.5" x2="574.9" y2="103.5" stroke="#555" stroke-width="0.55"/>
<line x1="586.7" y1="110.5" x2="586.7" y2="148" stroke="#555" stroke-width="0.55"/>
<line x1="585.3" y1="110.5" x2="588.1" y2="110.5" stroke="#555" stroke-width="0.55"/>
<line x1="599.9" y1="110.5" x2="599.9" y2="148" stroke="#555" stroke-width="0.55"/>
<line x1="598.5" y1="110.5" x2="601.3" y2="110.5" stroke="#555" stroke-width="0.55"/>
<line x1="613.1" y1="88.3" x2="613.1" y2="106.9" stroke="#555" stroke-width="0.55"/>
<line x1="611.7" y1="88.3" x2="614.5" y2="88.3" stroke="#555" stroke-width="0.55"/>
<line x1="611.7" y1="106.9" x2="614.5" y2="106.9" stroke="#555" stroke-width="0.55"/>
<line x1="626.3" y1="71" x2="626.3" y2="90.5" stroke="#555" stroke-width="0.55"/>
<line x1="624.9" y1="71" x2="627.7" y2="71" stroke="#555" stroke-width="0.55"/>
<line x1="624.9" y1="90.5" x2="627.7" y2="90.5" stroke="#555" stroke-width="0.55"/>
<line x1="639.5" y1="62.3" x2="639.5" y2="77.3" stroke="#555" stroke-width="0.55"/>
<line x1="638.1" y1="62.3" x2="640.9" y2="62.3" stroke="#555" stroke-width="0.55"/>
<line x1="638.1" y1="77.3" x2="640.9" y2="77.3" stroke="#555" stroke-width="0.55"/>
<line x1="652.7" y1="48.6" x2="652.7" y2="63.6" stroke="#555" stroke-width="0.55"/>
<line x1="651.3" y1="48.6" x2="654.1" y2="48.6" stroke="#555" stroke-width="0.55"/>
<line x1="651.3" y1="63.6" x2="654.1" y2="63.6" stroke="#555" stroke-width="0.55"/>
<line x1="665.9" y1="39.2" x2="665.9" y2="46.1" stroke="#555" stroke-width="0.55"/>
<line x1="664.5" y1="39.2" x2="667.3" y2="39.2" stroke="#555" stroke-width="0.55"/>
<line x1="664.5" y1="46.1" x2="667.3" y2="46.1" stroke="#555" stroke-width="0.55"/>
<line x1="672.5" y1="33.7" x2="672.5" y2="44.9" stroke="#555" stroke-width="0.55"/>
<line x1="671.1" y1="33.7" x2="673.9" y2="33.7" stroke="#555" stroke-width="0.55"/>
<line x1="671.1" y1="44.9" x2="673.9" y2="44.9" stroke="#555" stroke-width="0.55"/>
<polyline points="547.1,114.6 560.3,111.9 573.5,115.2 586.7,128.5 599.9,142.3 613.1,95.2 626.3,78.6 639.5,69.3 652.7,56.1 665.9,43.6 672.5,39.2" fill="none" stroke="#111" stroke-width="0.75" stroke-linejoin="round" stroke-linecap="round"/>
<path d="M547.1,116.73L549.13,113.21L545.07,113.21Z" fill="#000"/>
<path d="M560.3,114.03L562.34,110.51L558.27,110.51Z" fill="#000"/>
<path d="M573.5,117.33L575.53,113.81L571.47,113.81Z" fill="#000"/>
<path d="M586.7,130.63L588.74,127.11L584.67,127.11Z" fill="#000"/>
<path d="M599.9,144.43L601.93,140.91L597.87,140.91Z" fill="#000"/>
<path d="M613.1,97.33L615.13,93.81L611.07,93.81Z" fill="#000"/>
<path d="M626.3,80.73L628.34,77.21L624.27,77.21Z" fill="#000"/>
<path d="M639.5,71.43L641.53,67.91L637.47,67.91Z" fill="#000"/>
<path d="M652.7,58.23L654.74,54.71L650.67,54.71Z" fill="#000"/>
<path d="M665.9,45.73L667.93,42.21L663.87,42.21Z" fill="#000"/>
<path d="M672.5,41.33L674.53,37.81L670.47,37.81Z" fill="#000"/>
<text x="354" y="196.2" font-size="12" font-weight="bold" fill="#000" stroke="#000" stroke-width="0.7" stroke-linejoin="round">g</text>
<line x1="400.6" y1="195.7" x2="680.5" y2="195.7" stroke="#a0a0a0" stroke-width="0.9"/>
<line x1="680.5" y1="195.7" x2="680.5" y2="335.6" stroke="#404040" stroke-width="0.9"/>
<line x1="400.6" y1="335.6" x2="680.5" y2="335.6" stroke="#404040" stroke-width="0.9"/>
<line x1="400.6" y1="195.7" x2="400.6" y2="335.6" stroke="#404040" stroke-width="0.9"/>
<text x="396.2" y="212.5" font-size="7.6" text-anchor="end">−6.9835</text>
<line x1="400.6" y1="209.9" x2="403.2" y2="209.9" stroke="#444" stroke-width="0.6"/>
<text x="396.2" y="235.8" font-size="7.6" text-anchor="end">−6.9840</text>
<line x1="400.6" y1="233.2" x2="403.2" y2="233.2" stroke="#444" stroke-width="0.6"/>
<text x="396.2" y="259.1" font-size="7.6" text-anchor="end">−6.9845</text>
<line x1="400.6" y1="256.5" x2="403.2" y2="256.5" stroke="#444" stroke-width="0.6"/>
<text x="396.2" y="282.4" font-size="7.6" text-anchor="end">−6.9850</text>
<line x1="400.6" y1="279.8" x2="403.2" y2="279.8" stroke="#444" stroke-width="0.6"/>
<text x="396.2" y="305.7" font-size="7.6" text-anchor="end">−6.9855</text>
<line x1="400.6" y1="303.1" x2="403.2" y2="303.1" stroke="#444" stroke-width="0.6"/>
<text x="396.2" y="329" font-size="7.6" text-anchor="end">−6.9860</text>
<line x1="400.6" y1="326.4" x2="403.2" y2="326.4" stroke="#444" stroke-width="0.6"/>
<line x1="405.66" y1="335.6" x2="405.66" y2="333.8" stroke="#444" stroke-width="0.6"/>
<line x1="410.38" y1="335.6" x2="410.38" y2="333.8" stroke="#444" stroke-width="0.6"/>
<line x1="414.47" y1="335.6" x2="414.47" y2="333.8" stroke="#444" stroke-width="0.6"/>
<line x1="418.07" y1="335.6" x2="418.07" y2="333.8" stroke="#444" stroke-width="0.6"/>
<line x1="421.3" y1="335.6" x2="421.3" y2="332.4" stroke="#444" stroke-width="0.6"/>
<line x1="442.52" y1="335.6" x2="442.52" y2="333.8" stroke="#444" stroke-width="0.6"/>
<line x1="454.94" y1="335.6" x2="454.94" y2="333.8" stroke="#444" stroke-width="0.6"/>
<line x1="463.75" y1="335.6" x2="463.75" y2="333.8" stroke="#444" stroke-width="0.6"/>
<line x1="470.58" y1="335.6" x2="470.58" y2="333.8" stroke="#444" stroke-width="0.6"/>
<line x1="476.16" y1="335.6" x2="476.16" y2="333.8" stroke="#444" stroke-width="0.6"/>
<line x1="480.88" y1="335.6" x2="480.88" y2="333.8" stroke="#444" stroke-width="0.6"/>
<line x1="484.97" y1="335.6" x2="484.97" y2="333.8" stroke="#444" stroke-width="0.6"/>
<line x1="488.57" y1="335.6" x2="488.57" y2="333.8" stroke="#444" stroke-width="0.6"/>
<line x1="491.8" y1="335.6" x2="491.8" y2="332.4" stroke="#444" stroke-width="0.6"/>
<line x1="513.02" y1="335.6" x2="513.02" y2="333.8" stroke="#444" stroke-width="0.6"/>
<line x1="525.44" y1="335.6" x2="525.44" y2="333.8" stroke="#444" stroke-width="0.6"/>
<line x1="534.25" y1="335.6" x2="534.25" y2="333.8" stroke="#444" stroke-width="0.6"/>
<line x1="541.08" y1="335.6" x2="541.08" y2="333.8" stroke="#444" stroke-width="0.6"/>
<line x1="546.66" y1="335.6" x2="546.66" y2="333.8" stroke="#444" stroke-width="0.6"/>
<line x1="551.38" y1="335.6" x2="551.38" y2="333.8" stroke="#444" stroke-width="0.6"/>
<line x1="555.47" y1="335.6" x2="555.47" y2="333.8" stroke="#444" stroke-width="0.6"/>
<line x1="559.07" y1="335.6" x2="559.07" y2="333.8" stroke="#444" stroke-width="0.6"/>
<line x1="562.3" y1="335.6" x2="562.3" y2="332.4" stroke="#444" stroke-width="0.6"/>
<line x1="583.52" y1="335.6" x2="583.52" y2="333.8" stroke="#444" stroke-width="0.6"/>
<line x1="595.94" y1="335.6" x2="595.94" y2="333.8" stroke="#444" stroke-width="0.6"/>
<line x1="604.75" y1="335.6" x2="604.75" y2="333.8" stroke="#444" stroke-width="0.6"/>
<line x1="611.58" y1="335.6" x2="611.58" y2="333.8" stroke="#444" stroke-width="0.6"/>
<line x1="617.16" y1="335.6" x2="617.16" y2="333.8" stroke="#444" stroke-width="0.6"/>
<line x1="621.88" y1="335.6" x2="621.88" y2="333.8" stroke="#444" stroke-width="0.6"/>
<line x1="625.97" y1="335.6" x2="625.97" y2="333.8" stroke="#444" stroke-width="0.6"/>
<line x1="629.57" y1="335.6" x2="629.57" y2="333.8" stroke="#444" stroke-width="0.6"/>
<line x1="632.8" y1="335.6" x2="632.8" y2="332.4" stroke="#444" stroke-width="0.6"/>
<line x1="654.02" y1="335.6" x2="654.02" y2="333.8" stroke="#444" stroke-width="0.6"/>
<line x1="666.44" y1="335.6" x2="666.44" y2="333.8" stroke="#444" stroke-width="0.6"/>
<line x1="675.25" y1="335.6" x2="675.25" y2="333.8" stroke="#444" stroke-width="0.6"/>
<text x="421.3" y="345.1" font-size="7.2" text-anchor="middle">0.01</text>
<text x="491.8" y="345.1" font-size="7.2" text-anchor="middle">0.10</text>
<text x="562.3" y="345.1" font-size="7.2" text-anchor="middle">1.00</text>
<text x="632.8" y="345.1" font-size="7.2" text-anchor="middle">10.0</text>
<text x="538.6" y="357.8" font-size="8.6" font-style="italic">t</text>
<text transform="translate(362.0,272.7) rotate(-90)" font-size="8.8" font-style="italic" textLength="15" lengthAdjust="spacingAndGlyphs">U/N</text>
<text x="547.0" y="236.6" font-size="8.0" textLength="86.5" lengthAdjust="spacingAndGlyphs"><tspan font-style="italic">f</tspan><tspan font-size="5.3" dy="2.4">0</tspan><tspan font-size="5.3" dx="0.2" dy="-6.6">train</tspan><tspan dy="4.2"> = 1.2, </tspan><tspan font-style="italic">t</tspan><tspan font-size="5.3" dy="1.8">trained</tspan><tspan dy="-1.8"> = 10</tspan><tspan font-size="5.3" dy="-3.6">5</tspan></text>
<clipPath id="clipG"><rect x="400.6" y="195.7" width="280.4" height="139.90000000000003"/></clipPath>
<g clip-path="url(#clipG)">
<line x1="400.6" y1="318.8" x2="562" y2="318.8" stroke="#56b4e9" stroke-width="0.9"/>
<polyline points="560,319 561.5,319.19 563.4,319.21 565.3,319.35 567.2,319.67 569.1,319.98 571,320 572.9,319.99 574.8,319.8 576.7,320.12 578.6,320.29 580.5,321.07 582.4,319.93 584.3,321.15 586.2,320.82 588.1,321.42 590,320.3 591.9,321.32 593.8,321.87 595.7,321.69 597.6,322.35 599.5,322.17 601.4,322.19 603.3,321.38 605.2,322.01 607.1,321.97 609,322.39 610.9,324.43 612.8,322.5 614.7,323.22 616.6,323.21 618.5,323.45 620.4,323.45 622,321.8 625.2,323.2 628.4,322.28 631.6,322.42 634.8,324.11 638,323.46 641.2,322.86 644.4,322.89 647.6,323.85 650.8,322.65 654,324.85 657.2,324.44 660.4,324.69 663.6,324.92 666.8,324.8 670,325.12 673.2,324.15 676.4,324.56 679.6,324.01 682.8,325.73" fill="none" stroke="#9400d3" stroke-width="0.8" stroke-linejoin="round" stroke-linecap="round"/>
<path d="M559,319.2h5m-2.5,-2.5v5" stroke="#9400d3" stroke-width=".7"/>
<path d="M560.9,319.2h5m-2.5,-2.5v5" stroke="#9400d3" stroke-width=".7"/>
<path d="M562.8,319.3h5m-2.5,-2.5v5" stroke="#9400d3" stroke-width=".7"/>
<path d="M564.7,319.7h5m-2.5,-2.5v5" stroke="#9400d3" stroke-width=".7"/>
<path d="M566.6,320h5m-2.5,-2.5v5" stroke="#9400d3" stroke-width=".7"/>
<path d="M568.5,320h5m-2.5,-2.5v5" stroke="#9400d3" stroke-width=".7"/>
<path d="M570.4,320h5m-2.5,-2.5v5" stroke="#9400d3" stroke-width=".7"/>
<path d="M572.3,319.8h5m-2.5,-2.5v5" stroke="#9400d3" stroke-width=".7"/>
<path d="M574.2,320.1h5m-2.5,-2.5v5" stroke="#9400d3" stroke-width=".7"/>
<path d="M576.1,320.3h5m-2.5,-2.5v5" stroke="#9400d3" stroke-width=".7"/>
<path d="M578,321.1h5m-2.5,-2.5v5" stroke="#9400d3" stroke-width=".7"/>
<path d="M579.9,319.9h5m-2.5,-2.5v5" stroke="#9400d3" stroke-width=".7"/>
<path d="M581.8,321.1h5m-2.5,-2.5v5" stroke="#9400d3" stroke-width=".7"/>
<path d="M583.7,320.8h5m-2.5,-2.5v5" stroke="#9400d3" stroke-width=".7"/>
<path d="M585.6,321.4h5m-2.5,-2.5v5" stroke="#9400d3" stroke-width=".7"/>
<path d="M587.5,320.3h5m-2.5,-2.5v5" stroke="#9400d3" stroke-width=".7"/>
<path d="M589.4,321.3h5m-2.5,-2.5v5" stroke="#9400d3" stroke-width=".7"/>
<path d="M591.3,321.9h5m-2.5,-2.5v5" stroke="#9400d3" stroke-width=".7"/>
<path d="M593.2,321.7h5m-2.5,-2.5v5" stroke="#9400d3" stroke-width=".7"/>
<path d="M595.1,322.4h5m-2.5,-2.5v5" stroke="#9400d3" stroke-width=".7"/>
<path d="M597,322.2h5m-2.5,-2.5v5" stroke="#9400d3" stroke-width=".7"/>
<path d="M598.9,322.2h5m-2.5,-2.5v5" stroke="#9400d3" stroke-width=".7"/>
<path d="M600.8,321.4h5m-2.5,-2.5v5" stroke="#9400d3" stroke-width=".7"/>
<path d="M602.7,322h5m-2.5,-2.5v5" stroke="#9400d3" stroke-width=".7"/>
<path d="M604.6,322h5m-2.5,-2.5v5" stroke="#9400d3" stroke-width=".7"/>
<path d="M606.5,322.4h5m-2.5,-2.5v5" stroke="#9400d3" stroke-width=".7"/>
<path d="M608.4,324.4h5m-2.5,-2.5v5" stroke="#9400d3" stroke-width=".7"/>
<path d="M610.3,322.5h5m-2.5,-2.5v5" stroke="#9400d3" stroke-width=".7"/>
<path d="M612.2,323.2h5m-2.5,-2.5v5" stroke="#9400d3" stroke-width=".7"/>
<path d="M614.1,323.2h5m-2.5,-2.5v5" stroke="#9400d3" stroke-width=".7"/>
<path d="M616,323.4h5m-2.5,-2.5v5" stroke="#9400d3" stroke-width=".7"/>
<path d="M617.9,323.5h5m-2.5,-2.5v5" stroke="#9400d3" stroke-width=".7"/>
<path d="M619.5,321.8h5m-2.5,-2.5v5" stroke="#9400d3" stroke-width=".7"/>
<path d="M622.7,323.2h5m-2.5,-2.5v5" stroke="#9400d3" stroke-width=".7"/>
<path d="M625.9,322.3h5m-2.5,-2.5v5" stroke="#9400d3" stroke-width=".7"/>
<path d="M629.1,322.4h5m-2.5,-2.5v5" stroke="#9400d3" stroke-width=".7"/>
<path d="M632.3,324.1h5m-2.5,-2.5v5" stroke="#9400d3" stroke-width=".7"/>
<path d="M635.5,323.5h5m-2.5,-2.5v5" stroke="#9400d3" stroke-width=".7"/>
<path d="M638.7,322.9h5m-2.5,-2.5v5" stroke="#9400d3" stroke-width=".7"/>
<path d="M641.9,322.9h5m-2.5,-2.5v5" stroke="#9400d3" stroke-width=".7"/>
<path d="M645.1,323.9h5m-2.5,-2.5v5" stroke="#9400d3" stroke-width=".7"/>
<path d="M648.3,322.7h5m-2.5,-2.5v5" stroke="#9400d3" stroke-width=".7"/>
<path d="M651.5,324.8h5m-2.5,-2.5v5" stroke="#9400d3" stroke-width=".7"/>
<path d="M654.7,324.4h5m-2.5,-2.5v5" stroke="#9400d3" stroke-width=".7"/>
<path d="M657.9,324.7h5m-2.5,-2.5v5" stroke="#9400d3" stroke-width=".7"/>
<path d="M661.1,324.9h5m-2.5,-2.5v5" stroke="#9400d3" stroke-width=".7"/>
<path d="M664.3,324.8h5m-2.5,-2.5v5" stroke="#9400d3" stroke-width=".7"/>
<path d="M667.5,325.1h5m-2.5,-2.5v5" stroke="#9400d3" stroke-width=".7"/>
<path d="M670.7,324.2h5m-2.5,-2.5v5" stroke="#9400d3" stroke-width=".7"/>
<path d="M673.9,324.6h5m-2.5,-2.5v5" stroke="#9400d3" stroke-width=".7"/>
<path d="M677.1,324h5m-2.5,-2.5v5" stroke="#9400d3" stroke-width=".7"/>
<path d="M680.3,325.7h5m-2.5,-2.5v5" stroke="#9400d3" stroke-width=".7"/>
<polyline points="560,319 562,319.57 563.9,319.23 565.8,319.11 567.7,319.53 569.6,320.23 571.5,320.09 573.4,320.11 575.3,320.39 577.2,320.6 579.1,321 581,320.85 582.9,321.49 584.8,320.87 586.7,321.23 588.6,321.12 590.5,321.57 592.4,322.82 594.3,320.87 596.2,321.07 598.1,321.72 600,322.95 601.9,322.58 603.8,322.04 605.7,322.73 607.6,321.98 609.5,322.23 611.4,322.62 613.3,323.5 615.2,323.1 617.1,323.43 619,324.25 620.9,323.28 622.9,324.43 626.1,323.09 629.3,325.12 632.5,322.96 635.7,322.61 638.9,324.09 642.1,323.9 645.3,324.57 648.5,324.68 651.7,323.33 654.9,324.31 658.1,325.95 661.3,324.26 664.5,325.61 667.7,324.71 670.9,324.52 674.1,324.15 677.3,324.51 680.5,324.02" fill="none" stroke="#009e73" stroke-width="0.8" stroke-linejoin="round" stroke-linecap="round"/>
<path d="M559.7,317.3l4.6,4.6m-4.6,0l4.6,-4.6" stroke="#009e73" stroke-width=".7"/>
<path d="M561.6,316.9l4.6,4.6m-4.6,0l4.6,-4.6" stroke="#009e73" stroke-width=".7"/>
<path d="M563.5,316.8l4.6,4.6m-4.6,0l4.6,-4.6" stroke="#009e73" stroke-width=".7"/>
<path d="M565.4,317.2l4.6,4.6m-4.6,0l4.6,-4.6" stroke="#009e73" stroke-width=".7"/>
<path d="M567.3,317.9l4.6,4.6m-4.6,0l4.6,-4.6" stroke="#009e73" stroke-width=".7"/>
<path d="M569.2,317.8l4.6,4.6m-4.6,0l4.6,-4.6" stroke="#009e73" stroke-width=".7"/>
<path d="M571.1,317.8l4.6,4.6m-4.6,0l4.6,-4.6" stroke="#009e73" stroke-width=".7"/>
<path d="M573,318.1l4.6,4.6m-4.6,0l4.6,-4.6" stroke="#009e73" stroke-width=".7"/>
<path d="M574.9,318.3l4.6,4.6m-4.6,0l4.6,-4.6" stroke="#009e73" stroke-width=".7"/>
<path d="M576.8,318.7l4.6,4.6m-4.6,0l4.6,-4.6" stroke="#009e73" stroke-width=".7"/>
<path d="M578.7,318.5l4.6,4.6m-4.6,0l4.6,-4.6" stroke="#009e73" stroke-width=".7"/>
<path d="M580.6,319.2l4.6,4.6m-4.6,0l4.6,-4.6" stroke="#009e73" stroke-width=".7"/>
<path d="M582.5,318.6l4.6,4.6m-4.6,0l4.6,-4.6" stroke="#009e73" stroke-width=".7"/>
<path d="M584.4,318.9l4.6,4.6m-4.6,0l4.6,-4.6" stroke="#009e73" stroke-width=".7"/>
<path d="M586.3,318.8l4.6,4.6m-4.6,0l4.6,-4.6" stroke="#009e73" stroke-width=".7"/>
<path d="M588.2,319.3l4.6,4.6m-4.6,0l4.6,-4.6" stroke="#009e73" stroke-width=".7"/>
<path d="M590.1,320.5l4.6,4.6m-4.6,0l4.6,-4.6" stroke="#009e73" stroke-width=".7"/>
<path d="M592,318.6l4.6,4.6m-4.6,0l4.6,-4.6" stroke="#009e73" stroke-width=".7"/>
<path d="M593.9,318.8l4.6,4.6m-4.6,0l4.6,-4.6" stroke="#009e73" stroke-width=".7"/>
<path d="M595.8,319.4l4.6,4.6m-4.6,0l4.6,-4.6" stroke="#009e73" stroke-width=".7"/>
<path d="M597.7,320.6l4.6,4.6m-4.6,0l4.6,-4.6" stroke="#009e73" stroke-width=".7"/>
<path d="M599.6,320.3l4.6,4.6m-4.6,0l4.6,-4.6" stroke="#009e73" stroke-width=".7"/>
<path d="M601.5,319.7l4.6,4.6m-4.6,0l4.6,-4.6" stroke="#009e73" stroke-width=".7"/>
<path d="M603.4,320.4l4.6,4.6m-4.6,0l4.6,-4.6" stroke="#009e73" stroke-width=".7"/>
<path d="M605.3,319.7l4.6,4.6m-4.6,0l4.6,-4.6" stroke="#009e73" stroke-width=".7"/>
<path d="M607.2,319.9l4.6,4.6m-4.6,0l4.6,-4.6" stroke="#009e73" stroke-width=".7"/>
<path d="M609.1,320.3l4.6,4.6m-4.6,0l4.6,-4.6" stroke="#009e73" stroke-width=".7"/>
<path d="M611,321.2l4.6,4.6m-4.6,0l4.6,-4.6" stroke="#009e73" stroke-width=".7"/>
<path d="M612.9,320.8l4.6,4.6m-4.6,0l4.6,-4.6" stroke="#009e73" stroke-width=".7"/>
<path d="M614.8,321.1l4.6,4.6m-4.6,0l4.6,-4.6" stroke="#009e73" stroke-width=".7"/>
<path d="M616.7,321.9l4.6,4.6m-4.6,0l4.6,-4.6" stroke="#009e73" stroke-width=".7"/>
<path d="M618.6,321l4.6,4.6m-4.6,0l4.6,-4.6" stroke="#009e73" stroke-width=".7"/>
<path d="M620.6,322.1l4.6,4.6m-4.6,0l4.6,-4.6" stroke="#009e73" stroke-width=".7"/>
<path d="M623.8,320.8l4.6,4.6m-4.6,0l4.6,-4.6" stroke="#009e73" stroke-width=".7"/>
<path d="M627,322.8l4.6,4.6m-4.6,0l4.6,-4.6" stroke="#009e73" stroke-width=".7"/>
<path d="M630.2,320.7l4.6,4.6m-4.6,0l4.6,-4.6" stroke="#009e73" stroke-width=".7"/>
<path d="M633.4,320.3l4.6,4.6m-4.6,0l4.6,-4.6" stroke="#009e73" stroke-width=".7"/>
<path d="M636.6,321.8l4.6,4.6m-4.6,0l4.6,-4.6" stroke="#009e73" stroke-width=".7"/>
<path d="M639.8,321.6l4.6,4.6m-4.6,0l4.6,-4.6" stroke="#009e73" stroke-width=".7"/>
<path d="M643,322.3l4.6,4.6m-4.6,0l4.6,-4.6" stroke="#009e73" stroke-width=".7"/>
<path d="M646.2,322.4l4.6,4.6m-4.6,0l4.6,-4.6" stroke="#009e73" stroke-width=".7"/>
<path d="M649.4,321l4.6,4.6m-4.6,0l4.6,-4.6" stroke="#009e73" stroke-width=".7"/>
<path d="M652.6,322l4.6,4.6m-4.6,0l4.6,-4.6" stroke="#009e73" stroke-width=".7"/>
<path d="M655.8,323.6l4.6,4.6m-4.6,0l4.6,-4.6" stroke="#009e73" stroke-width=".7"/>
<path d="M659,322l4.6,4.6m-4.6,0l4.6,-4.6" stroke="#009e73" stroke-width=".7"/>
<path d="M662.2,323.3l4.6,4.6m-4.6,0l4.6,-4.6" stroke="#009e73" stroke-width=".7"/>
<path d="M665.4,322.4l4.6,4.6m-4.6,0l4.6,-4.6" stroke="#009e73" stroke-width=".7"/>
<path d="M668.6,322.2l4.6,4.6m-4.6,0l4.6,-4.6" stroke="#009e73" stroke-width=".7"/>
<path d="M671.8,321.9l4.6,4.6m-4.6,0l4.6,-4.6" stroke="#009e73" stroke-width=".7"/>
<path d="M675,322.2l4.6,4.6m-4.6,0l4.6,-4.6" stroke="#009e73" stroke-width=".7"/>
<path d="M678.2,321.7l4.6,4.6m-4.6,0l4.6,-4.6" stroke="#009e73" stroke-width=".7"/>
<polyline points="560,319 562.5,319.59 564.4,319.25 566.3,319.35 568.2,319.65 570.1,319.64 572,320.43 573.9,320.46 575.8,320.57 577.7,320.99 579.6,320.48 581.5,320.34 583.4,321.14 585.3,321.28 587.2,320.88 589.1,321.71 591,322.36 592.9,321.42 594.8,321.97 596.7,322.2 598.6,322.43 600.5,322.89 602.4,322.77 604.3,323.39 606.2,322.2 608.1,322.53 610,323.43 611.9,322.79 613.8,322.83 615.7,323.25 617.6,323.59 619.5,323.18 621.4,323.92 623.8,324.5 627,322.74 630.2,322.56 633.4,324.5 636.6,323.68 639.8,325.14 643,326.1 646.2,324.39 649.4,324.35 652.6,324.68 655.8,324.95 659,324.86 662.2,324.44 665.4,325.32 668.6,323.96 671.8,325.49 675,325.4 678.2,326.21 681.4,325.61" fill="none" stroke="#56b4e9" stroke-width="0.8" stroke-linejoin="round" stroke-linecap="round"/>
<path d="M560,319.6h5m-2.5,-2.5v5m-1.8,-4.3l3.6,3.6m-3.6,0l3.6,-3.6" stroke="#56b4e9" stroke-width=".7"/>
<path d="M561.9,319.3h5m-2.5,-2.5v5m-1.8,-4.3l3.6,3.6m-3.6,0l3.6,-3.6" stroke="#56b4e9" stroke-width=".7"/>
<path d="M563.8,319.3h5m-2.5,-2.5v5m-1.8,-4.3l3.6,3.6m-3.6,0l3.6,-3.6" stroke="#56b4e9" stroke-width=".7"/>
<path d="M565.7,319.7h5m-2.5,-2.5v5m-1.8,-4.3l3.6,3.6m-3.6,0l3.6,-3.6" stroke="#56b4e9" stroke-width=".7"/>
<path d="M567.6,319.6h5m-2.5,-2.5v5m-1.8,-4.3l3.6,3.6m-3.6,0l3.6,-3.6" stroke="#56b4e9" stroke-width=".7"/>
<path d="M569.5,320.4h5m-2.5,-2.5v5m-1.8,-4.3l3.6,3.6m-3.6,0l3.6,-3.6" stroke="#56b4e9" stroke-width=".7"/>
<path d="M571.4,320.5h5m-2.5,-2.5v5m-1.8,-4.3l3.6,3.6m-3.6,0l3.6,-3.6" stroke="#56b4e9" stroke-width=".7"/>
<path d="M573.3,320.6h5m-2.5,-2.5v5m-1.8,-4.3l3.6,3.6m-3.6,0l3.6,-3.6" stroke="#56b4e9" stroke-width=".7"/>
<path d="M575.2,321h5m-2.5,-2.5v5m-1.8,-4.3l3.6,3.6m-3.6,0l3.6,-3.6" stroke="#56b4e9" stroke-width=".7"/>
<path d="M577.1,320.5h5m-2.5,-2.5v5m-1.8,-4.3l3.6,3.6m-3.6,0l3.6,-3.6" stroke="#56b4e9" stroke-width=".7"/>
<path d="M579,320.3h5m-2.5,-2.5v5m-1.8,-4.3l3.6,3.6m-3.6,0l3.6,-3.6" stroke="#56b4e9" stroke-width=".7"/>
<path d="M580.9,321.1h5m-2.5,-2.5v5m-1.8,-4.3l3.6,3.6m-3.6,0l3.6,-3.6" stroke="#56b4e9" stroke-width=".7"/>
<path d="M582.8,321.3h5m-2.5,-2.5v5m-1.8,-4.3l3.6,3.6m-3.6,0l3.6,-3.6" stroke="#56b4e9" stroke-width=".7"/>
<path d="M584.7,320.9h5m-2.5,-2.5v5m-1.8,-4.3l3.6,3.6m-3.6,0l3.6,-3.6" stroke="#56b4e9" stroke-width=".7"/>
<path d="M586.6,321.7h5m-2.5,-2.5v5m-1.8,-4.3l3.6,3.6m-3.6,0l3.6,-3.6" stroke="#56b4e9" stroke-width=".7"/>
<path d="M588.5,322.4h5m-2.5,-2.5v5m-1.8,-4.3l3.6,3.6m-3.6,0l3.6,-3.6" stroke="#56b4e9" stroke-width=".7"/>
<path d="M590.4,321.4h5m-2.5,-2.5v5m-1.8,-4.3l3.6,3.6m-3.6,0l3.6,-3.6" stroke="#56b4e9" stroke-width=".7"/>
<path d="M592.3,322h5m-2.5,-2.5v5m-1.8,-4.3l3.6,3.6m-3.6,0l3.6,-3.6" stroke="#56b4e9" stroke-width=".7"/>
<path d="M594.2,322.2h5m-2.5,-2.5v5m-1.8,-4.3l3.6,3.6m-3.6,0l3.6,-3.6" stroke="#56b4e9" stroke-width=".7"/>
<path d="M596.1,322.4h5m-2.5,-2.5v5m-1.8,-4.3l3.6,3.6m-3.6,0l3.6,-3.6" stroke="#56b4e9" stroke-width=".7"/>
<path d="M598,322.9h5m-2.5,-2.5v5m-1.8,-4.3l3.6,3.6m-3.6,0l3.6,-3.6" stroke="#56b4e9" stroke-width=".7"/>
<path d="M599.9,322.8h5m-2.5,-2.5v5m-1.8,-4.3l3.6,3.6m-3.6,0l3.6,-3.6" stroke="#56b4e9" stroke-width=".7"/>
<path d="M601.8,323.4h5m-2.5,-2.5v5m-1.8,-4.3l3.6,3.6m-3.6,0l3.6,-3.6" stroke="#56b4e9" stroke-width=".7"/>
<path d="M603.7,322.2h5m-2.5,-2.5v5m-1.8,-4.3l3.6,3.6m-3.6,0l3.6,-3.6" stroke="#56b4e9" stroke-width=".7"/>
<path d="M605.6,322.5h5m-2.5,-2.5v5m-1.8,-4.3l3.6,3.6m-3.6,0l3.6,-3.6" stroke="#56b4e9" stroke-width=".7"/>
<path d="M607.5,323.4h5m-2.5,-2.5v5m-1.8,-4.3l3.6,3.6m-3.6,0l3.6,-3.6" stroke="#56b4e9" stroke-width=".7"/>
<path d="M609.4,322.8h5m-2.5,-2.5v5m-1.8,-4.3l3.6,3.6m-3.6,0l3.6,-3.6" stroke="#56b4e9" stroke-width=".7"/>
<path d="M611.3,322.8h5m-2.5,-2.5v5m-1.8,-4.3l3.6,3.6m-3.6,0l3.6,-3.6" stroke="#56b4e9" stroke-width=".7"/>
<path d="M613.2,323.3h5m-2.5,-2.5v5m-1.8,-4.3l3.6,3.6m-3.6,0l3.6,-3.6" stroke="#56b4e9" stroke-width=".7"/>
<path d="M615.1,323.6h5m-2.5,-2.5v5m-1.8,-4.3l3.6,3.6m-3.6,0l3.6,-3.6" stroke="#56b4e9" stroke-width=".7"/>
<path d="M617,323.2h5m-2.5,-2.5v5m-1.8,-4.3l3.6,3.6m-3.6,0l3.6,-3.6" stroke="#56b4e9" stroke-width=".7"/>
<path d="M618.9,323.9h5m-2.5,-2.5v5m-1.8,-4.3l3.6,3.6m-3.6,0l3.6,-3.6" stroke="#56b4e9" stroke-width=".7"/>
<path d="M621.3,324.5h5m-2.5,-2.5v5m-1.8,-4.3l3.6,3.6m-3.6,0l3.6,-3.6" stroke="#56b4e9" stroke-width=".7"/>
<path d="M624.5,322.7h5m-2.5,-2.5v5m-1.8,-4.3l3.6,3.6m-3.6,0l3.6,-3.6" stroke="#56b4e9" stroke-width=".7"/>
<path d="M627.7,322.6h5m-2.5,-2.5v5m-1.8,-4.3l3.6,3.6m-3.6,0l3.6,-3.6" stroke="#56b4e9" stroke-width=".7"/>
<path d="M630.9,324.5h5m-2.5,-2.5v5m-1.8,-4.3l3.6,3.6m-3.6,0l3.6,-3.6" stroke="#56b4e9" stroke-width=".7"/>
<path d="M634.1,323.7h5m-2.5,-2.5v5m-1.8,-4.3l3.6,3.6m-3.6,0l3.6,-3.6" stroke="#56b4e9" stroke-width=".7"/>
<path d="M637.3,325.1h5m-2.5,-2.5v5m-1.8,-4.3l3.6,3.6m-3.6,0l3.6,-3.6" stroke="#56b4e9" stroke-width=".7"/>
<path d="M640.5,326.1h5m-2.5,-2.5v5m-1.8,-4.3l3.6,3.6m-3.6,0l3.6,-3.6" stroke="#56b4e9" stroke-width=".7"/>
<path d="M643.7,324.4h5m-2.5,-2.5v5m-1.8,-4.3l3.6,3.6m-3.6,0l3.6,-3.6" stroke="#56b4e9" stroke-width=".7"/>
<path d="M646.9,324.4h5m-2.5,-2.5v5m-1.8,-4.3l3.6,3.6m-3.6,0l3.6,-3.6" stroke="#56b4e9" stroke-width=".7"/>
<path d="M650.1,324.7h5m-2.5,-2.5v5m-1.8,-4.3l3.6,3.6m-3.6,0l3.6,-3.6" stroke="#56b4e9" stroke-width=".7"/>
<path d="M653.3,325h5m-2.5,-2.5v5m-1.8,-4.3l3.6,3.6m-3.6,0l3.6,-3.6" stroke="#56b4e9" stroke-width=".7"/>
<path d="M656.5,324.9h5m-2.5,-2.5v5m-1.8,-4.3l3.6,3.6m-3.6,0l3.6,-3.6" stroke="#56b4e9" stroke-width=".7"/>
<path d="M659.7,324.4h5m-2.5,-2.5v5m-1.8,-4.3l3.6,3.6m-3.6,0l3.6,-3.6" stroke="#56b4e9" stroke-width=".7"/>
<path d="M662.9,325.3h5m-2.5,-2.5v5m-1.8,-4.3l3.6,3.6m-3.6,0l3.6,-3.6" stroke="#56b4e9" stroke-width=".7"/>
<path d="M666.1,324h5m-2.5,-2.5v5m-1.8,-4.3l3.6,3.6m-3.6,0l3.6,-3.6" stroke="#56b4e9" stroke-width=".7"/>
<path d="M669.3,325.5h5m-2.5,-2.5v5m-1.8,-4.3l3.6,3.6m-3.6,0l3.6,-3.6" stroke="#56b4e9" stroke-width=".7"/>
<path d="M672.5,325.4h5m-2.5,-2.5v5m-1.8,-4.3l3.6,3.6m-3.6,0l3.6,-3.6" stroke="#56b4e9" stroke-width=".7"/>
<path d="M675.7,326.2h5m-2.5,-2.5v5m-1.8,-4.3l3.6,3.6m-3.6,0l3.6,-3.6" stroke="#56b4e9" stroke-width=".7"/>
<path d="M678.9,325.6h5m-2.5,-2.5v5m-1.8,-4.3l3.6,3.6m-3.6,0l3.6,-3.6" stroke="#56b4e9" stroke-width=".7"/>
<rect x="418.8" y="316.3" width="5" height="5" fill="none" stroke="#e69f00" stroke-width=".7"/>
<rect x="431.2" y="316.3" width="5" height="5" fill="none" stroke="#e69f00" stroke-width=".7"/>
<rect x="440" y="316.3" width="5" height="5" fill="none" stroke="#e69f00" stroke-width=".7"/>
<rect x="446.9" y="316.3" width="5" height="5" fill="none" stroke="#e69f00" stroke-width=".7"/>
<rect x="452.4" y="316.3" width="5" height="5" fill="none" stroke="#e69f00" stroke-width=".7"/>
<rect x="457.2" y="316.3" width="5" height="5" fill="none" stroke="#e69f00" stroke-width=".7"/>
<rect x="461.2" y="316.3" width="5" height="5" fill="none" stroke="#e69f00" stroke-width=".7"/>
<rect x="464.9" y="316.3" width="5" height="5" fill="none" stroke="#e69f00" stroke-width=".7"/>
<rect x="468.1" y="316.3" width="5" height="5" fill="none" stroke="#e69f00" stroke-width=".7"/>
<rect x="471" y="316.3" width="5" height="5" fill="none" stroke="#e69f00" stroke-width=".7"/>
<rect x="473.7" y="316.3" width="5" height="5" fill="none" stroke="#e69f00" stroke-width=".7"/>
<rect x="476.1" y="316.3" width="5" height="5" fill="none" stroke="#e69f00" stroke-width=".7"/>
<rect x="478.4" y="316.3" width="5" height="5" fill="none" stroke="#e69f00" stroke-width=".7"/>
<rect x="480.5" y="316.3" width="5" height="5" fill="none" stroke="#e69f00" stroke-width=".7"/>
<rect x="482.5" y="316.3" width="5" height="5" fill="none" stroke="#e69f00" stroke-width=".7"/>
<rect x="484.3" y="316.3" width="5" height="5" fill="none" stroke="#e69f00" stroke-width=".7"/>
<rect x="486.1" y="316.3" width="5" height="5" fill="none" stroke="#e69f00" stroke-width=".7"/>
<rect x="487.7" y="316.3" width="5" height="5" fill="none" stroke="#e69f00" stroke-width=".7"/>
<rect x="489.3" y="316.3" width="5" height="5" fill="none" stroke="#e69f00" stroke-width=".7"/>
<rect x="490.8" y="316.3" width="5" height="5" fill="none" stroke="#e69f00" stroke-width=".7"/>
<rect x="492.2" y="316.3" width="5" height="5" fill="none" stroke="#e69f00" stroke-width=".7"/>
<rect x="493.6" y="316.3" width="5" height="5" fill="none" stroke="#e69f00" stroke-width=".7"/>
<rect x="494.9" y="316.3" width="5" height="5" fill="none" stroke="#e69f00" stroke-width=".7"/>
<rect x="496.1" y="316.3" width="5" height="5" fill="none" stroke="#e69f00" stroke-width=".7"/>
<rect x="497.3" y="316.3" width="5" height="5" fill="none" stroke="#e69f00" stroke-width=".7"/>
<rect x="498.5" y="316.3" width="5" height="5" fill="none" stroke="#e69f00" stroke-width=".7"/>
<rect x="499.7" y="316.3" width="5" height="5" fill="none" stroke="#e69f00" stroke-width=".7"/>
<rect x="500.9" y="316.3" width="5" height="5" fill="none" stroke="#e69f00" stroke-width=".7"/>
<rect x="502.1" y="316.3" width="5" height="5" fill="none" stroke="#e69f00" stroke-width=".7"/>
<rect x="503.3" y="316.3" width="5" height="5" fill="none" stroke="#e69f00" stroke-width=".7"/>
<rect x="504.5" y="316.3" width="5" height="5" fill="none" stroke="#e69f00" stroke-width=".7"/>
<rect x="505.7" y="316.3" width="5" height="5" fill="none" stroke="#e69f00" stroke-width=".7"/>
<rect x="506.9" y="316.3" width="5" height="5" fill="none" stroke="#e69f00" stroke-width=".7"/>
<rect x="508.1" y="316.3" width="5" height="5" fill="none" stroke="#e69f00" stroke-width=".7"/>
<rect x="509.3" y="316.3" width="5" height="5" fill="none" stroke="#e69f00" stroke-width=".7"/>
<rect x="510.5" y="316.3" width="5" height="5" fill="none" stroke="#e69f00" stroke-width=".7"/>
<rect x="511.7" y="316.3" width="5" height="5" fill="none" stroke="#e69f00" stroke-width=".7"/>
<rect x="512.9" y="316.3" width="5" height="5" fill="none" stroke="#e69f00" stroke-width=".7"/>
<rect x="514.1" y="316.3" width="5" height="5" fill="none" stroke="#e69f00" stroke-width=".7"/>
<rect x="515.3" y="316.3" width="5" height="5" fill="none" stroke="#e69f00" stroke-width=".7"/>
<rect x="516.5" y="316.3" width="5" height="5" fill="none" stroke="#e69f00" stroke-width=".7"/>
<rect x="517.7" y="316.3" width="5" height="5" fill="none" stroke="#e69f00" stroke-width=".7"/>
<rect x="518.9" y="316.3" width="5" height="5" fill="none" stroke="#e69f00" stroke-width=".7"/>
<rect x="520.1" y="316.3" width="5" height="5" fill="none" stroke="#e69f00" stroke-width=".7"/>
<rect x="521.3" y="316.3" width="5" height="5" fill="none" stroke="#e69f00" stroke-width=".7"/>
<rect x="522.5" y="316.3" width="5" height="5" fill="none" stroke="#e69f00" stroke-width=".7"/>
<rect x="523.7" y="316.3" width="5" height="5" fill="none" stroke="#e69f00" stroke-width=".7"/>
<rect x="524.9" y="316.3" width="5" height="5" fill="none" stroke="#e69f00" stroke-width=".7"/>
<rect x="526.1" y="316.3" width="5" height="5" fill="none" stroke="#e69f00" stroke-width=".7"/>
<rect x="527.3" y="316.3" width="5" height="5" fill="none" stroke="#e69f00" stroke-width=".7"/>
<rect x="528.5" y="316.3" width="5" height="5" fill="none" stroke="#e69f00" stroke-width=".7"/>
<rect x="529.7" y="316.3" width="5" height="5" fill="none" stroke="#e69f00" stroke-width=".7"/>
<rect x="530.9" y="316.3" width="5" height="5" fill="none" stroke="#e69f00" stroke-width=".7"/>
<rect x="532.1" y="316.3" width="5" height="5" fill="none" stroke="#e69f00" stroke-width=".7"/>
<rect x="533.3" y="316.3" width="5" height="5" fill="none" stroke="#e69f00" stroke-width=".7"/>
<rect x="534.5" y="316.3" width="5" height="5" fill="none" stroke="#e69f00" stroke-width=".7"/>
<rect x="535.7" y="316.3" width="5" height="5" fill="none" stroke="#e69f00" stroke-width=".7"/>
<rect x="536.9" y="316.3" width="5" height="5" fill="none" stroke="#e69f00" stroke-width=".7"/>
<rect x="538.1" y="316.3" width="5" height="5" fill="none" stroke="#e69f00" stroke-width=".7"/>
<rect x="539.3" y="316.3" width="5" height="5" fill="none" stroke="#e69f00" stroke-width=".7"/>
<rect x="540.5" y="316.3" width="5" height="5" fill="none" stroke="#e69f00" stroke-width=".7"/>
<rect x="541.7" y="316.3" width="5" height="5" fill="none" stroke="#e69f00" stroke-width=".7"/>
<rect x="542.9" y="316.3" width="5" height="5" fill="none" stroke="#e69f00" stroke-width=".7"/>
<rect x="544.1" y="316.3" width="5" height="5" fill="none" stroke="#e69f00" stroke-width=".7"/>
<rect x="545.3" y="316.3" width="5" height="5" fill="none" stroke="#e69f00" stroke-width=".7"/>
<rect x="546.5" y="316.3" width="5" height="5" fill="none" stroke="#e69f00" stroke-width=".7"/>
<rect x="547.7" y="316.3" width="5" height="5" fill="none" stroke="#e69f00" stroke-width=".7"/>
<rect x="548.9" y="316.3" width="5" height="5" fill="none" stroke="#e69f00" stroke-width=".7"/>
<rect x="550.1" y="316.3" width="5" height="5" fill="none" stroke="#e69f00" stroke-width=".7"/>
<rect x="551.3" y="316.3" width="5" height="5" fill="none" stroke="#e69f00" stroke-width=".7"/>
<rect x="552.5" y="316.3" width="5" height="5" fill="none" stroke="#e69f00" stroke-width=".7"/>
<rect x="553.7" y="316.3" width="5" height="5" fill="none" stroke="#e69f00" stroke-width=".7"/>
<rect x="554.9" y="316.3" width="5" height="5" fill="none" stroke="#e69f00" stroke-width=".7"/>
<rect x="556.1" y="316.3" width="5" height="5" fill="none" stroke="#e69f00" stroke-width=".7"/>
<rect x="557.3" y="316.3" width="5" height="5" fill="none" stroke="#e69f00" stroke-width=".7"/>
<polyline points="560,319.2 561.5,319.24 563.4,319.46 565.3,319.91 567.2,320.23 569.1,319.88 571,320.78 572.9,320.67 574.8,320.39 576.7,320.53 578.6,320.94 580.5,320.95 582.4,320.72 584.3,320.61 586.2,321.99 588.1,321.32 590,322.81 591.9,323.33 593.8,322.06 595.7,323.33 597.6,322.32 599.5,324.03 601.4,323.45 603.3,322.09 605.2,322.96 607.1,323.3 609,323.8 610.9,324.66 612.8,322.79 614.7,324.04 616.6,326.02 618.5,324.1 620.4,324.08 622,324.68 625.2,324.07 628.4,325.57 631.6,325.44 634.8,326.13 638,326.45 641.2,327.19 644.4,325.95 647.6,326.58 650.8,325.41 654,327.37 657.2,327.03 660.4,327.35 663.6,327.01 666.8,327.34 670,328.18 673.2,327.58 676.4,327.89 679.6,327.77 682.8,328" fill="none" stroke="#e69f00" stroke-width="0.8" stroke-linejoin="round" stroke-linecap="round"/>
<rect x="559" y="316.7" width="5" height="5" fill="none" stroke="#e69f00" stroke-width=".7"/>
<rect x="560.9" y="317" width="5" height="5" fill="none" stroke="#e69f00" stroke-width=".7"/>
<rect x="562.8" y="317.4" width="5" height="5" fill="none" stroke="#e69f00" stroke-width=".7"/>
<rect x="564.7" y="317.7" width="5" height="5" fill="none" stroke="#e69f00" stroke-width=".7"/>
<rect x="566.6" y="317.4" width="5" height="5" fill="none" stroke="#e69f00" stroke-width=".7"/>
<rect x="568.5" y="318.3" width="5" height="5" fill="none" stroke="#e69f00" stroke-width=".7"/>
<rect x="570.4" y="318.2" width="5" height="5" fill="none" stroke="#e69f00" stroke-width=".7"/>
<rect x="572.3" y="317.9" width="5" height="5" fill="none" stroke="#e69f00" stroke-width=".7"/>
<rect x="574.2" y="318" width="5" height="5" fill="none" stroke="#e69f00" stroke-width=".7"/>
<rect x="576.1" y="318.4" width="5" height="5" fill="none" stroke="#e69f00" stroke-width=".7"/>
<rect x="578" y="318.4" width="5" height="5" fill="none" stroke="#e69f00" stroke-width=".7"/>
<rect x="579.9" y="318.2" width="5" height="5" fill="none" stroke="#e69f00" stroke-width=".7"/>
<rect x="581.8" y="318.1" width="5" height="5" fill="none" stroke="#e69f00" stroke-width=".7"/>
<rect x="583.7" y="319.5" width="5" height="5" fill="none" stroke="#e69f00" stroke-width=".7"/>
<rect x="585.6" y="318.8" width="5" height="5" fill="none" stroke="#e69f00" stroke-width=".7"/>
<rect x="587.5" y="320.3" width="5" height="5" fill="none" stroke="#e69f00" stroke-width=".7"/>
<rect x="589.4" y="320.8" width="5" height="5" fill="none" stroke="#e69f00" stroke-width=".7"/>
<rect x="591.3" y="319.6" width="5" height="5" fill="none" stroke="#e69f00" stroke-width=".7"/>
<rect x="593.2" y="320.8" width="5" height="5" fill="none" stroke="#e69f00" stroke-width=".7"/>
<rect x="595.1" y="319.8" width="5" height="5" fill="none" stroke="#e69f00" stroke-width=".7"/>
<rect x="597" y="321.5" width="5" height="5" fill="none" stroke="#e69f00" stroke-width=".7"/>
<rect x="598.9" y="321" width="5" height="5" fill="none" stroke="#e69f00" stroke-width=".7"/>
<rect x="600.8" y="319.6" width="5" height="5" fill="none" stroke="#e69f00" stroke-width=".7"/>
<rect x="602.7" y="320.5" width="5" height="5" fill="none" stroke="#e69f00" stroke-width=".7"/>
<rect x="604.6" y="320.8" width="5" height="5" fill="none" stroke="#e69f00" stroke-width=".7"/>
<rect x="606.5" y="321.3" width="5" height="5" fill="none" stroke="#e69f00" stroke-width=".7"/>
<rect x="608.4" y="322.2" width="5" height="5" fill="none" stroke="#e69f00" stroke-width=".7"/>
<rect x="610.3" y="320.3" width="5" height="5" fill="none" stroke="#e69f00" stroke-width=".7"/>
<rect x="612.2" y="321.5" width="5" height="5" fill="none" stroke="#e69f00" stroke-width=".7"/>
<rect x="614.1" y="323.5" width="5" height="5" fill="none" stroke="#e69f00" stroke-width=".7"/>
<rect x="616" y="321.6" width="5" height="5" fill="none" stroke="#e69f00" stroke-width=".7"/>
<rect x="617.9" y="321.6" width="5" height="5" fill="none" stroke="#e69f00" stroke-width=".7"/>
<rect x="619.5" y="322.2" width="5" height="5" fill="none" stroke="#e69f00" stroke-width=".7"/>
<rect x="622.7" y="321.6" width="5" height="5" fill="none" stroke="#e69f00" stroke-width=".7"/>
<rect x="625.9" y="323.1" width="5" height="5" fill="none" stroke="#e69f00" stroke-width=".7"/>
<rect x="629.1" y="322.9" width="5" height="5" fill="none" stroke="#e69f00" stroke-width=".7"/>
<rect x="632.3" y="323.6" width="5" height="5" fill="none" stroke="#e69f00" stroke-width=".7"/>
<rect x="635.5" y="324" width="5" height="5" fill="none" stroke="#e69f00" stroke-width=".7"/>
<rect x="638.7" y="324.7" width="5" height="5" fill="none" stroke="#e69f00" stroke-width=".7"/>
<rect x="641.9" y="323.4" width="5" height="5" fill="none" stroke="#e69f00" stroke-width=".7"/>
<rect x="645.1" y="324.1" width="5" height="5" fill="none" stroke="#e69f00" stroke-width=".7"/>
<rect x="648.3" y="322.9" width="5" height="5" fill="none" stroke="#e69f00" stroke-width=".7"/>
<rect x="651.5" y="324.9" width="5" height="5" fill="none" stroke="#e69f00" stroke-width=".7"/>
<rect x="654.7" y="324.5" width="5" height="5" fill="none" stroke="#e69f00" stroke-width=".7"/>
<rect x="657.9" y="324.8" width="5" height="5" fill="none" stroke="#e69f00" stroke-width=".7"/>
<rect x="661.1" y="324.5" width="5" height="5" fill="none" stroke="#e69f00" stroke-width=".7"/>
<rect x="664.3" y="324.8" width="5" height="5" fill="none" stroke="#e69f00" stroke-width=".7"/>
<rect x="667.5" y="325.7" width="5" height="5" fill="none" stroke="#e69f00" stroke-width=".7"/>
<rect x="670.7" y="325.1" width="5" height="5" fill="none" stroke="#e69f00" stroke-width=".7"/>
<rect x="673.9" y="325.4" width="5" height="5" fill="none" stroke="#e69f00" stroke-width=".7"/>
<rect x="677.1" y="325.3" width="5" height="5" fill="none" stroke="#e69f00" stroke-width=".7"/>
<rect x="680.3" y="325.5" width="5" height="5" fill="none" stroke="#e69f00" stroke-width=".7"/>
<rect x="418.3" y="315.8" width="6" height="6" fill="#f0e442"/>
<rect x="430.7" y="315.8" width="6" height="6" fill="#f0e442"/>
<rect x="439.5" y="315.8" width="6" height="6" fill="#f0e442"/>
<rect x="446.4" y="315.8" width="6" height="6" fill="#f0e442"/>
<rect x="451.9" y="315.8" width="6" height="6" fill="#f0e442"/>
<rect x="456.7" y="315.8" width="6" height="6" fill="#f0e442"/>
<rect x="460.7" y="315.8" width="6" height="6" fill="#f0e442"/>
<rect x="464.4" y="315.8" width="6" height="6" fill="#f0e442"/>
<rect x="467.6" y="315.8" width="6" height="6" fill="#f0e442"/>
<rect x="470.5" y="315.8" width="6" height="6" fill="#f0e442"/>
<rect x="473.2" y="315.8" width="6" height="6" fill="#f0e442"/>
<rect x="475.6" y="315.8" width="6" height="6" fill="#f0e442"/>
<rect x="477.9" y="315.8" width="6" height="6" fill="#f0e442"/>
<rect x="480" y="315.8" width="6" height="6" fill="#f0e442"/>
<rect x="482" y="315.8" width="6" height="6" fill="#f0e442"/>
<rect x="483.8" y="315.8" width="6" height="6" fill="#f0e442"/>
<rect x="485.6" y="315.8" width="6" height="6" fill="#f0e442"/>
<rect x="487.2" y="315.8" width="6" height="6" fill="#f0e442"/>
<rect x="488.8" y="315.8" width="6" height="6" fill="#f0e442"/>
<rect x="490.3" y="315.8" width="6" height="6" fill="#f0e442"/>
<rect x="491.7" y="315.8" width="6" height="6" fill="#f0e442"/>
<rect x="493.1" y="315.8" width="6" height="6" fill="#f0e442"/>
<rect x="494.4" y="315.8" width="6" height="6" fill="#f0e442"/>
<rect x="495.6" y="315.8" width="6" height="6" fill="#f0e442"/>
<rect x="496.8" y="315.8" width="6" height="6" fill="#f0e442"/>
<rect x="498" y="315.8" width="6" height="6" fill="#f0e442"/>
<rect x="499.2" y="315.8" width="6" height="6" fill="#f0e442"/>
<rect x="500.4" y="315.8" width="6" height="6" fill="#f0e442"/>
<rect x="501.6" y="315.8" width="6" height="6" fill="#f0e442"/>
<rect x="502.8" y="315.8" width="6" height="6" fill="#f0e442"/>
<rect x="504" y="315.8" width="6" height="6" fill="#f0e442"/>
<rect x="505.2" y="315.8" width="6" height="6" fill="#f0e442"/>
<rect x="506.4" y="315.8" width="6" height="6" fill="#f0e442"/>
<rect x="507.6" y="315.8" width="6" height="6" fill="#f0e442"/>
<rect x="508.8" y="315.8" width="6" height="6" fill="#f0e442"/>
<rect x="510" y="315.8" width="6" height="6" fill="#f0e442"/>
<rect x="511.2" y="315.8" width="6" height="6" fill="#f0e442"/>
<rect x="512.4" y="315.8" width="6" height="6" fill="#f0e442"/>
<rect x="513.6" y="315.8" width="6" height="6" fill="#f0e442"/>
<rect x="514.8" y="315.8" width="6" height="6" fill="#f0e442"/>
<rect x="516" y="315.8" width="6" height="6" fill="#f0e442"/>
<rect x="517.2" y="315.8" width="6" height="6" fill="#f0e442"/>
<rect x="518.4" y="315.8" width="6" height="6" fill="#f0e442"/>
<rect x="519.6" y="315.8" width="6" height="6" fill="#f0e442"/>
<rect x="520.8" y="315.8" width="6" height="6" fill="#f0e442"/>
<rect x="522" y="315.8" width="6" height="6" fill="#f0e442"/>
<rect x="523.2" y="315.8" width="6" height="6" fill="#f0e442"/>
<rect x="524.4" y="315.8" width="6" height="6" fill="#f0e442"/>
<rect x="525.6" y="315.8" width="6" height="6" fill="#f0e442"/>
<rect x="526.8" y="315.8" width="6" height="6" fill="#f0e442"/>
<rect x="528" y="315.8" width="6" height="6" fill="#f0e442"/>
<rect x="529.2" y="315.8" width="6" height="6" fill="#f0e442"/>
<rect x="530.4" y="315.8" width="6" height="6" fill="#f0e442"/>
<rect x="531.6" y="315.8" width="6" height="6" fill="#f0e442"/>
<rect x="532.8" y="315.8" width="6" height="6" fill="#f0e442"/>
<rect x="534" y="315.8" width="6" height="6" fill="#f0e442"/>
<rect x="535.2" y="315.8" width="6" height="6" fill="#f0e442"/>
<rect x="536.4" y="315.8" width="6" height="6" fill="#f0e442"/>
<rect x="537.6" y="315.8" width="6" height="6" fill="#f0e442"/>
<rect x="538.8" y="315.8" width="6" height="6" fill="#f0e442"/>
<rect x="540" y="315.8" width="6" height="6" fill="#f0e442"/>
<rect x="541.2" y="315.8" width="6" height="6" fill="#f0e442"/>
<rect x="542.4" y="315.8" width="6" height="6" fill="#f0e442"/>
<rect x="543.6" y="315.8" width="6" height="6" fill="#f0e442"/>
<rect x="544.8" y="315.8" width="6" height="6" fill="#f0e442"/>
<rect x="546" y="315.8" width="6" height="6" fill="#f0e442"/>
<rect x="547.2" y="315.8" width="6" height="6" fill="#f0e442"/>
<rect x="548.4" y="315.8" width="6" height="6" fill="#f0e442"/>
<rect x="549.6" y="315.8" width="6" height="6" fill="#f0e442"/>
<rect x="550.8" y="315.8" width="6" height="6" fill="#f0e442"/>
<rect x="552" y="315.8" width="6" height="6" fill="#f0e442"/>
<rect x="553.2" y="315.8" width="6" height="6" fill="#f0e442"/>
<rect x="554.4" y="315.8" width="6" height="6" fill="#f0e442"/>
<rect x="555.6" y="315.8" width="6" height="6" fill="#f0e442"/>
<rect x="556.8" y="315.8" width="6" height="6" fill="#f0e442"/>
<polyline points="560,319.2 562,319.57 563.9,319.59 565.8,320.18 567.7,320.13 569.6,320.09 571.5,320.05 573.4,320.21 575.3,320.7 577.2,320.18 579.1,321 581,320.65 582.9,320.97 584.8,321.32 586.7,322.2 588.6,322.09 590.5,322.97 592.4,322.75 594.3,321.99 596.2,322.8 598.1,322.38 600,324.41 601.9,322.69 603.8,323.74 605.7,322.99 607.6,324.03 609.5,324.81 611.4,324.7 613.3,324.94 615.2,325.27 617.1,324.33 619,324.42 620.9,324.68 622.9,325.18 626.1,324.96 629.3,324.49 632.5,325.95 635.7,325.56 638.9,326.66 642.1,326.21 645.3,325.84 648.5,327.4 651.7,327.81 654.9,327.37 658.1,327.28 661.3,326.92 664.5,328.92 667.7,327.42 670.9,328.79 674.1,329.8 677.3,328.78 680.5,327.84" fill="none" stroke="#f0e442" stroke-width="0.8" stroke-linejoin="round" stroke-linecap="round"/>
<rect x="559" y="316.6" width="6" height="6" fill="#f0e442"/>
<rect x="560.9" y="316.6" width="6" height="6" fill="#f0e442"/>
<rect x="562.8" y="317.2" width="6" height="6" fill="#f0e442"/>
<rect x="564.7" y="317.1" width="6" height="6" fill="#f0e442"/>
<rect x="566.6" y="317.1" width="6" height="6" fill="#f0e442"/>
<rect x="568.5" y="317.1" width="6" height="6" fill="#f0e442"/>
<rect x="570.4" y="317.2" width="6" height="6" fill="#f0e442"/>
<rect x="572.3" y="317.7" width="6" height="6" fill="#f0e442"/>
<rect x="574.2" y="317.2" width="6" height="6" fill="#f0e442"/>
<rect x="576.1" y="318" width="6" height="6" fill="#f0e442"/>
<rect x="578" y="317.6" width="6" height="6" fill="#f0e442"/>
<rect x="579.9" y="318" width="6" height="6" fill="#f0e442"/>
<rect x="581.8" y="318.3" width="6" height="6" fill="#f0e442"/>
<rect x="583.7" y="319.2" width="6" height="6" fill="#f0e442"/>
<rect x="585.6" y="319.1" width="6" height="6" fill="#f0e442"/>
<rect x="587.5" y="320" width="6" height="6" fill="#f0e442"/>
<rect x="589.4" y="319.7" width="6" height="6" fill="#f0e442"/>
<rect x="591.3" y="319" width="6" height="6" fill="#f0e442"/>
<rect x="593.2" y="319.8" width="6" height="6" fill="#f0e442"/>
<rect x="595.1" y="319.4" width="6" height="6" fill="#f0e442"/>
<rect x="597" y="321.4" width="6" height="6" fill="#f0e442"/>
<rect x="598.9" y="319.7" width="6" height="6" fill="#f0e442"/>
<rect x="600.8" y="320.7" width="6" height="6" fill="#f0e442"/>
<rect x="602.7" y="320" width="6" height="6" fill="#f0e442"/>
<rect x="604.6" y="321" width="6" height="6" fill="#f0e442"/>
<rect x="606.5" y="321.8" width="6" height="6" fill="#f0e442"/>
<rect x="608.4" y="321.7" width="6" height="6" fill="#f0e442"/>
<rect x="610.3" y="321.9" width="6" height="6" fill="#f0e442"/>
<rect x="612.2" y="322.3" width="6" height="6" fill="#f0e442"/>
<rect x="614.1" y="321.3" width="6" height="6" fill="#f0e442"/>
<rect x="616" y="321.4" width="6" height="6" fill="#f0e442"/>
<rect x="617.9" y="321.7" width="6" height="6" fill="#f0e442"/>
<rect x="619.9" y="322.2" width="6" height="6" fill="#f0e442"/>
<rect x="623.1" y="322" width="6" height="6" fill="#f0e442"/>
<rect x="626.3" y="321.5" width="6" height="6" fill="#f0e442"/>
<rect x="629.5" y="323" width="6" height="6" fill="#f0e442"/>
<rect x="632.7" y="322.6" width="6" height="6" fill="#f0e442"/>
<rect x="635.9" y="323.7" width="6" height="6" fill="#f0e442"/>
<rect x="639.1" y="323.2" width="6" height="6" fill="#f0e442"/>
<rect x="642.3" y="322.8" width="6" height="6" fill="#f0e442"/>
<rect x="645.5" y="324.4" width="6" height="6" fill="#f0e442"/>
<rect x="648.7" y="324.8" width="6" height="6" fill="#f0e442"/>
<rect x="651.9" y="324.4" width="6" height="6" fill="#f0e442"/>
<rect x="655.1" y="324.3" width="6" height="6" fill="#f0e442"/>
<rect x="658.3" y="323.9" width="6" height="6" fill="#f0e442"/>
<rect x="661.5" y="325.9" width="6" height="6" fill="#f0e442"/>
<rect x="664.7" y="324.4" width="6" height="6" fill="#f0e442"/>
<rect x="667.9" y="325.8" width="6" height="6" fill="#f0e442"/>
<rect x="671.1" y="326.8" width="6" height="6" fill="#f0e442"/>
<rect x="674.3" y="325.8" width="6" height="6" fill="#f0e442"/>
<rect x="677.5" y="324.8" width="6" height="6" fill="#f0e442"/>
<circle cx="421.3" cy="318.8" r="2.3" fill="none" stroke="#0072b2" stroke-width=".8"/>
<circle cx="433.7" cy="318.8" r="2.3" fill="none" stroke="#0072b2" stroke-width=".8"/>
<circle cx="442.5" cy="318.8" r="2.3" fill="none" stroke="#0072b2" stroke-width=".8"/>
<circle cx="449.4" cy="318.8" r="2.3" fill="none" stroke="#0072b2" stroke-width=".8"/>
<circle cx="454.9" cy="318.8" r="2.3" fill="none" stroke="#0072b2" stroke-width=".8"/>
<circle cx="459.7" cy="318.8" r="2.3" fill="none" stroke="#0072b2" stroke-width=".8"/>
<circle cx="463.7" cy="318.8" r="2.3" fill="none" stroke="#0072b2" stroke-width=".8"/>
<circle cx="467.4" cy="318.8" r="2.3" fill="none" stroke="#0072b2" stroke-width=".8"/>
<circle cx="470.6" cy="318.8" r="2.3" fill="none" stroke="#0072b2" stroke-width=".8"/>
<circle cx="473.5" cy="318.8" r="2.3" fill="none" stroke="#0072b2" stroke-width=".8"/>
<circle cx="476.2" cy="318.8" r="2.3" fill="none" stroke="#0072b2" stroke-width=".8"/>
<circle cx="478.6" cy="318.8" r="2.3" fill="none" stroke="#0072b2" stroke-width=".8"/>
<circle cx="480.9" cy="318.8" r="2.3" fill="none" stroke="#0072b2" stroke-width=".8"/>
<circle cx="483" cy="318.8" r="2.3" fill="none" stroke="#0072b2" stroke-width=".8"/>
<circle cx="485" cy="318.8" r="2.3" fill="none" stroke="#0072b2" stroke-width=".8"/>
<circle cx="486.8" cy="318.8" r="2.3" fill="none" stroke="#0072b2" stroke-width=".8"/>
<circle cx="488.6" cy="318.8" r="2.3" fill="none" stroke="#0072b2" stroke-width=".8"/>
<circle cx="490.2" cy="318.8" r="2.3" fill="none" stroke="#0072b2" stroke-width=".8"/>
<circle cx="491.8" cy="318.8" r="2.3" fill="none" stroke="#0072b2" stroke-width=".8"/>
<circle cx="493.3" cy="318.8" r="2.3" fill="none" stroke="#0072b2" stroke-width=".8"/>
<circle cx="494.7" cy="318.8" r="2.3" fill="none" stroke="#0072b2" stroke-width=".8"/>
<circle cx="496.1" cy="318.8" r="2.3" fill="none" stroke="#0072b2" stroke-width=".8"/>
<circle cx="497.4" cy="318.8" r="2.3" fill="none" stroke="#0072b2" stroke-width=".8"/>
<circle cx="498.6" cy="318.8" r="2.3" fill="none" stroke="#0072b2" stroke-width=".8"/>
<circle cx="499.8" cy="318.8" r="2.3" fill="none" stroke="#0072b2" stroke-width=".8"/>
<circle cx="501" cy="318.8" r="2.3" fill="none" stroke="#0072b2" stroke-width=".8"/>
<circle cx="502.2" cy="318.8" r="2.3" fill="none" stroke="#0072b2" stroke-width=".8"/>
<circle cx="503.4" cy="318.8" r="2.3" fill="none" stroke="#0072b2" stroke-width=".8"/>
<circle cx="504.6" cy="318.8" r="2.3" fill="none" stroke="#0072b2" stroke-width=".8"/>
<circle cx="505.8" cy="318.8" r="2.3" fill="none" stroke="#0072b2" stroke-width=".8"/>
<circle cx="507" cy="318.8" r="2.3" fill="none" stroke="#0072b2" stroke-width=".8"/>
<circle cx="508.2" cy="318.8" r="2.3" fill="none" stroke="#0072b2" stroke-width=".8"/>
<circle cx="509.4" cy="318.8" r="2.3" fill="none" stroke="#0072b2" stroke-width=".8"/>
<circle cx="510.6" cy="318.8" r="2.3" fill="none" stroke="#0072b2" stroke-width=".8"/>
<circle cx="511.8" cy="318.8" r="2.3" fill="none" stroke="#0072b2" stroke-width=".8"/>
<circle cx="513" cy="318.8" r="2.3" fill="none" stroke="#0072b2" stroke-width=".8"/>
<circle cx="514.2" cy="318.8" r="2.3" fill="none" stroke="#0072b2" stroke-width=".8"/>
<circle cx="515.4" cy="318.8" r="2.3" fill="none" stroke="#0072b2" stroke-width=".8"/>
<circle cx="516.6" cy="318.8" r="2.3" fill="none" stroke="#0072b2" stroke-width=".8"/>
<circle cx="517.8" cy="318.8" r="2.3" fill="none" stroke="#0072b2" stroke-width=".8"/>
<circle cx="519" cy="318.8" r="2.3" fill="none" stroke="#0072b2" stroke-width=".8"/>
<circle cx="520.2" cy="318.8" r="2.3" fill="none" stroke="#0072b2" stroke-width=".8"/>
<circle cx="521.4" cy="318.8" r="2.3" fill="none" stroke="#0072b2" stroke-width=".8"/>
<circle cx="522.6" cy="318.8" r="2.3" fill="none" stroke="#0072b2" stroke-width=".8"/>
<circle cx="523.8" cy="318.8" r="2.3" fill="none" stroke="#0072b2" stroke-width=".8"/>
<circle cx="525" cy="318.8" r="2.3" fill="none" stroke="#0072b2" stroke-width=".8"/>
<circle cx="526.2" cy="318.8" r="2.3" fill="none" stroke="#0072b2" stroke-width=".8"/>
<circle cx="527.4" cy="318.8" r="2.3" fill="none" stroke="#0072b2" stroke-width=".8"/>
<circle cx="528.6" cy="318.8" r="2.3" fill="none" stroke="#0072b2" stroke-width=".8"/>
<circle cx="529.8" cy="318.8" r="2.3" fill="none" stroke="#0072b2" stroke-width=".8"/>
<circle cx="531" cy="318.8" r="2.3" fill="none" stroke="#0072b2" stroke-width=".8"/>
<circle cx="532.2" cy="318.8" r="2.3" fill="none" stroke="#0072b2" stroke-width=".8"/>
<circle cx="533.4" cy="318.8" r="2.3" fill="none" stroke="#0072b2" stroke-width=".8"/>
<circle cx="534.6" cy="318.8" r="2.3" fill="none" stroke="#0072b2" stroke-width=".8"/>
<circle cx="535.8" cy="318.8" r="2.3" fill="none" stroke="#0072b2" stroke-width=".8"/>
<circle cx="537" cy="318.8" r="2.3" fill="none" stroke="#0072b2" stroke-width=".8"/>
<circle cx="538.2" cy="318.8" r="2.3" fill="none" stroke="#0072b2" stroke-width=".8"/>
<circle cx="539.4" cy="318.8" r="2.3" fill="none" stroke="#0072b2" stroke-width=".8"/>
<circle cx="540.6" cy="318.8" r="2.3" fill="none" stroke="#0072b2" stroke-width=".8"/>
<circle cx="541.8" cy="318.8" r="2.3" fill="none" stroke="#0072b2" stroke-width=".8"/>
<circle cx="543" cy="318.8" r="2.3" fill="none" stroke="#0072b2" stroke-width=".8"/>
<circle cx="544.2" cy="318.8" r="2.3" fill="none" stroke="#0072b2" stroke-width=".8"/>
<circle cx="545.4" cy="318.8" r="2.3" fill="none" stroke="#0072b2" stroke-width=".8"/>
<circle cx="546.6" cy="318.8" r="2.3" fill="none" stroke="#0072b2" stroke-width=".8"/>
<circle cx="547.8" cy="318.8" r="2.3" fill="none" stroke="#0072b2" stroke-width=".8"/>
<circle cx="549" cy="318.8" r="2.3" fill="none" stroke="#0072b2" stroke-width=".8"/>
<circle cx="550.2" cy="318.8" r="2.3" fill="none" stroke="#0072b2" stroke-width=".8"/>
<circle cx="551.4" cy="318.8" r="2.3" fill="none" stroke="#0072b2" stroke-width=".8"/>
<circle cx="552.6" cy="318.8" r="2.3" fill="none" stroke="#0072b2" stroke-width=".8"/>
<circle cx="553.8" cy="318.8" r="2.3" fill="none" stroke="#0072b2" stroke-width=".8"/>
<circle cx="555" cy="318.8" r="2.3" fill="none" stroke="#0072b2" stroke-width=".8"/>
<circle cx="556.2" cy="318.8" r="2.3" fill="none" stroke="#0072b2" stroke-width=".8"/>
<circle cx="557.4" cy="318.8" r="2.3" fill="none" stroke="#0072b2" stroke-width=".8"/>
<circle cx="558.6" cy="318.8" r="2.3" fill="none" stroke="#0072b2" stroke-width=".8"/>
<circle cx="559.8" cy="318.8" r="2.3" fill="none" stroke="#0072b2" stroke-width=".8"/>
<polyline points="560,319 562.5,319.16 564.4,319.77 566.3,319.95 568.2,319.85 570.1,319.99 572,320.05 573.9,320.39 575.8,320.7 577.7,320.57 579.6,321.22 581.5,320.97 583.4,321.35 585.3,320.33 587.2,322.28 589.1,321.27 591,322.08 592.9,321.26 594.8,323.16 596.7,321.89 598.6,321.08 600.5,321.76 602.4,322.55 604.3,321.96 606.2,323.27 608.1,322.91 610,321.67 611.9,322.43 613.8,322.82 615.7,323.32 617.6,323.4 619.5,323.11 621.4,322.81 623.8,323.27 627,324.18 630.2,323.47 633.4,323.26 636.6,323.58 639.8,324.81 643,324.06 646.2,322.6 649.4,324.6 652.6,324.5 655.8,324.06 659,323.6 662.2,324.43 665.4,322.54 668.6,325.07 671.8,324.24 675,324.66 678.2,325.55 681.4,325.2" fill="none" stroke="#0072b2" stroke-width="0.8" stroke-linejoin="round" stroke-linecap="round"/>
<circle cx="562.5" cy="319.2" r="2.3" fill="none" stroke="#0072b2" stroke-width=".8"/>
<circle cx="564.4" cy="319.8" r="2.3" fill="none" stroke="#0072b2" stroke-width=".8"/>
<circle cx="566.3" cy="319.9" r="2.3" fill="none" stroke="#0072b2" stroke-width=".8"/>
<circle cx="568.2" cy="319.8" r="2.3" fill="none" stroke="#0072b2" stroke-width=".8"/>
<circle cx="570.1" cy="320" r="2.3" fill="none" stroke="#0072b2" stroke-width=".8"/>
<circle cx="572" cy="320" r="2.3" fill="none" stroke="#0072b2" stroke-width=".8"/>
<circle cx="573.9" cy="320.4" r="2.3" fill="none" stroke="#0072b2" stroke-width=".8"/>
<circle cx="575.8" cy="320.7" r="2.3" fill="none" stroke="#0072b2" stroke-width=".8"/>
<circle cx="577.7" cy="320.6" r="2.3" fill="none" stroke="#0072b2" stroke-width=".8"/>
<circle cx="579.6" cy="321.2" r="2.3" fill="none" stroke="#0072b2" stroke-width=".8"/>
<circle cx="581.5" cy="321" r="2.3" fill="none" stroke="#0072b2" stroke-width=".8"/>
<circle cx="583.4" cy="321.4" r="2.3" fill="none" stroke="#0072b2" stroke-width=".8"/>
<circle cx="585.3" cy="320.3" r="2.3" fill="none" stroke="#0072b2" stroke-width=".8"/>
<circle cx="587.2" cy="322.3" r="2.3" fill="none" stroke="#0072b2" stroke-width=".8"/>
<circle cx="589.1" cy="321.3" r="2.3" fill="none" stroke="#0072b2" stroke-width=".8"/>
<circle cx="591" cy="322.1" r="2.3" fill="none" stroke="#0072b2" stroke-width=".8"/>
<circle cx="592.9" cy="321.3" r="2.3" fill="none" stroke="#0072b2" stroke-width=".8"/>
<circle cx="594.8" cy="323.2" r="2.3" fill="none" stroke="#0072b2" stroke-width=".8"/>
<circle cx="596.7" cy="321.9" r="2.3" fill="none" stroke="#0072b2" stroke-width=".8"/>
<circle cx="598.6" cy="321.1" r="2.3" fill="none" stroke="#0072b2" stroke-width=".8"/>
<circle cx="600.5" cy="321.8" r="2.3" fill="none" stroke="#0072b2" stroke-width=".8"/>
<circle cx="602.4" cy="322.6" r="2.3" fill="none" stroke="#0072b2" stroke-width=".8"/>
<circle cx="604.3" cy="322" r="2.3" fill="none" stroke="#0072b2" stroke-width=".8"/>
<circle cx="606.2" cy="323.3" r="2.3" fill="none" stroke="#0072b2" stroke-width=".8"/>
<circle cx="608.1" cy="322.9" r="2.3" fill="none" stroke="#0072b2" stroke-width=".8"/>
<circle cx="610" cy="321.7" r="2.3" fill="none" stroke="#0072b2" stroke-width=".8"/>
<circle cx="611.9" cy="322.4" r="2.3" fill="none" stroke="#0072b2" stroke-width=".8"/>
<circle cx="613.8" cy="322.8" r="2.3" fill="none" stroke="#0072b2" stroke-width=".8"/>
<circle cx="615.7" cy="323.3" r="2.3" fill="none" stroke="#0072b2" stroke-width=".8"/>
<circle cx="617.6" cy="323.4" r="2.3" fill="none" stroke="#0072b2" stroke-width=".8"/>
<circle cx="619.5" cy="323.1" r="2.3" fill="none" stroke="#0072b2" stroke-width=".8"/>
<circle cx="621.4" cy="322.8" r="2.3" fill="none" stroke="#0072b2" stroke-width=".8"/>
<circle cx="623.8" cy="323.3" r="2.3" fill="none" stroke="#0072b2" stroke-width=".8"/>
<circle cx="627" cy="324.2" r="2.3" fill="none" stroke="#0072b2" stroke-width=".8"/>
<circle cx="630.2" cy="323.5" r="2.3" fill="none" stroke="#0072b2" stroke-width=".8"/>
<circle cx="633.4" cy="323.3" r="2.3" fill="none" stroke="#0072b2" stroke-width=".8"/>
<circle cx="636.6" cy="323.6" r="2.3" fill="none" stroke="#0072b2" stroke-width=".8"/>
<circle cx="639.8" cy="324.8" r="2.3" fill="none" stroke="#0072b2" stroke-width=".8"/>
<circle cx="643" cy="324.1" r="2.3" fill="none" stroke="#0072b2" stroke-width=".8"/>
<circle cx="646.2" cy="322.6" r="2.3" fill="none" stroke="#0072b2" stroke-width=".8"/>
<circle cx="649.4" cy="324.6" r="2.3" fill="none" stroke="#0072b2" stroke-width=".8"/>
<circle cx="652.6" cy="324.5" r="2.3" fill="none" stroke="#0072b2" stroke-width=".8"/>
<circle cx="655.8" cy="324.1" r="2.3" fill="none" stroke="#0072b2" stroke-width=".8"/>
<circle cx="659" cy="323.6" r="2.3" fill="none" stroke="#0072b2" stroke-width=".8"/>
<circle cx="662.2" cy="324.4" r="2.3" fill="none" stroke="#0072b2" stroke-width=".8"/>
<circle cx="665.4" cy="322.5" r="2.3" fill="none" stroke="#0072b2" stroke-width=".8"/>
<circle cx="668.6" cy="325.1" r="2.3" fill="none" stroke="#0072b2" stroke-width=".8"/>
<circle cx="671.8" cy="324.2" r="2.3" fill="none" stroke="#0072b2" stroke-width=".8"/>
<circle cx="675" cy="324.7" r="2.3" fill="none" stroke="#0072b2" stroke-width=".8"/>
<circle cx="678.2" cy="325.5" r="2.3" fill="none" stroke="#0072b2" stroke-width=".8"/>
<circle cx="681.4" cy="325.2" r="2.3" fill="none" stroke="#0072b2" stroke-width=".8"/>
<circle cx="421.3" cy="318.8" r="2.75" fill="#e51e10"/>
<circle cx="433.7" cy="318.8" r="2.75" fill="#e51e10"/>
<circle cx="442.5" cy="318.8" r="2.75" fill="#e51e10"/>
<circle cx="449.4" cy="318.8" r="2.75" fill="#e51e10"/>
<circle cx="454.9" cy="318.8" r="2.75" fill="#e51e10"/>
<circle cx="459.7" cy="318.8" r="2.75" fill="#e51e10"/>
<circle cx="463.7" cy="318.8" r="2.75" fill="#e51e10"/>
<circle cx="467.4" cy="318.8" r="2.75" fill="#e51e10"/>
<circle cx="470.6" cy="318.8" r="2.75" fill="#e51e10"/>
<circle cx="473.5" cy="318.8" r="2.75" fill="#e51e10"/>
<circle cx="476.2" cy="318.8" r="2.75" fill="#e51e10"/>
<circle cx="478.6" cy="318.8" r="2.75" fill="#e51e10"/>
<circle cx="480.9" cy="318.8" r="2.75" fill="#e51e10"/>
<circle cx="483" cy="318.8" r="2.75" fill="#e51e10"/>
<circle cx="485" cy="318.8" r="2.75" fill="#e51e10"/>
<circle cx="486.8" cy="318.8" r="2.75" fill="#e51e10"/>
<circle cx="488.6" cy="318.8" r="2.75" fill="#e51e10"/>
<circle cx="490.2" cy="318.8" r="2.75" fill="#e51e10"/>
<circle cx="491.8" cy="318.8" r="2.75" fill="#e51e10"/>
<circle cx="493.3" cy="318.8" r="2.75" fill="#e51e10"/>
<circle cx="494.7" cy="318.8" r="2.75" fill="#e51e10"/>
<circle cx="496.1" cy="318.8" r="2.75" fill="#e51e10"/>
<circle cx="497.4" cy="318.8" r="2.75" fill="#e51e10"/>
<circle cx="498.6" cy="318.8" r="2.75" fill="#e51e10"/>
<circle cx="499.8" cy="318.8" r="2.75" fill="#e51e10"/>
<circle cx="501" cy="318.8" r="2.75" fill="#e51e10"/>
<circle cx="502.2" cy="318.8" r="2.75" fill="#e51e10"/>
<circle cx="503.4" cy="318.8" r="2.75" fill="#e51e10"/>
<circle cx="504.6" cy="318.8" r="2.75" fill="#e51e10"/>
<circle cx="505.8" cy="318.8" r="2.75" fill="#e51e10"/>
<circle cx="507" cy="318.8" r="2.75" fill="#e51e10"/>
<circle cx="508.2" cy="318.8" r="2.75" fill="#e51e10"/>
<circle cx="509.4" cy="318.8" r="2.75" fill="#e51e10"/>
<circle cx="510.6" cy="318.8" r="2.75" fill="#e51e10"/>
<circle cx="511.8" cy="318.8" r="2.75" fill="#e51e10"/>
<circle cx="513" cy="318.8" r="2.75" fill="#e51e10"/>
<circle cx="514.2" cy="318.8" r="2.75" fill="#e51e10"/>
<circle cx="515.4" cy="318.8" r="2.75" fill="#e51e10"/>
<circle cx="516.6" cy="318.8" r="2.75" fill="#e51e10"/>
<circle cx="517.8" cy="318.8" r="2.75" fill="#e51e10"/>
<circle cx="519" cy="318.8" r="2.75" fill="#e51e10"/>
<circle cx="520.2" cy="318.8" r="2.75" fill="#e51e10"/>
<circle cx="521.4" cy="318.8" r="2.75" fill="#e51e10"/>
<circle cx="522.6" cy="318.8" r="2.75" fill="#e51e10"/>
<circle cx="523.8" cy="318.8" r="2.75" fill="#e51e10"/>
<circle cx="525" cy="318.8" r="2.75" fill="#e51e10"/>
<circle cx="526.2" cy="318.8" r="2.75" fill="#e51e10"/>
<circle cx="527.4" cy="318.8" r="2.75" fill="#e51e10"/>
<circle cx="528.6" cy="318.8" r="2.75" fill="#e51e10"/>
<circle cx="529.8" cy="318.8" r="2.75" fill="#e51e10"/>
<circle cx="531" cy="318.8" r="2.75" fill="#e51e10"/>
<circle cx="532.2" cy="318.8" r="2.75" fill="#e51e10"/>
<circle cx="533.4" cy="318.8" r="2.75" fill="#e51e10"/>
<circle cx="534.6" cy="318.8" r="2.75" fill="#e51e10"/>
<circle cx="535.8" cy="318.8" r="2.75" fill="#e51e10"/>
<circle cx="537" cy="318.8" r="2.75" fill="#e51e10"/>
<circle cx="538.2" cy="318.8" r="2.75" fill="#e51e10"/>
<circle cx="539.4" cy="318.8" r="2.75" fill="#e51e10"/>
<circle cx="540.6" cy="318.8" r="2.75" fill="#e51e10"/>
<circle cx="541.8" cy="318.8" r="2.75" fill="#e51e10"/>
<circle cx="543" cy="318.8" r="2.75" fill="#e51e10"/>
<circle cx="544.2" cy="318.8" r="2.75" fill="#e51e10"/>
<circle cx="545.4" cy="318.8" r="2.75" fill="#e51e10"/>
<circle cx="546.6" cy="318.8" r="2.75" fill="#e51e10"/>
<circle cx="547.8" cy="318.8" r="2.75" fill="#e51e10"/>
<circle cx="549" cy="318.8" r="2.75" fill="#e51e10"/>
<circle cx="550.2" cy="318.8" r="2.75" fill="#e51e10"/>
<circle cx="551.4" cy="318.8" r="2.75" fill="#e51e10"/>
<circle cx="552.6" cy="318.8" r="2.75" fill="#e51e10"/>
<circle cx="553.8" cy="318.8" r="2.75" fill="#e51e10"/>
<circle cx="555" cy="318.8" r="2.75" fill="#e51e10"/>
<circle cx="556.2" cy="318.8" r="2.75" fill="#e51e10"/>
<circle cx="557.4" cy="318.8" r="2.75" fill="#e51e10"/>
<circle cx="558.6" cy="318.8" r="2.75" fill="#e51e10"/>
<circle cx="559.8" cy="318.8" r="2.75" fill="#e51e10"/>
<polyline points="560,319 561.5,319.25 563.4,319.22 565.3,319.61 567.2,319.52 569.1,319.43 571,319.42 572.9,319.23 574.8,319.01 576.7,319.58 578.6,320.09 580.5,319.36 582.4,319.11 584.3,319.27 586.2,319.71 588.1,319.75 590,320.74 591.9,318.62 593.8,319.6 595.7,319.07 597.6,318.14 599.5,319.56 601.4,318.38 603.3,318.14 605.2,318.79 607.1,317.69 609,318.64 610.9,318.73 612.8,318.46 614.7,317.48 616.6,317.86 618.5,319.96 620.4,318.25 622,318.04 624.2,319.62 626.4,319.59 628.6,318.79 630.8,318.4 633,318.32 635.2,317.14 637.4,318.29 639.6,319.79 641.8,319.26 644,319.29 646.2,319.56 648.4,319.78 650.6,320.5 652.8,319.62 655,320.23 657.2,320.5 659.4,319.12 661.6,319.78 663.8,319.84 666,319.57 668.2,320.93 670.4,319.95 672.6,319.15 674.8,319.07 677,318.79 679.2,320.45 681.4,320.19" fill="none" stroke="#e51e10" stroke-width="0.8" stroke-linejoin="round" stroke-linecap="round"/>
<circle cx="561.5" cy="319.3" r="2.75" fill="#e51e10"/>
<circle cx="563.4" cy="319.2" r="2.75" fill="#e51e10"/>
<circle cx="565.3" cy="319.6" r="2.75" fill="#e51e10"/>
<circle cx="567.2" cy="319.5" r="2.75" fill="#e51e10"/>
<circle cx="569.1" cy="319.4" r="2.75" fill="#e51e10"/>
<circle cx="571" cy="319.4" r="2.75" fill="#e51e10"/>
<circle cx="572.9" cy="319.2" r="2.75" fill="#e51e10"/>
<circle cx="574.8" cy="319" r="2.75" fill="#e51e10"/>
<circle cx="576.7" cy="319.6" r="2.75" fill="#e51e10"/>
<circle cx="578.6" cy="320.1" r="2.75" fill="#e51e10"/>
<circle cx="580.5" cy="319.4" r="2.75" fill="#e51e10"/>
<circle cx="582.4" cy="319.1" r="2.75" fill="#e51e10"/>
<circle cx="584.3" cy="319.3" r="2.75" fill="#e51e10"/>
<circle cx="586.2" cy="319.7" r="2.75" fill="#e51e10"/>
<circle cx="588.1" cy="319.7" r="2.75" fill="#e51e10"/>
<circle cx="590" cy="320.7" r="2.75" fill="#e51e10"/>
<circle cx="591.9" cy="318.6" r="2.75" fill="#e51e10"/>
<circle cx="593.8" cy="319.6" r="2.75" fill="#e51e10"/>
<circle cx="595.7" cy="319.1" r="2.75" fill="#e51e10"/>
<circle cx="597.6" cy="318.1" r="2.75" fill="#e51e10"/>
<circle cx="599.5" cy="319.6" r="2.75" fill="#e51e10"/>
<circle cx="601.4" cy="318.4" r="2.75" fill="#e51e10"/>
<circle cx="603.3" cy="318.1" r="2.75" fill="#e51e10"/>
<circle cx="605.2" cy="318.8" r="2.75" fill="#e51e10"/>
<circle cx="607.1" cy="317.7" r="2.75" fill="#e51e10"/>
<circle cx="609" cy="318.6" r="2.75" fill="#e51e10"/>
<circle cx="610.9" cy="318.7" r="2.75" fill="#e51e10"/>
<circle cx="612.8" cy="318.5" r="2.75" fill="#e51e10"/>
<circle cx="614.7" cy="317.5" r="2.75" fill="#e51e10"/>
<circle cx="616.6" cy="317.9" r="2.75" fill="#e51e10"/>
<circle cx="618.5" cy="320" r="2.75" fill="#e51e10"/>
<circle cx="620.4" cy="318.2" r="2.75" fill="#e51e10"/>
<circle cx="622" cy="318" r="2.75" fill="#e51e10"/>
<circle cx="624.2" cy="319.6" r="2.75" fill="#e51e10"/>
<circle cx="626.4" cy="319.6" r="2.75" fill="#e51e10"/>
<circle cx="628.6" cy="318.8" r="2.75" fill="#e51e10"/>
<circle cx="630.8" cy="318.4" r="2.75" fill="#e51e10"/>
<circle cx="633" cy="318.3" r="2.75" fill="#e51e10"/>
<circle cx="635.2" cy="317.1" r="2.75" fill="#e51e10"/>
<circle cx="637.4" cy="318.3" r="2.75" fill="#e51e10"/>
<circle cx="639.6" cy="319.8" r="2.75" fill="#e51e10"/>
<circle cx="641.8" cy="319.3" r="2.75" fill="#e51e10"/>
<circle cx="644" cy="319.3" r="2.75" fill="#e51e10"/>
<circle cx="646.2" cy="319.6" r="2.75" fill="#e51e10"/>
<circle cx="648.4" cy="319.8" r="2.75" fill="#e51e10"/>
<circle cx="650.6" cy="320.5" r="2.75" fill="#e51e10"/>
<circle cx="652.8" cy="319.6" r="2.75" fill="#e51e10"/>
<circle cx="655" cy="320.2" r="2.75" fill="#e51e10"/>
<circle cx="657.2" cy="320.5" r="2.75" fill="#e51e10"/>
<circle cx="659.4" cy="319.1" r="2.75" fill="#e51e10"/>
<circle cx="661.6" cy="319.8" r="2.75" fill="#e51e10"/>
<circle cx="663.8" cy="319.8" r="2.75" fill="#e51e10"/>
<circle cx="666" cy="319.6" r="2.75" fill="#e51e10"/>
<circle cx="668.2" cy="320.9" r="2.75" fill="#e51e10"/>
<circle cx="670.4" cy="320" r="2.75" fill="#e51e10"/>
<circle cx="672.6" cy="319.2" r="2.75" fill="#e51e10"/>
<circle cx="674.8" cy="319.1" r="2.75" fill="#e51e10"/>
<circle cx="677" cy="318.8" r="2.75" fill="#e51e10"/>
<circle cx="679.2" cy="320.5" r="2.75" fill="#e51e10"/>
<circle cx="681.4" cy="320.2" r="2.75" fill="#e51e10"/>
<polyline points="560,318.8 562,319.04 563.9,318.75 565.8,319.18 567.7,319.05 569.6,319.07 571.5,319.52 573.4,319.14 575.3,319.63 577.2,319.21 579.1,320.44 581,320.12 582.9,319.93 584.8,319.74 586.7,318.96 588.6,319.39 590.5,318.03 592.4,318.71 594.3,316.99 596.2,319.14 598.1,318.1 600,317.97 601.9,317.95 603.8,319.56 605.7,319.53 607.6,318.57 609.5,319.72 611.4,319.15 613.3,317.74 615.2,317.94 617.1,317.83 619,315.71 620.9,315.92 622.9,316.05 626.5,313.9 630.1,314.27 633.7,314.08 637.3,313.6 640.9,313.72 644.5,313.27 648.1,313.38 651.7,312.3 655.3,311.15 658.9,310.64 662.5,309.98 666.1,311.23 669.7,308.96 673.3,310.62 676.9,310.79 680.5,311.03" fill="none" stroke="#000000" stroke-width="0.8" stroke-linejoin="round" stroke-linecap="round"/>
<path d="M562,316.7L564.5,320.6H559.5Z" fill="none" stroke="#000000" stroke-width=".7"/>
<path d="M563.9,316.4L566.4,320.3H561.4Z" fill="none" stroke="#000000" stroke-width=".7"/>
<path d="M565.8,316.9L568.3,320.8H563.3Z" fill="none" stroke="#000000" stroke-width=".7"/>
<path d="M567.7,316.8L570.2,320.7H565.2Z" fill="none" stroke="#000000" stroke-width=".7"/>
<path d="M569.6,316.8L572.1,320.7H567.1Z" fill="none" stroke="#000000" stroke-width=".7"/>
<path d="M571.5,317.2L574,321.1H569Z" fill="none" stroke="#000000" stroke-width=".7"/>
<path d="M573.4,316.8L575.9,320.7H570.9Z" fill="none" stroke="#000000" stroke-width=".7"/>
<path d="M575.3,317.3L577.8,321.2H572.8Z" fill="none" stroke="#000000" stroke-width=".7"/>
<path d="M577.2,316.9L579.7,320.8H574.7Z" fill="none" stroke="#000000" stroke-width=".7"/>
<path d="M579.1,318.1L581.6,322H576.6Z" fill="none" stroke="#000000" stroke-width=".7"/>
<path d="M581,317.8L583.5,321.7H578.5Z" fill="none" stroke="#000000" stroke-width=".7"/>
<path d="M582.9,317.6L585.4,321.5H580.4Z" fill="none" stroke="#000000" stroke-width=".7"/>
<path d="M584.8,317.4L587.3,321.3H582.3Z" fill="none" stroke="#000000" stroke-width=".7"/>
<path d="M586.7,316.7L589.2,320.6H584.2Z" fill="none" stroke="#000000" stroke-width=".7"/>
<path d="M588.6,317.1L591.1,321H586.1Z" fill="none" stroke="#000000" stroke-width=".7"/>
<path d="M590.5,315.7L593,319.6H588Z" fill="none" stroke="#000000" stroke-width=".7"/>
<path d="M592.4,316.4L594.9,320.3H589.9Z" fill="none" stroke="#000000" stroke-width=".7"/>
<path d="M594.3,314.7L596.8,318.6H591.8Z" fill="none" stroke="#000000" stroke-width=".7"/>
<path d="M596.2,316.8L598.7,320.7H593.7Z" fill="none" stroke="#000000" stroke-width=".7"/>
<path d="M598.1,315.8L600.6,319.7H595.6Z" fill="none" stroke="#000000" stroke-width=".7"/>
<path d="M600,315.7L602.5,319.6H597.5Z" fill="none" stroke="#000000" stroke-width=".7"/>
<path d="M601.9,315.6L604.4,319.5H599.4Z" fill="none" stroke="#000000" stroke-width=".7"/>
<path d="M603.8,317.3L606.3,321.2H601.3Z" fill="none" stroke="#000000" stroke-width=".7"/>
<path d="M605.7,317.2L608.2,321.1H603.2Z" fill="none" stroke="#000000" stroke-width=".7"/>
<path d="M607.6,316.3L610.1,320.2H605.1Z" fill="none" stroke="#000000" stroke-width=".7"/>
<path d="M609.5,317.4L612,321.3H607Z" fill="none" stroke="#000000" stroke-width=".7"/>
<path d="M611.4,316.9L613.9,320.8H608.9Z" fill="none" stroke="#000000" stroke-width=".7"/>
<path d="M613.3,315.4L615.8,319.3H610.8Z" fill="none" stroke="#000000" stroke-width=".7"/>
<path d="M615.2,315.6L617.7,319.5H612.7Z" fill="none" stroke="#000000" stroke-width=".7"/>
<path d="M617.1,315.5L619.6,319.4H614.6Z" fill="none" stroke="#000000" stroke-width=".7"/>
<path d="M619,313.4L621.5,317.3H616.5Z" fill="none" stroke="#000000" stroke-width=".7"/>
<path d="M620.9,313.6L623.4,317.5H618.4Z" fill="none" stroke="#000000" stroke-width=".7"/>
<path d="M622.9,313.7L625.4,317.6H620.4Z" fill="none" stroke="#000000" stroke-width=".7"/>
<path d="M626.5,311.6L629,315.5H624Z" fill="none" stroke="#000000" stroke-width=".7"/>
<path d="M630.1,312L632.6,315.9H627.6Z" fill="none" stroke="#000000" stroke-width=".7"/>
<path d="M633.7,311.8L636.2,315.7H631.2Z" fill="none" stroke="#000000" stroke-width=".7"/>
<path d="M637.3,311.3L639.8,315.2H634.8Z" fill="none" stroke="#000000" stroke-width=".7"/>
<path d="M640.9,311.4L643.4,315.3H638.4Z" fill="none" stroke="#000000" stroke-width=".7"/>
<path d="M644.5,311L647,314.9H642Z" fill="none" stroke="#000000" stroke-width=".7"/>
<path d="M648.1,311.1L650.6,315H645.6Z" fill="none" stroke="#000000" stroke-width=".7"/>
<path d="M651.7,310L654.2,313.9H649.2Z" fill="none" stroke="#000000" stroke-width=".7"/>
<path d="M655.3,308.8L657.8,312.7H652.8Z" fill="none" stroke="#000000" stroke-width=".7"/>
<path d="M658.9,308.3L661.4,312.2H656.4Z" fill="none" stroke="#000000" stroke-width=".7"/>
<path d="M662.5,307.7L665,311.6H660Z" fill="none" stroke="#000000" stroke-width=".7"/>
<path d="M666.1,308.9L668.6,312.8H663.6Z" fill="none" stroke="#000000" stroke-width=".7"/>
<path d="M669.7,306.7L672.2,310.6H667.2Z" fill="none" stroke="#000000" stroke-width=".7"/>
<path d="M673.3,308.3L675.8,312.2H670.8Z" fill="none" stroke="#000000" stroke-width=".7"/>
<path d="M676.9,308.5L679.4,312.4H674.4Z" fill="none" stroke="#000000" stroke-width=".7"/>
<path d="M680.5,308.7L683,312.6H678Z" fill="none" stroke="#000000" stroke-width=".7"/>
<path d="M421.3,316.2L424.2,320.7H418.4Z" fill="#9400d3"/>
<path d="M433.7,316.2L436.6,320.7H430.8Z" fill="#9400d3"/>
<path d="M442.5,316.2L445.4,320.7H439.6Z" fill="#9400d3"/>
<path d="M449.4,316.2L452.3,320.7H446.5Z" fill="#9400d3"/>
<path d="M454.9,316.2L457.8,320.7H452Z" fill="#9400d3"/>
<path d="M459.7,316.2L462.6,320.7H456.8Z" fill="#9400d3"/>
<path d="M463.7,316.2L466.6,320.7H460.8Z" fill="#9400d3"/>
<path d="M467.4,316.2L470.3,320.7H464.5Z" fill="#9400d3"/>
<path d="M470.6,316.2L473.5,320.7H467.7Z" fill="#9400d3"/>
<path d="M473.5,316.2L476.4,320.7H470.6Z" fill="#9400d3"/>
<path d="M476.2,316.2L479.1,320.7H473.3Z" fill="#9400d3"/>
<path d="M478.6,316.2L481.5,320.7H475.7Z" fill="#9400d3"/>
<path d="M480.9,316.2L483.8,320.7H478Z" fill="#9400d3"/>
<path d="M483,316.2L485.9,320.7H480.1Z" fill="#9400d3"/>
<path d="M485,316.2L487.9,320.7H482.1Z" fill="#9400d3"/>
<path d="M486.8,316.2L489.7,320.7H483.9Z" fill="#9400d3"/>
<path d="M488.6,316.2L491.5,320.7H485.7Z" fill="#9400d3"/>
<path d="M490.2,316.2L493.1,320.7H487.3Z" fill="#9400d3"/>
<path d="M491.8,316.2L494.7,320.7H488.9Z" fill="#9400d3"/>
<path d="M493.3,316.2L496.2,320.7H490.4Z" fill="#9400d3"/>
<path d="M494.7,316.2L497.6,320.7H491.8Z" fill="#9400d3"/>
<path d="M496.1,316.2L499,320.7H493.2Z" fill="#9400d3"/>
<path d="M497.4,316.2L500.3,320.7H494.5Z" fill="#9400d3"/>
<path d="M498.6,316.2L501.5,320.7H495.7Z" fill="#9400d3"/>
<path d="M499.8,316.2L502.7,320.7H496.9Z" fill="#9400d3"/>
<path d="M501,316.2L503.9,320.7H498.1Z" fill="#9400d3"/>
<path d="M502.2,316.2L505.1,320.7H499.3Z" fill="#9400d3"/>
<path d="M503.4,316.2L506.3,320.7H500.5Z" fill="#9400d3"/>
<path d="M504.6,316.2L507.5,320.7H501.7Z" fill="#9400d3"/>
<path d="M505.8,316.2L508.7,320.7H502.9Z" fill="#9400d3"/>
<path d="M507,316.2L509.9,320.7H504.1Z" fill="#9400d3"/>
<path d="M508.2,316.2L511.1,320.7H505.3Z" fill="#9400d3"/>
<path d="M509.4,316.2L512.3,320.7H506.5Z" fill="#9400d3"/>
<path d="M510.6,316.2L513.5,320.7H507.7Z" fill="#9400d3"/>
<path d="M511.8,316.2L514.7,320.7H508.9Z" fill="#9400d3"/>
<path d="M513,316.2L515.9,320.7H510.1Z" fill="#9400d3"/>
<path d="M514.2,316.2L517.1,320.7H511.3Z" fill="#9400d3"/>
<path d="M515.4,316.2L518.3,320.7H512.5Z" fill="#9400d3"/>
<path d="M516.6,316.2L519.5,320.7H513.7Z" fill="#9400d3"/>
<path d="M517.8,316.2L520.7,320.7H514.9Z" fill="#9400d3"/>
<path d="M519,316.2L521.9,320.7H516.1Z" fill="#9400d3"/>
<path d="M520.2,316.2L523.1,320.7H517.3Z" fill="#9400d3"/>
<path d="M521.4,316.2L524.3,320.7H518.5Z" fill="#9400d3"/>
<path d="M522.6,316.2L525.5,320.7H519.7Z" fill="#9400d3"/>
<path d="M523.8,316.2L526.7,320.7H520.9Z" fill="#9400d3"/>
<path d="M525,316.2L527.9,320.7H522.1Z" fill="#9400d3"/>
<path d="M526.2,316.2L529.1,320.7H523.3Z" fill="#9400d3"/>
<path d="M527.4,316.2L530.3,320.7H524.5Z" fill="#9400d3"/>
<path d="M528.6,316.2L531.5,320.7H525.7Z" fill="#9400d3"/>
<path d="M529.8,316.2L532.7,320.7H526.9Z" fill="#9400d3"/>
<path d="M531,316.2L533.9,320.7H528.1Z" fill="#9400d3"/>
<path d="M532.2,316.2L535.1,320.7H529.3Z" fill="#9400d3"/>
<path d="M533.4,316.2L536.3,320.7H530.5Z" fill="#9400d3"/>
<path d="M534.6,316.2L537.5,320.7H531.7Z" fill="#9400d3"/>
<path d="M535.8,316.2L538.7,320.7H532.9Z" fill="#9400d3"/>
<path d="M537,316.2L539.9,320.7H534.1Z" fill="#9400d3"/>
<path d="M538.2,316.2L541.1,320.7H535.3Z" fill="#9400d3"/>
<path d="M539.4,316.2L542.3,320.7H536.5Z" fill="#9400d3"/>
<path d="M540.6,316.2L543.5,320.7H537.7Z" fill="#9400d3"/>
<path d="M541.8,316.2L544.7,320.7H538.9Z" fill="#9400d3"/>
<path d="M543,316.2L545.9,320.7H540.1Z" fill="#9400d3"/>
<path d="M544.2,316.2L547.1,320.7H541.3Z" fill="#9400d3"/>
<path d="M545.4,316.2L548.3,320.7H542.5Z" fill="#9400d3"/>
<path d="M546.6,316.2L549.5,320.7H543.7Z" fill="#9400d3"/>
<path d="M547.8,316.2L550.7,320.7H544.9Z" fill="#9400d3"/>
<path d="M549,316.2L551.9,320.7H546.1Z" fill="#9400d3"/>
<path d="M550.2,316.2L553.1,320.7H547.3Z" fill="#9400d3"/>
<path d="M551.4,316.2L554.3,320.7H548.5Z" fill="#9400d3"/>
<path d="M552.6,316.2L555.5,320.7H549.7Z" fill="#9400d3"/>
<path d="M553.8,316.2L556.7,320.7H550.9Z" fill="#9400d3"/>
<path d="M555,316.2L557.9,320.7H552.1Z" fill="#9400d3"/>
<path d="M556.2,316.2L559.1,320.7H553.3Z" fill="#9400d3"/>
<path d="M557.4,316.2L560.3,320.7H554.5Z" fill="#9400d3"/>
<path d="M558.6,316.2L561.5,320.7H555.7Z" fill="#9400d3"/>
<path d="M559.8,316.2L562.7,320.7H556.9Z" fill="#9400d3"/>
<polyline points="560,318.8 562.5,318.86 564.4,318.66 566.3,318.71 568.2,319.16 570.1,318.86 572,318.77 573.9,318.94 575.8,317.86 577.7,318.17 579.6,317.46 581.5,318.25 583.4,317.13 585.3,316.01 587.2,317.38 589.1,316.16 591,315.65 592.9,313.45 594.8,313.15 596.7,314.5 598.6,314.03 600.5,312.33 602.4,313.54 604.3,312.54 606.2,313.24 608.1,314.09 610,311.01 611.9,310.86 613.8,311.4 615.7,311.4 617.6,310.59 619.5,309.1 621.4,309.34 623.8,306.34 627.6,305.15 631.4,305.59 635.2,301.74 639,299.83 642.8,296.16 646.6,300.32 650.4,300.09 654.2,297.31 658,297.43 661.8,294.28 665.6,293.3 669.4,294.99 673.2,295.19 677,298.92 680.8,296.25" fill="none" stroke="#9400d3" stroke-width="0.8" stroke-linejoin="round" stroke-linecap="round"/>
<path d="M562.5,316.3L565.4,320.8H559.6Z" fill="#9400d3"/>
<path d="M564.4,316.1L567.3,320.6H561.5Z" fill="#9400d3"/>
<path d="M566.3,316.1L569.2,320.6H563.4Z" fill="#9400d3"/>
<path d="M568.2,316.6L571.1,321.1H565.3Z" fill="#9400d3"/>
<path d="M570.1,316.3L573,320.8H567.2Z" fill="#9400d3"/>
<path d="M572,316.2L574.9,320.7H569.1Z" fill="#9400d3"/>
<path d="M573.9,316.3L576.8,320.8H571Z" fill="#9400d3"/>
<path d="M575.8,315.3L578.7,319.8H572.9Z" fill="#9400d3"/>
<path d="M577.7,315.6L580.6,320.1H574.8Z" fill="#9400d3"/>
<path d="M579.6,314.9L582.5,319.4H576.7Z" fill="#9400d3"/>
<path d="M581.5,315.7L584.4,320.2H578.6Z" fill="#9400d3"/>
<path d="M583.4,314.5L586.3,319H580.5Z" fill="#9400d3"/>
<path d="M585.3,313.4L588.2,317.9H582.4Z" fill="#9400d3"/>
<path d="M587.2,314.8L590.1,319.3H584.3Z" fill="#9400d3"/>
<path d="M589.1,313.6L592,318.1H586.2Z" fill="#9400d3"/>
<path d="M591,313L593.9,317.5H588.1Z" fill="#9400d3"/>
<path d="M592.9,310.9L595.8,315.4H590Z" fill="#9400d3"/>
<path d="M594.8,310.5L597.7,315H591.9Z" fill="#9400d3"/>
<path d="M596.7,311.9L599.6,316.4H593.8Z" fill="#9400d3"/>
<path d="M598.6,311.4L601.5,315.9H595.7Z" fill="#9400d3"/>
<path d="M600.5,309.7L603.4,314.2H597.6Z" fill="#9400d3"/>
<path d="M602.4,310.9L605.3,315.4H599.5Z" fill="#9400d3"/>
<path d="M604.3,309.9L607.2,314.4H601.4Z" fill="#9400d3"/>
<path d="M606.2,310.6L609.1,315.1H603.3Z" fill="#9400d3"/>
<path d="M608.1,311.5L611,316H605.2Z" fill="#9400d3"/>
<path d="M610,308.4L612.9,312.9H607.1Z" fill="#9400d3"/>
<path d="M611.9,308.3L614.8,312.8H609Z" fill="#9400d3"/>
<path d="M613.8,308.8L616.7,313.3H610.9Z" fill="#9400d3"/>
<path d="M615.7,308.8L618.6,313.3H612.8Z" fill="#9400d3"/>
<path d="M617.6,308L620.5,312.5H614.7Z" fill="#9400d3"/>
<path d="M619.5,306.5L622.4,311H616.6Z" fill="#9400d3"/>
<path d="M621.4,306.7L624.3,311.2H618.5Z" fill="#9400d3"/>
<path d="M623.8,303.7L626.7,308.2H620.9Z" fill="#9400d3"/>
<path d="M627.6,302.5L630.5,307H624.7Z" fill="#9400d3"/>
<path d="M631.4,303L634.3,307.5H628.5Z" fill="#9400d3"/>
<path d="M635.2,299.1L638.1,303.6H632.3Z" fill="#9400d3"/>
<path d="M639,297.2L641.9,301.7H636.1Z" fill="#9400d3"/>
<path d="M642.8,293.6L645.7,298.1H639.9Z" fill="#9400d3"/>
<path d="M646.6,297.7L649.5,302.2H643.7Z" fill="#9400d3"/>
<path d="M650.4,297.5L653.3,302H647.5Z" fill="#9400d3"/>
<path d="M654.2,294.7L657.1,299.2H651.3Z" fill="#9400d3"/>
<path d="M658,294.8L660.9,299.3H655.1Z" fill="#9400d3"/>
<path d="M661.8,291.7L664.7,296.2H658.9Z" fill="#9400d3"/>
<path d="M665.6,290.7L668.5,295.2H662.7Z" fill="#9400d3"/>
<path d="M669.4,292.4L672.3,296.9H666.5Z" fill="#9400d3"/>
<path d="M673.2,292.6L676.1,297.1H670.3Z" fill="#9400d3"/>
<path d="M677,296.3L679.9,300.8H674.1Z" fill="#9400d3"/>
<path d="M680.8,293.7L683.7,298.2H677.9Z" fill="#9400d3"/>
<polyline points="560,318.8 561.5,318.73 563.4,318.71 565.3,318.46 567.2,318.7 569.1,318.67 571,318.07 572.9,318.56 574.8,318.11 576.7,318.51 578.6,317.48 580.5,316.39 582.4,316.89 584.3,316.1 586.2,315.04 588.1,314.04 590,312.29 591.9,312.59 593.8,309.97 595.7,310.87 597.6,309.85 599.5,309.03 601.4,308.82 603.3,306.69 605.2,308.75 607.1,307.67 609,306.81 610.9,307.21 612.8,306.39 614.7,305.15 616.6,303.17 618.5,303.73 620.4,301.59 622,298.07 626.2,296.32 630.4,293.82 634.6,292.74 638.8,287.54 643,286.28 647.2,285.45 651.4,282.01 655.6,275.84 659.8,277.25 664,273.62 668.2,275.79 672.4,276.95 676.6,272.05 680.8,266.72" fill="none" stroke="#009e73" stroke-width="0.8" stroke-linejoin="round" stroke-linecap="round"/>
<path d="M561.5,321L564,317.1H559Z" fill="none" stroke="#009e73" stroke-width=".7"/>
<path d="M563.4,321L565.9,317.1H560.9Z" fill="none" stroke="#009e73" stroke-width=".7"/>
<path d="M565.3,320.8L567.8,316.9H562.8Z" fill="none" stroke="#009e73" stroke-width=".7"/>
<path d="M567.2,321L569.7,317.1H564.7Z" fill="none" stroke="#009e73" stroke-width=".7"/>
<path d="M569.1,321L571.6,317.1H566.6Z" fill="none" stroke="#009e73" stroke-width=".7"/>
<path d="M571,320.4L573.5,316.5H568.5Z" fill="none" stroke="#009e73" stroke-width=".7"/>
<path d="M572.9,320.9L575.4,317H570.4Z" fill="none" stroke="#009e73" stroke-width=".7"/>
<path d="M574.8,320.4L577.3,316.5H572.3Z" fill="none" stroke="#009e73" stroke-width=".7"/>
<path d="M576.7,320.8L579.2,316.9H574.2Z" fill="none" stroke="#009e73" stroke-width=".7"/>
<path d="M578.6,319.8L581.1,315.9H576.1Z" fill="none" stroke="#009e73" stroke-width=".7"/>
<path d="M580.5,318.7L583,314.8H578Z" fill="none" stroke="#009e73" stroke-width=".7"/>
<path d="M582.4,319.2L584.9,315.3H579.9Z" fill="none" stroke="#009e73" stroke-width=".7"/>
<path d="M584.3,318.4L586.8,314.5H581.8Z" fill="none" stroke="#009e73" stroke-width=".7"/>
<path d="M586.2,317.3L588.7,313.4H583.7Z" fill="none" stroke="#009e73" stroke-width=".7"/>
<path d="M588.1,316.3L590.6,312.4H585.6Z" fill="none" stroke="#009e73" stroke-width=".7"/>
<path d="M590,314.6L592.5,310.7H587.5Z" fill="none" stroke="#009e73" stroke-width=".7"/>
<path d="M591.9,314.9L594.4,311H589.4Z" fill="none" stroke="#009e73" stroke-width=".7"/>
<path d="M593.8,312.3L596.3,308.4H591.3Z" fill="none" stroke="#009e73" stroke-width=".7"/>
<path d="M595.7,313.2L598.2,309.3H593.2Z" fill="none" stroke="#009e73" stroke-width=".7"/>
<path d="M597.6,312.2L600.1,308.3H595.1Z" fill="none" stroke="#009e73" stroke-width=".7"/>
<path d="M599.5,311.3L602,307.4H597Z" fill="none" stroke="#009e73" stroke-width=".7"/>
<path d="M601.4,311.1L603.9,307.2H598.9Z" fill="none" stroke="#009e73" stroke-width=".7"/>
<path d="M603.3,309L605.8,305.1H600.8Z" fill="none" stroke="#009e73" stroke-width=".7"/>
<path d="M605.2,311L607.7,307.1H602.7Z" fill="none" stroke="#009e73" stroke-width=".7"/>
<path d="M607.1,310L609.6,306.1H604.6Z" fill="none" stroke="#009e73" stroke-width=".7"/>
<path d="M609,309.1L611.5,305.2H606.5Z" fill="none" stroke="#009e73" stroke-width=".7"/>
<path d="M610.9,309.5L613.4,305.6H608.4Z" fill="none" stroke="#009e73" stroke-width=".7"/>
<path d="M612.8,308.7L615.3,304.8H610.3Z" fill="none" stroke="#009e73" stroke-width=".7"/>
<path d="M614.7,307.5L617.2,303.6H612.2Z" fill="none" stroke="#009e73" stroke-width=".7"/>
<path d="M616.6,305.5L619.1,301.6H614.1Z" fill="none" stroke="#009e73" stroke-width=".7"/>
<path d="M618.5,306L621,302.1H616Z" fill="none" stroke="#009e73" stroke-width=".7"/>
<path d="M620.4,303.9L622.9,300H617.9Z" fill="none" stroke="#009e73" stroke-width=".7"/>
<path d="M622,300.4L624.5,296.5H619.5Z" fill="none" stroke="#009e73" stroke-width=".7"/>
<path d="M626.2,298.6L628.7,294.7H623.7Z" fill="none" stroke="#009e73" stroke-width=".7"/>
<path d="M630.4,296.1L632.9,292.2H627.9Z" fill="none" stroke="#009e73" stroke-width=".7"/>
<path d="M634.6,295L637.1,291.1H632.1Z" fill="none" stroke="#009e73" stroke-width=".7"/>
<path d="M638.8,289.8L641.3,285.9H636.3Z" fill="none" stroke="#009e73" stroke-width=".7"/>
<path d="M643,288.6L645.5,284.7H640.5Z" fill="none" stroke="#009e73" stroke-width=".7"/>
<path d="M647.2,287.7L649.7,283.8H644.7Z" fill="none" stroke="#009e73" stroke-width=".7"/>
<path d="M651.4,284.3L653.9,280.4H648.9Z" fill="none" stroke="#009e73" stroke-width=".7"/>
<path d="M655.6,278.1L658.1,274.2H653.1Z" fill="none" stroke="#009e73" stroke-width=".7"/>
<path d="M659.8,279.5L662.3,275.6H657.3Z" fill="none" stroke="#009e73" stroke-width=".7"/>
<path d="M664,275.9L666.5,272H661.5Z" fill="none" stroke="#009e73" stroke-width=".7"/>
<path d="M668.2,278.1L670.7,274.2H665.7Z" fill="none" stroke="#009e73" stroke-width=".7"/>
<path d="M672.4,279.3L674.9,275.4H669.9Z" fill="none" stroke="#009e73" stroke-width=".7"/>
<path d="M676.6,274.3L679.1,270.4H674.1Z" fill="none" stroke="#009e73" stroke-width=".7"/>
<path d="M680.8,269L683.3,265.1H678.3Z" fill="none" stroke="#009e73" stroke-width=".7"/>
<path d="M421.3,321.4L424.2,316.9H418.4Z" fill="#56b4e9"/>
<path d="M433.7,321.4L436.6,316.9H430.8Z" fill="#56b4e9"/>
<path d="M442.5,321.4L445.4,316.9H439.6Z" fill="#56b4e9"/>
<path d="M449.4,321.4L452.3,316.9H446.5Z" fill="#56b4e9"/>
<path d="M454.9,321.4L457.8,316.9H452Z" fill="#56b4e9"/>
<path d="M459.7,321.4L462.6,316.9H456.8Z" fill="#56b4e9"/>
<path d="M463.7,321.4L466.6,316.9H460.8Z" fill="#56b4e9"/>
<path d="M467.4,321.4L470.3,316.9H464.5Z" fill="#56b4e9"/>
<path d="M470.6,321.4L473.5,316.9H467.7Z" fill="#56b4e9"/>
<path d="M473.5,321.4L476.4,316.9H470.6Z" fill="#56b4e9"/>
<path d="M476.2,321.4L479.1,316.9H473.3Z" fill="#56b4e9"/>
<path d="M478.6,321.4L481.5,316.9H475.7Z" fill="#56b4e9"/>
<path d="M480.9,321.4L483.8,316.9H478Z" fill="#56b4e9"/>
<path d="M483,321.4L485.9,316.9H480.1Z" fill="#56b4e9"/>
<path d="M485,321.4L487.9,316.9H482.1Z" fill="#56b4e9"/>
<path d="M486.8,321.4L489.7,316.9H483.9Z" fill="#56b4e9"/>
<path d="M488.6,321.4L491.5,316.9H485.7Z" fill="#56b4e9"/>
<path d="M490.2,321.4L493.1,316.9H487.3Z" fill="#56b4e9"/>
<path d="M491.8,321.4L494.7,316.9H488.9Z" fill="#56b4e9"/>
<path d="M493.3,321.4L496.2,316.9H490.4Z" fill="#56b4e9"/>
<path d="M494.7,321.4L497.6,316.9H491.8Z" fill="#56b4e9"/>
<path d="M496.1,321.4L499,316.9H493.2Z" fill="#56b4e9"/>
<path d="M497.4,321.4L500.3,316.9H494.5Z" fill="#56b4e9"/>
<path d="M498.6,321.4L501.5,316.9H495.7Z" fill="#56b4e9"/>
<path d="M499.8,321.4L502.7,316.9H496.9Z" fill="#56b4e9"/>
<path d="M501,321.4L503.9,316.9H498.1Z" fill="#56b4e9"/>
<path d="M502.2,321.4L505.1,316.9H499.3Z" fill="#56b4e9"/>
<path d="M503.4,321.4L506.3,316.9H500.5Z" fill="#56b4e9"/>
<path d="M504.6,321.4L507.5,316.9H501.7Z" fill="#56b4e9"/>
<path d="M505.8,321.4L508.7,316.9H502.9Z" fill="#56b4e9"/>
<path d="M507,321.4L509.9,316.9H504.1Z" fill="#56b4e9"/>
<path d="M508.2,321.4L511.1,316.9H505.3Z" fill="#56b4e9"/>
<path d="M509.4,321.4L512.3,316.9H506.5Z" fill="#56b4e9"/>
<path d="M510.6,321.4L513.5,316.9H507.7Z" fill="#56b4e9"/>
<path d="M511.8,321.4L514.7,316.9H508.9Z" fill="#56b4e9"/>
<path d="M513,321.4L515.9,316.9H510.1Z" fill="#56b4e9"/>
<path d="M514.2,321.4L517.1,316.9H511.3Z" fill="#56b4e9"/>
<path d="M515.4,321.4L518.3,316.9H512.5Z" fill="#56b4e9"/>
<path d="M516.6,321.4L519.5,316.9H513.7Z" fill="#56b4e9"/>
<path d="M517.8,321.4L520.7,316.9H514.9Z" fill="#56b4e9"/>
<path d="M519,321.4L521.9,316.9H516.1Z" fill="#56b4e9"/>
<path d="M520.2,321.4L523.1,316.9H517.3Z" fill="#56b4e9"/>
<path d="M521.4,321.4L524.3,316.9H518.5Z" fill="#56b4e9"/>
<path d="M522.6,321.4L525.5,316.9H519.7Z" fill="#56b4e9"/>
<path d="M523.8,321.4L526.7,316.9H520.9Z" fill="#56b4e9"/>
<path d="M525,321.4L527.9,316.9H522.1Z" fill="#56b4e9"/>
<path d="M526.2,321.4L529.1,316.9H523.3Z" fill="#56b4e9"/>
<path d="M527.4,321.4L530.3,316.9H524.5Z" fill="#56b4e9"/>
<path d="M528.6,321.4L531.5,316.9H525.7Z" fill="#56b4e9"/>
<path d="M529.8,321.4L532.7,316.9H526.9Z" fill="#56b4e9"/>
<path d="M531,321.4L533.9,316.9H528.1Z" fill="#56b4e9"/>
<path d="M532.2,321.4L535.1,316.9H529.3Z" fill="#56b4e9"/>
<path d="M533.4,321.4L536.3,316.9H530.5Z" fill="#56b4e9"/>
<path d="M534.6,321.4L537.5,316.9H531.7Z" fill="#56b4e9"/>
<path d="M535.8,321.4L538.7,316.9H532.9Z" fill="#56b4e9"/>
<path d="M537,321.4L539.9,316.9H534.1Z" fill="#56b4e9"/>
<path d="M538.2,321.4L541.1,316.9H535.3Z" fill="#56b4e9"/>
<path d="M539.4,321.4L542.3,316.9H536.5Z" fill="#56b4e9"/>
<path d="M540.6,321.4L543.5,316.9H537.7Z" fill="#56b4e9"/>
<path d="M541.8,321.4L544.7,316.9H538.9Z" fill="#56b4e9"/>
<path d="M543,321.4L545.9,316.9H540.1Z" fill="#56b4e9"/>
<path d="M544.2,321.4L547.1,316.9H541.3Z" fill="#56b4e9"/>
<path d="M545.4,321.4L548.3,316.9H542.5Z" fill="#56b4e9"/>
<path d="M546.6,321.4L549.5,316.9H543.7Z" fill="#56b4e9"/>
<path d="M547.8,321.4L550.7,316.9H544.9Z" fill="#56b4e9"/>
<path d="M549,321.4L551.9,316.9H546.1Z" fill="#56b4e9"/>
<path d="M550.2,321.4L553.1,316.9H547.3Z" fill="#56b4e9"/>
<path d="M551.4,321.4L554.3,316.9H548.5Z" fill="#56b4e9"/>
<path d="M552.6,321.4L555.5,316.9H549.7Z" fill="#56b4e9"/>
<path d="M553.8,321.4L556.7,316.9H550.9Z" fill="#56b4e9"/>
<path d="M555,321.4L557.9,316.9H552.1Z" fill="#56b4e9"/>
<path d="M556.2,321.4L559.1,316.9H553.3Z" fill="#56b4e9"/>
<path d="M557.4,321.4L560.3,316.9H554.5Z" fill="#56b4e9"/>
<path d="M558.6,321.4L561.5,316.9H555.7Z" fill="#56b4e9"/>
<path d="M559.8,321.4L562.7,316.9H556.9Z" fill="#56b4e9"/>
<polyline points="560,318.8 562,318.56 563.9,318.56 565.8,318.63 567.7,318.6 569.6,318.01 571.5,317.97 573.4,317.53 575.3,317.51 577.2,316.16 579.1,315.79 581,313.85 582.9,313.9 584.8,311.97 586.7,311.99 588.6,311.16 590.5,308.86 592.4,309.19 594.3,309.73 596.2,308.36 598.1,305.93 600,304.05 601.9,304.19 603.8,303.25 605.7,302.28 607.6,303.45 609.5,304.66 611.4,303.38 613.3,304.18 615.2,300.66 617.1,299.39 619,295.7 620.9,293.79 622.9,291.47 627.5,290.44 632.1,284.66 636.7,285.58 641.3,278.44 645.9,275.92 650.5,268.27 655.1,264.55 659.7,263.55 664.3,248.73 668.9,242.77 673.5,240.42 678.1,236.37 682.7,230.21" fill="none" stroke="#56b4e9" stroke-width="0.8" stroke-linejoin="round" stroke-linecap="round"/>
<path d="M562,321.2L564.9,316.7H559.1Z" fill="#56b4e9"/>
<path d="M563.9,321.2L566.8,316.7H561Z" fill="#56b4e9"/>
<path d="M565.8,321.2L568.7,316.7H562.9Z" fill="#56b4e9"/>
<path d="M567.7,321.2L570.6,316.7H564.8Z" fill="#56b4e9"/>
<path d="M569.6,320.6L572.5,316.1H566.7Z" fill="#56b4e9"/>
<path d="M571.5,320.6L574.4,316.1H568.6Z" fill="#56b4e9"/>
<path d="M573.4,320.1L576.3,315.6H570.5Z" fill="#56b4e9"/>
<path d="M575.3,320.1L578.2,315.6H572.4Z" fill="#56b4e9"/>
<path d="M577.2,318.8L580.1,314.3H574.3Z" fill="#56b4e9"/>
<path d="M579.1,318.4L582,313.9H576.2Z" fill="#56b4e9"/>
<path d="M581,316.5L583.9,312H578.1Z" fill="#56b4e9"/>
<path d="M582.9,316.5L585.8,312H580Z" fill="#56b4e9"/>
<path d="M584.8,314.6L587.7,310.1H581.9Z" fill="#56b4e9"/>
<path d="M586.7,314.6L589.6,310.1H583.8Z" fill="#56b4e9"/>
<path d="M588.6,313.8L591.5,309.3H585.7Z" fill="#56b4e9"/>
<path d="M590.5,311.5L593.4,307H587.6Z" fill="#56b4e9"/>
<path d="M592.4,311.8L595.3,307.3H589.5Z" fill="#56b4e9"/>
<path d="M594.3,312.3L597.2,307.8H591.4Z" fill="#56b4e9"/>
<path d="M596.2,311L599.1,306.5H593.3Z" fill="#56b4e9"/>
<path d="M598.1,308.5L601,304H595.2Z" fill="#56b4e9"/>
<path d="M600,306.7L602.9,302.2H597.1Z" fill="#56b4e9"/>
<path d="M601.9,306.8L604.8,302.3H599Z" fill="#56b4e9"/>
<path d="M603.8,305.9L606.7,301.4H600.9Z" fill="#56b4e9"/>
<path d="M605.7,304.9L608.6,300.4H602.8Z" fill="#56b4e9"/>
<path d="M607.6,306L610.5,301.5H604.7Z" fill="#56b4e9"/>
<path d="M609.5,307.3L612.4,302.8H606.6Z" fill="#56b4e9"/>
<path d="M611.4,306L614.3,301.5H608.5Z" fill="#56b4e9"/>
<path d="M613.3,306.8L616.2,302.3H610.4Z" fill="#56b4e9"/>
<path d="M615.2,303.3L618.1,298.8H612.3Z" fill="#56b4e9"/>
<path d="M617.1,302L620,297.5H614.2Z" fill="#56b4e9"/>
<path d="M619,298.3L621.9,293.8H616.1Z" fill="#56b4e9"/>
<path d="M620.9,296.4L623.8,291.9H618Z" fill="#56b4e9"/>
<path d="M622.9,294.1L625.8,289.6H620Z" fill="#56b4e9"/>
<path d="M627.5,293L630.4,288.5H624.6Z" fill="#56b4e9"/>
<path d="M632.1,287.3L635,282.8H629.2Z" fill="#56b4e9"/>
<path d="M636.7,288.2L639.6,283.7H633.8Z" fill="#56b4e9"/>
<path d="M641.3,281L644.2,276.5H638.4Z" fill="#56b4e9"/>
<path d="M645.9,278.5L648.8,274H643Z" fill="#56b4e9"/>
<path d="M650.5,270.9L653.4,266.4H647.6Z" fill="#56b4e9"/>
<path d="M655.1,267.2L658,262.7H652.2Z" fill="#56b4e9"/>
<path d="M659.7,266.1L662.6,261.6H656.8Z" fill="#56b4e9"/>
<path d="M664.3,251.3L667.2,246.8H661.4Z" fill="#56b4e9"/>
<path d="M668.9,245.4L671.8,240.9H666Z" fill="#56b4e9"/>
<path d="M673.5,243L676.4,238.5H670.6Z" fill="#56b4e9"/>
<path d="M678.1,239L681,234.5H675.2Z" fill="#56b4e9"/>
<path d="M682.7,232.8L685.6,228.3H679.8Z" fill="#56b4e9"/>
</g>
<text x="436.2" y="206.7" font-size="7.3"><tspan font-style="italic">f</tspan><tspan font-size="5.0" dx="0.2" dy="2.6">0</tspan><tspan font-size="5.0" dx="0.2" dy="-6.5">read</tspan><tspan dy="3.9"> = 0</tspan></text>
<line x1="474.1" y1="204.2" x2="499.5" y2="204.2" stroke="#9400d3" stroke-width="0.8" opacity="0.75"/>
<path d="M484.3,204.2h5m-2.5,-2.5v5" stroke="#9400d3" stroke-width=".7"/>
<text x="470.9" text-anchor="end" y="217.04" font-size="7.3"><tspan font-style="italic">f</tspan><tspan font-size="5.0" dx="0.2" dy="2.6">0</tspan><tspan font-size="5.0" dx="0.2" dy="-6.5">read</tspan><tspan dy="3.9"> = 0.2</tspan></text>
<line x1="474.1" y1="214.54" x2="499.5" y2="214.54" stroke="#009e73" stroke-width="0.8" opacity="0.75"/>
<path d="M484.5,212.2l4.6,4.6m-4.6,0l4.6,-4.6" stroke="#009e73" stroke-width=".7"/>
<text x="470.9" text-anchor="end" y="227.38" font-size="7.3"><tspan font-style="italic">f</tspan><tspan font-size="5.0" dx="0.2" dy="2.6">0</tspan><tspan font-size="5.0" dx="0.2" dy="-6.5">read</tspan><tspan dy="3.9"> = 0.4</tspan></text>
<line x1="474.1" y1="224.88" x2="499.5" y2="224.88" stroke="#56b4e9" stroke-width="0.8" opacity="0.75"/>
<path d="M484.3,224.9h5m-2.5,-2.5v5m-1.8,-4.3l3.6,3.6m-3.6,0l3.6,-3.6" stroke="#56b4e9" stroke-width=".7"/>
<text x="470.9" text-anchor="end" y="237.72" font-size="7.3"><tspan font-style="italic">f</tspan><tspan font-size="5.0" dx="0.2" dy="2.6">0</tspan><tspan font-size="5.0" dx="0.2" dy="-6.5">read</tspan><tspan dy="3.9"> = 0.6</tspan></text>
<line x1="474.1" y1="235.22" x2="499.5" y2="235.22" stroke="#e69f00" stroke-width="0.8" opacity="0.75"/>
<rect x="484.3" y="232.7" width="5" height="5" fill="none" stroke="#e69f00" stroke-width=".7"/>
<text x="470.9" text-anchor="end" y="248.06" font-size="7.3"><tspan font-style="italic">f</tspan><tspan font-size="5.0" dx="0.2" dy="2.6">0</tspan><tspan font-size="5.0" dx="0.2" dy="-6.5">read</tspan><tspan dy="3.9"> = 0.8</tspan></text>
<line x1="474.1" y1="245.56" x2="499.5" y2="245.56" stroke="#f0e442" stroke-width="0.8" opacity="0.75"/>
<rect x="483.8" y="242.6" width="6" height="6" fill="#f0e442"/>
<text x="470.9" text-anchor="end" y="258.4" font-size="7.3"><tspan font-style="italic">f</tspan><tspan font-size="5.0" dx="0.2" dy="2.6">0</tspan><tspan font-size="5.0" dx="0.2" dy="-6.5">read</tspan><tspan dy="3.9"> = 1.0</tspan></text>
<line x1="474.1" y1="255.9" x2="499.5" y2="255.9" stroke="#0072b2" stroke-width="0.8" opacity="0.75"/>
<circle cx="486.8" cy="255.9" r="2.3" fill="none" stroke="#0072b2" stroke-width=".8"/>
<text x="470.9" text-anchor="end" y="268.74" font-size="7.3"><tspan font-style="italic">f</tspan><tspan font-size="5.0" dx="0.2" dy="2.6">0</tspan><tspan font-size="5.0" dx="0.2" dy="-6.5">read</tspan><tspan dy="3.9"> = 1.2</tspan></text>
<line x1="474.1" y1="266.24" x2="499.5" y2="266.24" stroke="#e51e10" stroke-width="0.8" opacity="0.75"/>
<circle cx="486.8" cy="266.2" r="2.75" fill="#e51e10"/>
<text x="470.9" text-anchor="end" y="279.08" font-size="7.3"><tspan font-style="italic">f</tspan><tspan font-size="5.0" dx="0.2" dy="2.6">0</tspan><tspan font-size="5.0" dx="0.2" dy="-6.5">read</tspan><tspan dy="3.9"> = 1.4</tspan></text>
<line x1="474.1" y1="276.58" x2="499.5" y2="276.58" stroke="#000000" stroke-width="0.8" opacity="0.75"/>
<path d="M486.8,274.3L489.3,278.2H484.3Z" fill="none" stroke="#000000" stroke-width=".7"/>
<text x="470.9" text-anchor="end" y="289.42" font-size="7.3"><tspan font-style="italic">f</tspan><tspan font-size="5.0" dx="0.2" dy="2.6">0</tspan><tspan font-size="5.0" dx="0.2" dy="-6.5">read</tspan><tspan dy="3.9"> = 1.6</tspan></text>
<line x1="474.1" y1="286.92" x2="499.5" y2="286.92" stroke="#9400d3" stroke-width="0.8" opacity="0.75"/>
<path d="M486.8,284.3L489.7,288.8H483.9Z" fill="#9400d3"/>
<text x="470.9" text-anchor="end" y="299.76" font-size="7.3"><tspan font-style="italic">f</tspan><tspan font-size="5.0" dx="0.2" dy="2.6">0</tspan><tspan font-size="5.0" dx="0.2" dy="-6.5">read</tspan><tspan dy="3.9"> = 1.8</tspan></text>
<line x1="474.1" y1="297.26" x2="499.5" y2="297.26" stroke="#009e73" stroke-width="0.8" opacity="0.75"/>
<path d="M486.8,299.6L489.3,295.7H484.3Z" fill="none" stroke="#009e73" stroke-width=".7"/>
<text x="470.9" text-anchor="end" y="310.1" font-size="7.3"><tspan font-style="italic">f</tspan><tspan font-size="5.0" dx="0.2" dy="2.6">0</tspan><tspan font-size="5.0" dx="0.2" dy="-6.5">read</tspan><tspan dy="3.9"> = 1.9</tspan></text>
<line x1="474.1" y1="307.6" x2="499.5" y2="307.6" stroke="#56b4e9" stroke-width="0.8" opacity="0.75"/>
<path d="M486.8,310.2L489.7,305.7H483.9Z" fill="#56b4e9"/>
</svg>
</body></html>
